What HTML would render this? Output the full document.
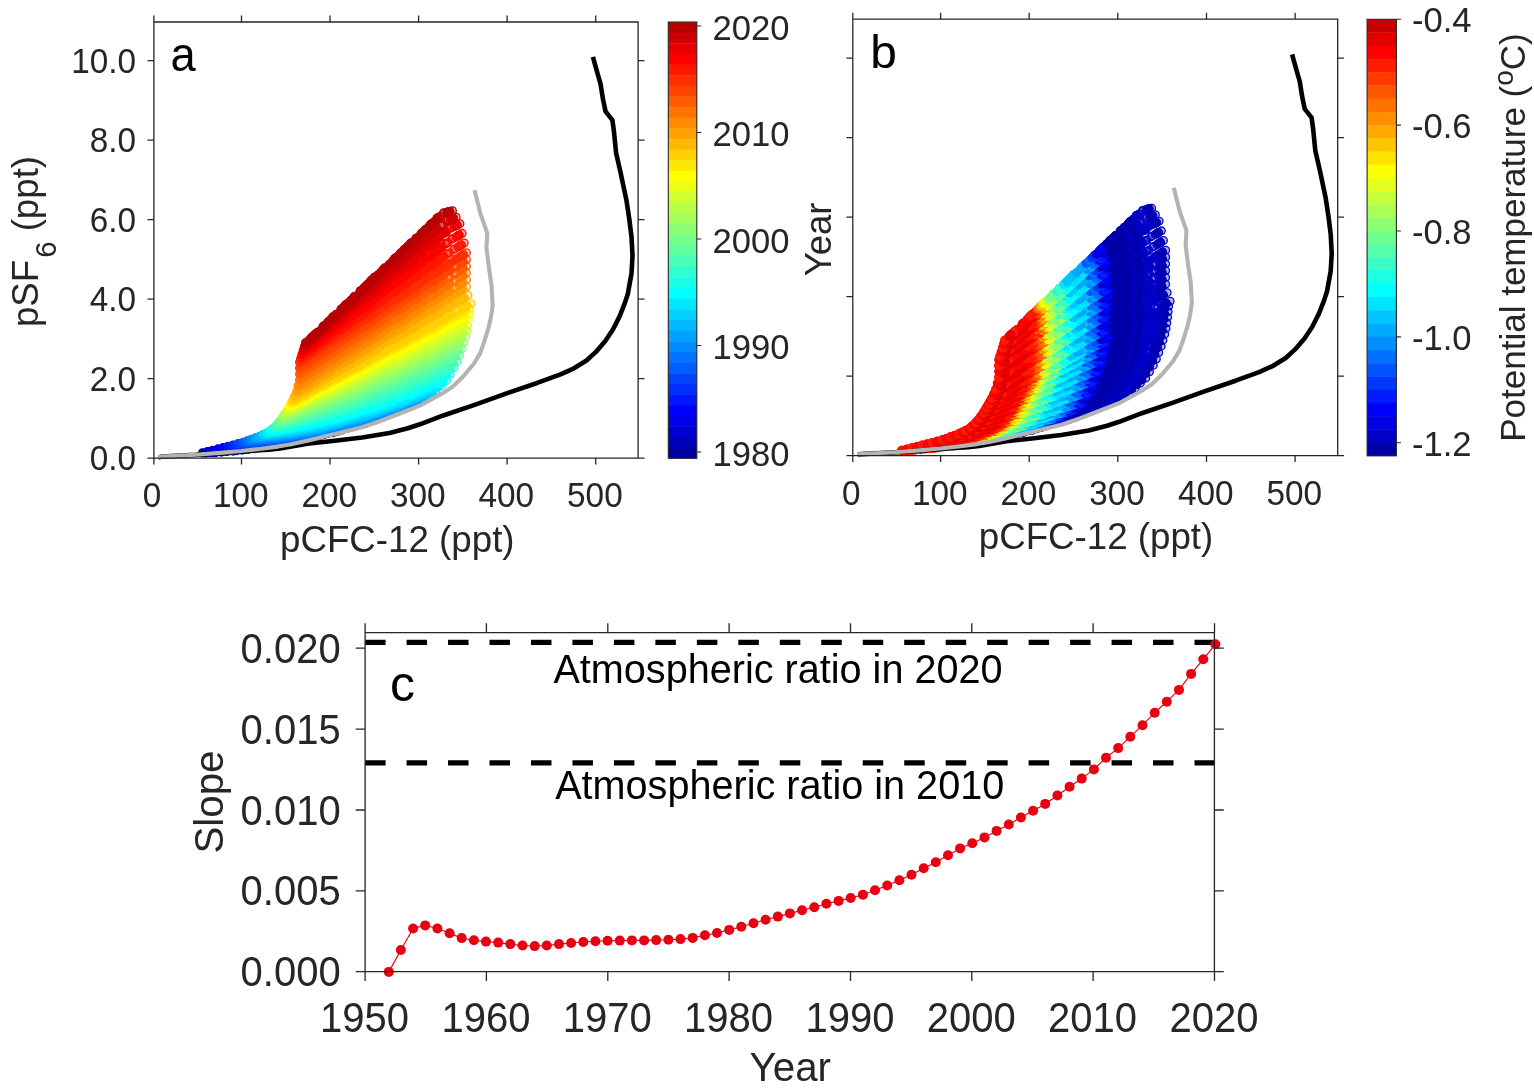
<!DOCTYPE html>
<html lang="en">
<head>
<meta charset="utf-8">
<title>pSF6 vs pCFC-12</title>
<style>
html,body{margin:0;padding:0;background:#fff}
body{width:1534px;height:1089px;overflow:hidden}
svg{display:block;font-family:"Liberation Sans",Arial,Helvetica,sans-serif}
</style>
</head>
<body>
<svg width="1534" height="1089" viewBox="0 0 1534 1089">
<rect width="1534" height="1089" fill="#fff"/>
<defs><marker id="a0" markerUnits="userSpaceOnUse" markerWidth="10" markerHeight="10" refX="5" refY="5"><circle cx="5" cy="5" r="3.8" fill="#0000a2" fill-opacity=".3" stroke="#0000a2" stroke-width="1.3"/></marker><marker id="a1" markerUnits="userSpaceOnUse" markerWidth="10" markerHeight="10" refX="5" refY="5"><circle cx="5" cy="5" r="3.8" fill="#0000b9" fill-opacity=".3" stroke="#0000b9" stroke-width="1.3"/></marker><marker id="a2" markerUnits="userSpaceOnUse" markerWidth="10" markerHeight="10" refX="5" refY="5"><circle cx="5" cy="5" r="3.8" fill="#0000d1" fill-opacity=".3" stroke="#0000d1" stroke-width="1.3"/></marker><marker id="a3" markerUnits="userSpaceOnUse" markerWidth="10" markerHeight="10" refX="5" refY="5"><circle cx="5" cy="5" r="3.8" fill="#0000e8" fill-opacity=".3" stroke="#0000e8" stroke-width="1.3"/></marker><marker id="a4" markerUnits="userSpaceOnUse" markerWidth="10" markerHeight="10" refX="5" refY="5"><circle cx="5" cy="5" r="3.8" fill="#0000ff" fill-opacity=".3" stroke="#0000ff" stroke-width="1.3"/></marker><marker id="a5" markerUnits="userSpaceOnUse" markerWidth="10" markerHeight="10" refX="5" refY="5"><circle cx="5" cy="5" r="3.8" fill="#0017ff" fill-opacity=".3" stroke="#0017ff" stroke-width="1.3"/></marker><marker id="a6" markerUnits="userSpaceOnUse" markerWidth="10" markerHeight="10" refX="5" refY="5"><circle cx="5" cy="5" r="3.8" fill="#002eff" fill-opacity=".3" stroke="#002eff" stroke-width="1.3"/></marker><marker id="a7" markerUnits="userSpaceOnUse" markerWidth="10" markerHeight="10" refX="5" refY="5"><circle cx="5" cy="5" r="3.8" fill="#0046ff" fill-opacity=".3" stroke="#0046ff" stroke-width="1.3"/></marker><marker id="a8" markerUnits="userSpaceOnUse" markerWidth="10" markerHeight="10" refX="5" refY="5"><circle cx="5" cy="5" r="3.8" fill="#005dff" fill-opacity=".3" stroke="#005dff" stroke-width="1.3"/></marker><marker id="a9" markerUnits="userSpaceOnUse" markerWidth="10" markerHeight="10" refX="5" refY="5"><circle cx="5" cy="5" r="3.8" fill="#0074ff" fill-opacity=".3" stroke="#0074ff" stroke-width="1.3"/></marker><marker id="a10" markerUnits="userSpaceOnUse" markerWidth="10" markerHeight="10" refX="5" refY="5"><circle cx="5" cy="5" r="3.8" fill="#008bff" fill-opacity=".3" stroke="#008bff" stroke-width="1.3"/></marker><marker id="a11" markerUnits="userSpaceOnUse" markerWidth="10" markerHeight="10" refX="5" refY="5"><circle cx="5" cy="5" r="3.8" fill="#00a2ff" fill-opacity=".3" stroke="#00a2ff" stroke-width="1.3"/></marker><marker id="a12" markerUnits="userSpaceOnUse" markerWidth="10" markerHeight="10" refX="5" refY="5"><circle cx="5" cy="5" r="3.8" fill="#00b9ff" fill-opacity=".3" stroke="#00b9ff" stroke-width="1.3"/></marker><marker id="a13" markerUnits="userSpaceOnUse" markerWidth="10" markerHeight="10" refX="5" refY="5"><circle cx="5" cy="5" r="3.8" fill="#00d1ff" fill-opacity=".3" stroke="#00d1ff" stroke-width="1.3"/></marker><marker id="a14" markerUnits="userSpaceOnUse" markerWidth="10" markerHeight="10" refX="5" refY="5"><circle cx="5" cy="5" r="3.8" fill="#00e8ff" fill-opacity=".3" stroke="#00e8ff" stroke-width="1.3"/></marker><marker id="a15" markerUnits="userSpaceOnUse" markerWidth="10" markerHeight="10" refX="5" refY="5"><circle cx="5" cy="5" r="3.8" fill="#00ffff" fill-opacity=".3" stroke="#00ffff" stroke-width="1.3"/></marker><marker id="a16" markerUnits="userSpaceOnUse" markerWidth="10" markerHeight="10" refX="5" refY="5"><circle cx="5" cy="5" r="3.8" fill="#17ffe8" fill-opacity=".3" stroke="#17ffe8" stroke-width="1.3"/></marker><marker id="a17" markerUnits="userSpaceOnUse" markerWidth="10" markerHeight="10" refX="5" refY="5"><circle cx="5" cy="5" r="3.8" fill="#2effd1" fill-opacity=".3" stroke="#2effd1" stroke-width="1.3"/></marker><marker id="a18" markerUnits="userSpaceOnUse" markerWidth="10" markerHeight="10" refX="5" refY="5"><circle cx="5" cy="5" r="3.8" fill="#46ffb9" fill-opacity=".3" stroke="#46ffb9" stroke-width="1.3"/></marker><marker id="a19" markerUnits="userSpaceOnUse" markerWidth="10" markerHeight="10" refX="5" refY="5"><circle cx="5" cy="5" r="3.8" fill="#5dffa2" fill-opacity=".3" stroke="#5dffa2" stroke-width="1.3"/></marker><marker id="a20" markerUnits="userSpaceOnUse" markerWidth="10" markerHeight="10" refX="5" refY="5"><circle cx="5" cy="5" r="3.8" fill="#74ff8b" fill-opacity=".3" stroke="#74ff8b" stroke-width="1.3"/></marker><marker id="a21" markerUnits="userSpaceOnUse" markerWidth="10" markerHeight="10" refX="5" refY="5"><circle cx="5" cy="5" r="3.8" fill="#8bff74" fill-opacity=".3" stroke="#8bff74" stroke-width="1.3"/></marker><marker id="a22" markerUnits="userSpaceOnUse" markerWidth="10" markerHeight="10" refX="5" refY="5"><circle cx="5" cy="5" r="3.8" fill="#a2ff5d" fill-opacity=".3" stroke="#a2ff5d" stroke-width="1.3"/></marker><marker id="a23" markerUnits="userSpaceOnUse" markerWidth="10" markerHeight="10" refX="5" refY="5"><circle cx="5" cy="5" r="3.8" fill="#b9ff46" fill-opacity=".3" stroke="#b9ff46" stroke-width="1.3"/></marker><marker id="a24" markerUnits="userSpaceOnUse" markerWidth="10" markerHeight="10" refX="5" refY="5"><circle cx="5" cy="5" r="3.8" fill="#d1ff2e" fill-opacity=".3" stroke="#d1ff2e" stroke-width="1.3"/></marker><marker id="a25" markerUnits="userSpaceOnUse" markerWidth="10" markerHeight="10" refX="5" refY="5"><circle cx="5" cy="5" r="3.8" fill="#e8ff17" fill-opacity=".3" stroke="#e8ff17" stroke-width="1.3"/></marker><marker id="a26" markerUnits="userSpaceOnUse" markerWidth="10" markerHeight="10" refX="5" refY="5"><circle cx="5" cy="5" r="3.8" fill="#ffff00" fill-opacity=".3" stroke="#ffff00" stroke-width="1.3"/></marker><marker id="a27" markerUnits="userSpaceOnUse" markerWidth="10" markerHeight="10" refX="5" refY="5"><circle cx="5" cy="5" r="3.8" fill="#ffe800" fill-opacity=".3" stroke="#ffe800" stroke-width="1.3"/></marker><marker id="a28" markerUnits="userSpaceOnUse" markerWidth="10" markerHeight="10" refX="5" refY="5"><circle cx="5" cy="5" r="3.8" fill="#ffd100" fill-opacity=".3" stroke="#ffd100" stroke-width="1.3"/></marker><marker id="a29" markerUnits="userSpaceOnUse" markerWidth="10" markerHeight="10" refX="5" refY="5"><circle cx="5" cy="5" r="3.8" fill="#ffb900" fill-opacity=".3" stroke="#ffb900" stroke-width="1.3"/></marker><marker id="a30" markerUnits="userSpaceOnUse" markerWidth="10" markerHeight="10" refX="5" refY="5"><circle cx="5" cy="5" r="3.8" fill="#ffa200" fill-opacity=".3" stroke="#ffa200" stroke-width="1.3"/></marker><marker id="a31" markerUnits="userSpaceOnUse" markerWidth="10" markerHeight="10" refX="5" refY="5"><circle cx="5" cy="5" r="3.8" fill="#ff8b00" fill-opacity=".3" stroke="#ff8b00" stroke-width="1.3"/></marker><marker id="a32" markerUnits="userSpaceOnUse" markerWidth="10" markerHeight="10" refX="5" refY="5"><circle cx="5" cy="5" r="3.8" fill="#ff7400" fill-opacity=".3" stroke="#ff7400" stroke-width="1.3"/></marker><marker id="a33" markerUnits="userSpaceOnUse" markerWidth="10" markerHeight="10" refX="5" refY="5"><circle cx="5" cy="5" r="3.8" fill="#ff5d00" fill-opacity=".3" stroke="#ff5d00" stroke-width="1.3"/></marker><marker id="a34" markerUnits="userSpaceOnUse" markerWidth="10" markerHeight="10" refX="5" refY="5"><circle cx="5" cy="5" r="3.8" fill="#ff4600" fill-opacity=".3" stroke="#ff4600" stroke-width="1.3"/></marker><marker id="a35" markerUnits="userSpaceOnUse" markerWidth="10" markerHeight="10" refX="5" refY="5"><circle cx="5" cy="5" r="3.8" fill="#ff2e00" fill-opacity=".3" stroke="#ff2e00" stroke-width="1.3"/></marker><marker id="a36" markerUnits="userSpaceOnUse" markerWidth="10" markerHeight="10" refX="5" refY="5"><circle cx="5" cy="5" r="3.8" fill="#ff1700" fill-opacity=".3" stroke="#ff1700" stroke-width="1.3"/></marker><marker id="a37" markerUnits="userSpaceOnUse" markerWidth="10" markerHeight="10" refX="5" refY="5"><circle cx="5" cy="5" r="3.8" fill="#ff0000" fill-opacity=".3" stroke="#ff0000" stroke-width="1.3"/></marker><marker id="a38" markerUnits="userSpaceOnUse" markerWidth="10" markerHeight="10" refX="5" refY="5"><circle cx="5" cy="5" r="3.8" fill="#e80000" fill-opacity=".3" stroke="#e80000" stroke-width="1.3"/></marker><marker id="a39" markerUnits="userSpaceOnUse" markerWidth="10" markerHeight="10" refX="5" refY="5"><circle cx="5" cy="5" r="3.8" fill="#d10000" fill-opacity=".3" stroke="#d10000" stroke-width="1.3"/></marker><marker id="a40" markerUnits="userSpaceOnUse" markerWidth="10" markerHeight="10" refX="5" refY="5"><circle cx="5" cy="5" r="3.8" fill="#b90000" fill-opacity=".3" stroke="#b90000" stroke-width="1.3"/></marker><style>.a0{stroke:#0000a2;marker:url(#a0)}.a1{stroke:#0000b9;marker:url(#a1)}.a2{stroke:#0000d1;marker:url(#a2)}.a3{stroke:#0000e8;marker:url(#a3)}.a4{stroke:#0000ff;marker:url(#a4)}.a5{stroke:#0017ff;marker:url(#a5)}.a6{stroke:#002eff;marker:url(#a6)}.a7{stroke:#0046ff;marker:url(#a7)}.a8{stroke:#005dff;marker:url(#a8)}.a9{stroke:#0074ff;marker:url(#a9)}.a10{stroke:#008bff;marker:url(#a10)}.a11{stroke:#00a2ff;marker:url(#a11)}.a12{stroke:#00b9ff;marker:url(#a12)}.a13{stroke:#00d1ff;marker:url(#a13)}.a14{stroke:#00e8ff;marker:url(#a14)}.a15{stroke:#00ffff;marker:url(#a15)}.a16{stroke:#17ffe8;marker:url(#a16)}.a17{stroke:#2effd1;marker:url(#a17)}.a18{stroke:#46ffb9;marker:url(#a18)}.a19{stroke:#5dffa2;marker:url(#a19)}.a20{stroke:#74ff8b;marker:url(#a20)}.a21{stroke:#8bff74;marker:url(#a21)}.a22{stroke:#a2ff5d;marker:url(#a22)}.a23{stroke:#b9ff46;marker:url(#a23)}.a24{stroke:#d1ff2e;marker:url(#a24)}.a25{stroke:#e8ff17;marker:url(#a25)}.a26{stroke:#ffff00;marker:url(#a26)}.a27{stroke:#ffe800;marker:url(#a27)}.a28{stroke:#ffd100;marker:url(#a28)}.a29{stroke:#ffb900;marker:url(#a29)}.a30{stroke:#ffa200;marker:url(#a30)}.a31{stroke:#ff8b00;marker:url(#a31)}.a32{stroke:#ff7400;marker:url(#a32)}.a33{stroke:#ff5d00;marker:url(#a33)}.a34{stroke:#ff4600;marker:url(#a34)}.a35{stroke:#ff2e00;marker:url(#a35)}.a36{stroke:#ff1700;marker:url(#a36)}.a37{stroke:#ff0000;marker:url(#a37)}.a38{stroke:#e80000;marker:url(#a38)}.a39{stroke:#d10000;marker:url(#a39)}.a40{stroke:#b90000;marker:url(#a40)}</style></defs>
<g fill="none" stroke-width="6.6" stroke-linecap="round" stroke-linejoin="round">
<polyline class="a0" points="202.5,452.7 202.7,453.0 206.1,453.1 208.3,452.6 210.1,452.4 212.0,452.9 212.9,452.5 213.5,452.5 215.8,452.7 221.4,452.2 221.7,451.6 222.2,451.5 226.3,451.5 228.5,451.1 232.0,450.1 233.2,451.2 235.6,450.5 236.3,450.7 241.1,449.4 242.2,450.2 242.3,449.5 244.0,449.5 245.7,448.7 246.9,449.1 246.9,449.1 247.7,449.0 249.2,449.0 251.9,448.5 253.3,448.7 255.1,447.9 255.8,447.6 256.1,447.9 257.3,448.0 261.9,447.6 262.2,447.3 262.2,446.3 263.3,447.0 263.9,447.3 265.6,446.5 267.0,446.1 267.6,446.3 267.7,446.0 268.6,446.3 268.8,446.0 269.1,446.5 269.8,446.0 270.5,445.4 271.0,445.9 271.2,445.9 272.4,445.1 273.1,445.1 274.4,444.1 274.6,445.3 277.7,444.2 277.7,443.6 277.8,443.7 277.9,444.3 280.0,444.3 281.4,443.7 284.9,443.3 287.8,442.1 288.9,441.8 293.8,441.7 297.1,440.8 298.8,440.2 299.6,440.6 300.2,439.5 300.8,439.6 302.7,439.8 304.6,439.7 305.7,438.7 306.0,439.3 306.6,438.2 309.1,438.0 309.2,437.8 310.5,436.9 313.1,437.0 314.0,437.1 314.5,436.5 314.7,436.5 317.1,436.5 317.1,435.4 317.7,435.2 318.1,435.4 323.1,434.0 323.6,434.8 324.6,434.2 328.5,432.6 330.2,432.3 332.9,432.9 333.3,431.4 333.4,431.3 336.5,430.9 337.6,430.7 338.5,430.3 339.2,429.6 340.0,429.3 341.3,429.6 343.2,428.8 346.5,427.2 347.7,427.9 349.3,427.3"/>
<polyline class="a0" stroke-width="0" points="349.3,427.3 353.4,425.7 354.8,425.5 358.1,425.0 359.3,424.5 360.7,424.1 361.3,424.4 362.3,423.8 362.5,424.2 366.0,423.2"/>
<polyline class="a1" points="207.6,451.4 207.8,451.7 211.2,451.8 213.4,451.4 215.2,451.1 217.0,451.6 217.9,451.2 218.5,451.3 220.8,451.4 226.4,451.0 226.7,450.4 227.2,450.2 231.3,450.2 233.5,449.9 236.9,448.8 238.2,450.0 240.6,449.2 241.3,449.4 246.1,448.1 247.1,449.0 247.2,448.2 248.9,448.2 250.6,447.5 251.8,447.8 251.8,447.8 252.6,447.7 254.1,447.8 256.8,447.3 258.2,447.4 260.0,446.6 260.7,446.3 260.9,446.7 262.2,446.7 266.8,446.3 267.0,446.1 267.0,445.0 268.1,445.7 268.7,446.1 270.4,445.2 271.8,444.8 272.4,445.0 272.5,444.7 273.4,445.0 273.6,444.7 273.9,445.2 274.6,444.7 275.3,444.1 275.8,444.6 276.0,444.7 277.2,443.9 277.9,443.8 279.2,442.8 279.4,444.1 282.4,442.9 282.5,442.3 282.6,442.4 282.7,443.0 284.7,443.0 286.2,442.4 289.6,442.0 292.5,440.8 293.6,440.5 298.5,440.3 301.8,439.5 303.4,438.9 304.3,439.2 304.9,438.2 305.4,438.3 307.3,438.4 309.2,438.3 310.4,437.3 310.7,437.9 311.2,436.9 313.8,436.6 313.9,436.4 315.1,435.6 317.7,435.7 318.6,435.7 319.1,435.2 319.3,435.1 321.7,435.1 321.7,434.0 322.3,433.8 322.7,434.0 327.6,432.5 328.2,433.4 329.1,432.7 333.1,431.2 334.7,430.8 337.5,431.4 337.8,430.0 337.9,429.9 341.0,429.4 342.1,429.2 343.0,428.8 343.7,428.1 344.5,427.8 345.8,428.1 347.7,427.3 351.0,425.6 352.2,426.4 353.7,425.7"/>
<polyline class="a1" stroke-width="0" points="353.7,425.7 357.8,424.1 359.2,423.9 362.6,423.4 363.7,423.0 365.1,422.5 365.7,422.8 366.7,422.2 366.9,422.6 370.4,421.6"/>
<polyline class="a2" points="212.7,450.1 212.9,450.4 216.3,450.5 218.5,450.1 220.3,449.8 222.1,450.3 223.0,449.9 223.6,450.0 225.9,450.1 231.4,449.7 231.7,449.1 232.2,449.0 236.3,449.0 238.4,448.6 241.9,447.6 243.1,448.7 245.6,447.9 246.2,448.2 251.0,446.9 252.1,447.7 252.2,447.0 253.8,447.0 255.6,446.2 256.7,446.6 256.8,446.5 257.5,446.5 259.0,446.5 261.7,446.0 263.1,446.2 264.9,445.3 265.5,445.0 265.8,445.4 267.0,445.5 271.6,445.0 271.9,444.8 271.9,443.8 273.0,444.5 273.5,444.8 275.2,444.0 276.6,443.5 277.2,443.8 277.3,443.4 278.2,443.7 278.4,443.4 278.7,443.9 279.4,443.5 280.1,442.9 280.6,443.3 280.8,443.4 282.0,442.6 282.7,442.5 284.0,441.5 284.2,442.8 287.2,441.6 287.3,441.0 287.4,441.1 287.5,441.7 289.5,441.7 290.9,441.1 294.4,440.7 297.2,439.5 298.4,439.1 303.2,439.0 306.5,438.1 308.1,437.6 309.0,437.9 309.6,436.9 310.1,436.9 312.0,437.1 313.9,437.0 315.0,436.0 315.3,436.6 315.9,435.5 318.4,435.3 318.5,435.0 319.7,434.2 322.3,434.3 323.2,434.3 323.7,433.8 324.0,433.7 326.3,433.7 326.4,432.6 326.9,432.4 327.4,432.6 332.2,431.1 332.7,432.0 333.7,431.3 337.6,429.7 339.3,429.4 342.0,430.0 342.4,428.5 342.5,428.4 345.5,427.9 346.7,427.7 347.5,427.3 348.2,426.6 349.0,426.3 350.4,426.6 352.2,425.8"/>
<polyline class="a2" stroke-width="0" points="352.2,425.8 355.5,424.1 356.7,424.8 358.2,424.2 362.3,422.6 363.7,422.3 367.0,421.8 368.2,421.4 369.5,421.0 370.1,421.2 371.2,420.6 371.3,421.0 374.8,420.0"/>
<polyline class="a3" points="217.8,448.8 218.0,449.1 221.3,449.2 223.6,448.8 225.3,448.5 227.2,449.0 228.0,448.6 228.6,448.7 230.9,448.9 236.4,448.4 236.7,447.8 237.2,447.7 241.3,447.7 243.4,447.3 246.9,446.3 248.1,447.4 250.5,446.7 251.2,446.9 255.9,445.6 257.0,446.5 257.1,445.7 258.7,445.7 260.5,445.0 261.7,445.3 261.7,445.3 262.4,445.2 263.9,445.3 266.6,444.7 267.9,444.9 269.8,444.1 270.4,443.8 270.7,444.1 271.9,444.2 276.5,443.8 276.7,443.5 276.7,442.5 277.8,443.2 278.4,443.5 280.1,442.7 281.4,442.2 282.0,442.5 282.1,442.1 283.0,442.4 283.2,442.1 283.6,442.6 284.2,442.2 284.9,441.6 285.4,442.0 285.6,442.1 286.8,441.3 287.5,441.2 288.8,440.2 289.0,441.5 292.0,440.3 292.1,439.7 292.1,439.8 292.3,440.4 294.3,440.4 295.7,439.8 299.1,439.4 302.0,438.2 303.1,437.8 307.9,437.7 311.2,436.8 312.8,436.2 313.7,436.5 314.3,435.5 314.8,435.6 316.7,435.7 318.6,435.6 319.7,434.6 320.0,435.2 320.6,434.2 323.1,433.9 323.2,433.7 324.4,432.8 327.0,432.9 327.9,432.9 328.3,432.4 328.6,432.3 330.9,432.3 331.0,431.2 331.5,431.0 332.0,431.2 336.8,429.7 337.3,430.6 338.3,429.9 342.2,428.3 343.8,427.9 346.5,428.5 346.9,427.0 347.0,426.9 350.1,426.4 351.2,426.2 352.0,425.8 352.7,425.1 353.5,424.8 354.9,425.1 356.7,424.2 360.0,422.6 361.2,423.3 362.7,422.6"/>
<polyline class="a3" stroke-width="0" points="362.7,422.6 366.7,421.0 368.1,420.7 371.4,420.2 372.6,419.8 373.9,419.4 374.6,419.7 375.6,419.0 375.7,419.4 379.2,418.4"/>
<polyline class="a4" points="222.9,447.5 223.1,447.8 226.4,447.9 228.6,447.5 230.4,447.2 232.2,447.7 233.1,447.3 233.7,447.4 235.9,447.6 241.4,447.2 241.7,446.6 242.3,446.4 246.3,446.4 248.4,446.1 251.9,445.0 253.1,446.2 255.5,445.4 256.1,445.6 260.9,444.4 261.9,445.2 262.0,444.5 263.6,444.4 265.4,443.7 266.6,444.1 266.6,444.0 267.3,444.0 268.8,444.0 271.5,443.5 272.8,443.7 274.6,442.8 275.3,442.5 275.6,442.9 276.8,442.9 281.3,442.5 281.6,442.3 281.6,441.2 282.6,441.9 283.2,442.3 284.9,441.4 286.3,441.0 286.8,441.2 286.9,440.9 287.8,441.2 288.0,440.9 288.4,441.4 289.0,440.9 289.7,440.3 290.2,440.7 290.4,440.8 291.6,440.0 292.3,440.0 293.6,439.0 293.8,440.2 296.8,439.1 296.8,438.4 296.9,438.6 297.1,439.1 299.1,439.2 300.5,438.5 303.9,438.1 306.7,436.8 307.8,436.5 312.6,436.4 315.9,435.5 317.5,434.9 318.3,435.2 319.0,434.2 319.5,434.3 321.3,434.4 323.2,434.3 324.3,433.3 324.6,433.8 325.2,432.8 327.7,432.5 327.8,432.3 329.0,431.4 331.6,431.5 332.5,431.5 333.0,431.0 333.2,430.9 335.5,430.9 335.6,429.8 336.1,429.6 336.6,429.8 341.4,428.2 341.9,429.1 342.9,428.4 346.7,426.8 348.4,426.5 351.1,427.0 351.5,425.5 351.5,425.5 354.6,424.9 355.7,424.7 356.5,424.3 357.3,423.6 358.0,423.3 359.4,423.6 361.2,422.7 364.5,421.0 365.7,421.7 367.2,421.1"/>
<polyline class="a4" stroke-width="0" points="367.2,421.1 371.2,419.4 372.6,419.1 375.9,418.6 377.0,418.2 378.4,417.8 379.0,418.1 380.0,417.4 380.2,417.9 383.6,416.8"/>
<polyline class="a5" points="228.0,446.2 228.2,446.5 231.5,446.6 233.7,446.2 235.5,446.0 237.3,446.4 238.1,446.0 238.7,446.1 241.0,446.3 246.5,445.9 246.8,445.3 247.3,445.2 251.3,445.2 253.4,444.8 256.8,443.8 258.0,444.9 260.4,444.2 261.1,444.4 265.8,443.1 266.9,444.0 266.9,443.2 268.6,443.2 270.3,442.5 271.5,442.8 271.5,442.8 272.2,442.7 273.7,442.7 276.4,442.2 277.7,442.4 279.5,441.6 280.1,441.3 280.4,441.6 281.6,441.7 286.1,441.2 286.4,441.0 286.4,440.0 287.5,440.7 288.0,441.0 289.7,440.2 291.1,439.7 291.7,439.9 291.8,439.6 292.6,439.9 292.9,439.6 293.2,440.1 293.9,439.6 294.5,439.0 295.0,439.5 295.2,439.6 296.4,438.7 297.1,438.7 298.4,437.7 298.6,438.9 301.6,437.8 301.6,437.1 301.7,437.3 301.8,437.9 303.8,437.9 305.2,437.2 308.6,436.8 311.4,435.5 312.6,435.2 317.3,435.0 320.6,434.1 322.2,433.5 323.0,433.9 323.6,432.8 324.2,432.9 326.0,433.0 327.9,432.9 329.0,431.9 329.3,432.5 329.9,431.4 332.3,431.2 332.5,430.9 333.7,430.1 336.2,430.1 337.1,430.1 337.6,429.6 337.8,429.6 340.1,429.5 340.2,428.4 340.7,428.2 341.2,428.4 346.0,426.8 346.5,427.7 347.5,427.0 351.3,425.4 352.9,425.0 355.6,425.6 356.0,424.1 356.1,424.0 359.1,423.5 360.2,423.2 361.1,422.8 361.8,422.1 362.5,421.8 363.9,422.0 365.7,421.2 368.9,419.5 370.1,420.2 371.6,419.5 375.7,417.8 377.0,417.6"/>
<polyline class="a5" stroke-width="0" points="377.0,417.6 380.3,417.0 381.4,416.6 382.8,416.2 383.4,416.5 384.4,415.9 384.6,416.3 388.0,415.2"/>
<polyline class="a6" points="233.0,444.9 233.2,445.1 236.5,445.3 238.7,444.9 240.5,444.6 242.3,445.1 243.2,444.7 243.8,444.8 246.0,444.9 251.5,444.5 251.8,443.9 252.3,443.8 256.4,443.8 258.5,443.4 262.0,442.3 263.2,443.5 265.5,442.7 266.2,442.9 270.9,441.6 272.0,442.5 272.1,441.7 273.7,441.7 275.5,441.0 276.6,441.3 276.6,441.3 277.4,441.2 278.9,441.2 281.6,440.7 282.9,440.9 284.7,440.0 285.3,439.7 285.6,440.1 286.8,440.1 291.4,439.7 291.6,439.4 291.6,438.4 292.7,439.1 293.3,439.4 295.0,438.6 296.3,438.1 296.9,438.3 297.0,438.0 297.9,438.3 298.1,438.0 298.4,438.5 299.1,438.0 299.8,437.4 300.2,437.8 300.5,437.9 301.7,437.1 302.4,437.0 303.6,436.0 303.8,437.3 306.8,436.1 306.9,435.5 307.0,435.6 307.1,436.2 309.1,436.2 310.5,435.5 313.9,435.0 316.8,433.8 317.9,433.5 322.7,433.3 325.9,432.3 327.6,431.7 328.4,432.0 329.0,431.0 329.5,431.1 331.4,431.2 333.3,431.0 334.4,430.0 334.7,430.6 335.2,429.5 337.7,429.3 337.8,429.0 339.1,428.1 341.6,428.2 342.5,428.2 343.0,427.6 343.2,427.6 345.6,427.5 345.6,426.5 346.1,426.2 346.6,426.4 351.4,424.8 351.9,425.7 352.9,425.0 356.8,423.3 358.4,422.9 361.1,423.5 361.5,421.9 361.6,421.9 364.6,421.3 365.7,421.1 366.6,420.6 367.3,419.9 368.0,419.6 369.4,419.9 371.2,419.0 374.5,417.2 375.7,417.9 377.2,417.3 381.2,415.5 382.6,415.2"/>
<polyline class="a6" stroke-width="0" points="382.6,415.2 385.9,414.7 387.0,414.2 388.4,413.8 389.0,414.1 390.0,413.5 390.2,413.9 393.6,412.8"/>
<polyline class="a7" points="238.0,443.5 238.2,443.8 241.5,444.0 243.8,443.5 245.5,443.2 247.4,443.7 248.2,443.3 248.8,443.4 251.1,443.6 256.6,443.1 256.9,442.5 257.4,442.4 261.5,442.3 263.6,442.0 267.1,440.9 268.3,442.1 270.7,441.3 271.4,441.5 276.1,440.2 277.2,441.0 277.2,440.2 278.9,440.2 280.6,439.5 281.8,439.8 281.8,439.8 282.5,439.7 284.0,439.7 286.7,439.2 288.1,439.3 289.9,438.5 290.5,438.2 290.8,438.5 292.0,438.6 296.6,438.1 296.9,437.9 296.9,436.8 297.9,437.5 298.5,437.8 300.2,437.0 301.6,436.5 302.1,436.7 302.2,436.4 303.1,436.7 303.3,436.4 303.7,436.9 304.4,436.4 305.0,435.8 305.5,436.2 305.7,436.3 306.9,435.5 307.6,435.4 308.9,434.4 309.1,435.6 312.1,434.4 312.2,433.8 312.2,433.9 312.4,434.5 314.4,434.5 315.8,433.8 319.2,433.3 322.1,432.1 323.2,431.7 328.0,431.5 331.3,430.5 332.9,429.9 333.7,430.2 334.4,429.2 334.9,429.2 336.8,429.3 338.6,429.2 339.7,428.1 340.0,428.7 340.6,427.7 343.1,427.4 343.2,427.1 344.5,426.2 347.0,426.2 347.9,426.3 348.4,425.7 348.6,425.7 351.0,425.6 351.0,424.5 351.6,424.2 352.0,424.4 356.9,422.8 357.4,423.6 358.4,422.9 362.2,421.2 363.9,420.8 366.6,421.3 367.0,419.8 367.0,419.7 370.1,419.2 371.2,418.9 372.1,418.5 372.8,417.8 373.5,417.4 374.9,417.7 376.7,416.8"/>
<polyline class="a7" stroke-width="0" points="376.7,416.8 380.0,415.0 381.2,415.7 382.7,415.0 386.8,413.2 388.1,412.9 391.5,412.3 392.6,411.9 393.9,411.5 394.6,411.7 395.6,411.1 395.7,411.5 399.2,410.4"/>
<polyline class="a8" points="243.0,442.2 243.2,442.5 246.5,442.6 248.8,442.2 250.6,441.9 252.4,442.4 253.3,442.0 253.9,442.0 256.1,442.2 261.7,441.7 262.0,441.1 262.5,441.0 266.6,440.9 268.7,440.6 272.2,439.5 273.4,440.6 275.8,439.8 276.5,440.0 281.2,438.7 282.3,439.5 282.4,438.8 284.0,438.7 285.8,438.0 287.0,438.3 287.0,438.3 287.7,438.2 289.2,438.2 291.9,437.7 293.3,437.8 295.1,436.9 295.7,436.6 296.0,437.0 297.2,437.0 301.8,436.5 302.1,436.3 302.1,435.2 303.1,435.9 303.7,436.2 305.4,435.4 306.8,434.9 307.4,435.1 307.5,434.8 308.4,435.0 308.6,434.7 308.9,435.2 309.6,434.8 310.3,434.1 310.7,434.6 311.0,434.7 312.2,433.8 312.9,433.7 314.2,432.7 314.4,434.0 317.4,432.7 317.5,432.1 317.5,432.2 317.7,432.8 319.7,432.8 321.1,432.1 324.5,431.6 327.4,430.3 328.5,430.0 333.3,429.7 336.6,428.7 338.3,428.1 339.1,428.4 339.7,427.3 340.2,427.4 342.1,427.5 344.0,427.3 345.1,426.3 345.4,426.8 346.0,425.8 348.5,425.4 348.6,425.2 349.8,424.3 352.4,424.3 353.3,424.3 353.8,423.7 354.0,423.7 356.4,423.6 356.4,422.5 357.0,422.3 357.4,422.5 362.3,420.7 362.8,421.6 363.8,420.9 367.7,419.2 369.3,418.7 372.1,419.2 372.4,417.7 372.5,417.6 375.6,417.0 376.7,416.8 377.6,416.3 378.3,415.6 379.0,415.2 380.4,415.5 382.3,414.5 385.5,412.7 386.7,413.4"/>
<polyline class="a8" stroke-width="0" points="386.7,413.4 388.2,412.7 392.3,410.9 393.7,410.6 397.0,410.0 398.2,409.5 399.5,409.1 400.2,409.4 401.2,408.7 401.3,409.1 404.8,408.0"/>
<polyline class="a9" points="247.1,440.7 247.3,441.0 250.7,441.1 253.0,440.6 254.8,440.4 256.6,440.9 257.5,440.4 258.1,440.5 260.4,440.7 266.0,440.2 266.3,439.6 266.8,439.5 270.9,439.4 273.1,439.0 276.6,437.9 277.8,439.0 280.2,438.3 280.9,438.5 285.7,437.1 286.8,437.9 286.9,437.2 288.5,437.1 290.3,436.4 291.5,436.7 291.5,436.7 292.2,436.6 293.7,436.6 296.5,436.0 297.8,436.2 299.7,435.3 300.3,435.0 300.6,435.3 301.9,435.4 306.5,434.8 306.7,434.6 306.7,433.6 307.8,434.2 308.4,434.5 310.1,433.7 311.5,433.2 312.1,433.4 312.2,433.0 313.1,433.3 313.3,433.0 313.6,433.5 314.3,433.0 315.0,432.4 315.5,432.8 315.7,432.9 316.9,432.1 317.6,432.0 318.9,431.0 319.1,432.2 322.2,431.0 322.3,430.3 322.3,430.5 322.5,431.1 324.5,431.0 325.9,430.4 329.4,429.8 332.3,428.5 333.4,428.1 338.3,427.8 341.6,426.8 343.3,426.2 344.1,426.5 344.7,425.4 345.2,425.5 347.2,425.6 349.1,425.4 350.2,424.3 350.5,424.9 351.1,423.8 353.6,423.5 353.7,423.3 354.9,422.3 357.6,422.3 358.5,422.3 358.9,421.7 359.2,421.7 361.6,421.6 361.6,420.5 362.1,420.2 362.6,420.4 367.5,418.7 368.0,419.5 369.0,418.8 372.9,417.1 374.6,416.6 377.4,417.1 377.8,415.6 377.8,415.5 380.9,414.8 382.1,414.6 382.9,414.1 383.6,413.4 384.4,413.0 385.8,413.2 387.6,412.3 390.9,410.5 392.2,411.1 393.7,410.4"/>
<polyline class="a9" stroke-width="0" points="393.7,410.4 397.8,408.6 399.2,408.2 402.6,407.6 403.7,407.2 405.1,406.7 405.7,407.0 406.7,406.3 406.9,406.7 410.4,405.6"/>
<polyline class="a10" points="251.2,439.2 251.5,439.5 254.9,439.6 257.1,439.1 259.0,438.9 260.8,439.3 261.7,438.9 262.3,439.0 264.6,439.1 270.3,438.7 270.6,438.0 271.1,437.9 275.2,437.8 277.4,437.4 280.9,436.3 282.2,437.5 284.6,436.7 285.3,436.9 290.2,435.5 291.3,436.3 291.3,435.6 293.0,435.5 294.8,434.7 296.0,435.1 296.0,435.0 296.8,434.9 298.3,435.0 301.1,434.4 302.4,434.5 304.3,433.6 304.9,433.3 305.2,433.7 306.5,433.7 311.1,433.1 311.4,432.9 311.4,431.9 312.5,432.5 313.1,432.9 314.8,432.0 316.2,431.5 316.8,431.7 316.9,431.3 317.8,431.6 318.0,431.3 318.4,431.8 319.1,431.3 319.7,430.7 320.2,431.1 320.5,431.2 321.7,430.3 322.4,430.3 323.7,429.2 323.9,430.5 327.0,429.2 327.1,428.6 327.1,428.7 327.3,429.3 329.3,429.2 330.8,428.6 334.3,428.0 337.2,426.7 338.3,426.3 343.2,426.0 346.6,424.9 348.2,424.3 349.1,424.6 349.7,423.5 350.3,423.6 352.2,423.6 354.1,423.4 355.2,422.4 355.5,423.0 356.1,421.9 358.7,421.5 358.8,421.3 360.0,420.4 362.7,420.3 363.6,420.3 364.1,419.7 364.3,419.7 366.7,419.5 366.8,418.5 367.3,418.2 367.8,418.4 372.7,416.6 373.2,417.5 374.3,416.7 378.2,414.9 379.9,414.5 382.7,414.9 383.1,413.4 383.1,413.3 386.3,412.7 387.4,412.4 388.3,411.9 389.0,411.2 389.8,410.8 391.2,411.0 393.0,410.1"/>
<polyline class="a10" stroke-width="0" points="393.0,410.1 396.4,408.2 397.6,408.9 399.1,408.1 403.3,406.2 404.7,405.9 408.1,405.3 409.3,404.8 410.6,404.4 411.3,404.6 412.3,404.0 412.5,404.4 416.0,403.2"/>
<polyline class="a11" points="255.4,437.7 255.6,438.0 259.0,438.0 261.4,437.5 263.2,437.2 265.1,437.7 266.0,437.2 266.6,437.3 269.0,437.4 274.7,436.8 275.0,436.2 275.5,436.0 279.7,435.9 281.9,435.5 285.5,434.3 286.8,435.4 289.3,434.6 290.0,434.8 294.9,433.3 296.0,434.1 296.1,433.3 297.8,433.3 299.6,432.5 300.8,432.8 300.8,432.7 301.6,432.6 303.1,432.6 305.9,432.0 307.3,432.1 309.2,431.2 309.9,430.9 310.2,431.2 311.5,431.2 316.2,430.6 316.5,430.3 316.5,429.3 317.6,429.9 318.2,430.3 319.9,429.3 321.3,428.8 321.9,429.0 322.0,428.7 323.0,428.9 323.2,428.6 323.5,429.1 324.2,428.6 324.9,428.0 325.4,428.4 325.7,428.5 326.9,427.6 327.6,427.5 329.0,426.5 329.1,427.7 332.3,426.4 332.4,425.8 332.4,425.9 332.6,426.5 334.7,426.4 336.1,425.7 339.7,425.0 342.6,423.7 343.8,423.3 348.8,422.9 352.2,421.8 353.9,421.1 354.7,421.4 355.4,420.3 355.9,420.4 357.9,420.4 359.8,420.2 361.0,419.1 361.3,419.7 361.9,418.6 364.5,418.2 364.6,418.0 365.8,417.0 368.5,416.9 369.5,416.9 369.9,416.3 370.2,416.3 372.6,416.1 372.7,415.0 373.2,414.8 373.7,414.9 378.7,413.1 379.3,413.9 380.3,413.2 384.3,411.3 386.0,410.8 388.8,411.3 389.2,409.7 389.3,409.6 392.5,408.9 393.6,408.6 394.5,408.2 395.2,407.4 396.0,407.0 397.4,407.2 399.4,406.2 402.7,404.3"/>
<polyline class="a11" stroke-width="0" points="402.7,404.3 404.0,405.0 405.5,404.2 409.8,402.3 411.2,401.9 414.6,401.2 415.8,400.8 417.2,400.3 417.9,400.5 418.9,399.9 419.1,400.3 422.7,399.0"/>
<polyline class="a12" points="259.5,436.2 259.7,436.5 263.2,436.5 265.6,435.9 267.4,435.6 269.4,436.0 270.3,435.5 270.9,435.6 273.3,435.6 279.1,435.0 279.4,434.3 280.0,434.2 284.2,434.0 286.5,433.5 290.1,432.3 291.4,433.3 293.9,432.5 294.6,432.6 299.6,431.1 300.8,431.9 300.8,431.1 302.6,431.0 304.4,430.2 305.6,430.4 305.7,430.4 306.4,430.3 308.0,430.3 310.8,429.6 312.3,429.7 314.2,428.7 314.9,428.4 315.2,428.7 316.4,428.7 321.2,428.0 321.5,427.8 321.5,426.7 322.6,427.4 323.2,427.7 325.0,426.7 326.5,426.2 327.1,426.4 327.2,426.0 328.1,426.3 328.3,426.0 328.7,426.4 329.4,425.9 330.1,425.3 330.6,425.7 330.8,425.8 332.1,424.9 332.8,424.8 334.2,423.7 334.4,424.9 337.6,423.6 337.7,422.9 337.7,423.1 337.9,423.6 340.0,423.5 341.5,422.8 345.1,422.1 348.1,420.7 349.3,420.3 354.3,419.8 357.8,418.7 359.5,418.0 360.4,418.2 361.0,417.1 361.6,417.2 363.5,417.2 365.5,416.9 366.7,415.8 367.0,416.4 367.6,415.3 370.3,414.9 370.4,414.6 371.7,413.7 374.4,413.6 375.3,413.5 375.8,412.9 376.1,412.9 378.5,412.7 378.6,411.6 379.1,411.3 379.6,411.5 384.7,409.6 385.3,410.4 386.3,409.6 390.4,407.7 392.1,407.2 395.0,407.6 395.4,406.0 395.4,406.0 398.7,405.2 399.9,404.9 400.7,404.4 401.5,403.7 402.3,403.3 403.7,403.4 405.7,402.4 409.1,400.5 410.4,401.1 412.0,400.3"/>
<polyline class="a12" stroke-width="0" points="412.0,400.3 416.2,398.3 417.7,397.9 421.2,397.2 422.4,396.7 423.8,396.2 424.5,396.4 425.5,395.7 425.7,396.1 429.3,394.8"/>
<polyline class="a13" points="262.8,434.5 263.1,434.8 266.6,434.7 269.0,434.1 270.9,433.8 272.9,434.1 273.8,433.7 274.5,433.7 276.9,433.7 282.8,433.0 283.1,432.3 283.7,432.2 288.1,431.9 290.3,431.4 294.0,430.1 295.4,431.1 297.9,430.2 298.7,430.4 303.7,428.7 304.9,429.5 305.0,428.8 306.7,428.6 308.6,427.8 309.9,428.0 309.9,428.0 310.7,427.9 312.3,427.8 315.2,427.1 316.6,427.2 318.6,426.2 319.3,425.8 319.6,426.1 320.9,426.1 325.8,425.3 326.1,425.1 326.1,424.1 327.2,424.7 327.8,425.0 329.6,424.0 331.1,423.4 331.7,423.6 331.8,423.3 332.8,423.5 333.0,423.2 333.4,423.7 334.1,423.1 334.8,422.5 335.3,422.9 335.6,422.9 336.9,422.0 337.6,421.9 339.0,420.8 339.2,422.1 342.4,420.6 342.5,420.0 342.6,420.1 342.7,420.7 344.9,420.6 346.4,419.8 350.1,419.1 353.1,417.6 354.3,417.2 359.5,416.6 363.0,415.5 364.8,414.7 365.7,415.0 366.3,413.9 366.9,413.9 368.9,413.9 370.9,413.6 372.1,412.5 372.4,413.1 373.1,412.0 375.8,411.5 375.9,411.3 377.2,410.3 380.0,410.1 380.9,410.1 381.4,409.5 381.7,409.4 384.2,409.2 384.2,408.1 384.8,407.8 385.3,408.0 390.5,406.0 391.1,406.8 392.1,406.0 396.3,404.1 398.0,403.5 401.0,403.9 401.4,402.3 401.4,402.2 404.7,401.4 405.9,401.1 406.8,400.6 407.6,399.9 408.4,399.5 409.9,399.6 411.9,398.6 415.4,396.6"/>
<polyline class="a13" stroke-width="0" points="415.4,396.6 416.7,397.2 418.3,396.4 422.6,394.3 424.1,393.9 427.7,393.2 428.9,392.6 430.4,392.1 431.0,392.3 432.1,391.6 432.3,392.0 436.0,390.7"/>
<polyline class="a14" points="266.2,432.9 266.4,433.1 270.0,433.0 272.4,432.3 274.4,431.9 276.3,432.3 277.3,431.8 277.9,431.8 280.4,431.8 286.4,430.9 286.7,430.2 287.3,430.1 291.7,429.7 294.0,429.1 297.7,427.7 299.0,428.8 301.7,427.8 302.4,428.0 307.5,426.2 308.7,427.0 308.8,426.2 310.6,426.0 312.5,425.1 313.7,425.4 313.8,425.3 314.5,425.2 316.2,425.1 319.1,424.3 320.6,424.4 322.5,423.3 323.2,423.0 323.5,423.3 324.9,423.3 329.8,422.4 330.1,422.1 330.1,421.1 331.2,421.7 331.9,421.9 333.7,420.9 335.2,420.3 335.8,420.5 335.9,420.2 336.9,420.4 337.1,420.1 337.5,420.5 338.2,420.0 338.9,419.3 339.5,419.7 339.7,419.8 341.0,418.8 341.8,418.7 343.2,417.6 343.4,418.8 346.7,417.3 346.7,416.7 346.8,416.8 347.0,417.4 349.1,417.2 350.7,416.5 354.4,415.6 357.5,414.1 358.7,413.7 363.9,413.0 367.5,411.8 369.2,411.0 370.2,411.2 370.8,410.1 371.4,410.2 373.4,410.1 375.5,409.8 376.7,408.7 377.0,409.2 377.6,408.1 380.4,407.6 380.5,407.3 381.8,406.3 384.6,406.1 385.6,406.1 386.1,405.4 386.3,405.4 388.9,405.1 388.9,404.0 389.5,403.7 390.0,403.9 395.3,401.8 395.8,402.6 396.9,401.8 401.1,399.8 402.9,399.2 405.8,399.5 406.2,398.0 406.3,397.9 409.6,397.0 410.9,396.7 411.8,396.1 412.6,395.4 413.4,395.0 414.8,395.1 416.8,394.0 420.4,392.0 421.7,392.5 423.3,391.7 427.7,389.6 429.2,389.2"/>
<polyline class="a14" stroke-width="0" points="429.2,389.2 432.8,388.3 434.1,387.8 435.5,387.2 436.2,387.4 437.3,386.7 437.5,387.1 441.2,385.7"/>
<polyline class="a15" points="269.5,431.2 269.7,431.4 273.4,431.2 275.8,430.5 277.8,430.1 279.8,430.4 280.7,429.9 281.4,429.9 283.9,429.8 289.9,428.8 290.2,428.1 290.8,427.9 295.3,427.5 297.6,426.9 301.4,425.4 302.7,426.4 305.4,425.4 306.1,425.5 311.3,423.7 312.5,424.4 312.6,423.6 314.4,423.4 316.3,422.5 317.6,422.7 317.6,422.7 318.4,422.5 320.0,422.4 323.0,421.6 324.5,421.6 326.5,420.5 327.2,420.1 327.5,420.4 328.8,420.4 333.8,419.4 334.1,419.1 334.1,418.1 335.3,418.7 335.9,418.9 337.8,417.9 339.3,417.3 339.9,417.4 340.0,417.1 341.0,417.3 341.2,416.9 341.6,417.4 342.4,416.8 343.1,416.2 343.6,416.6 343.9,416.6 345.2,415.7 345.9,415.5 347.4,414.4 347.6,415.6 350.9,414.0 350.9,413.4 351.0,413.5 351.2,414.1 353.4,413.9 354.9,413.1 358.7,412.2 361.8,410.6 363.0,410.1 368.3,409.4 371.9,408.1 373.7,407.3 374.6,407.5 375.3,406.4 375.9,406.4 377.9,406.3 380.0,405.9 381.2,404.8 381.5,405.4 382.2,404.2 384.9,403.6 385.1,403.4 386.4,402.4 389.2,402.1 390.2,402.0 390.7,401.4 391.0,401.4 393.5,401.0 393.6,399.9 394.2,399.6 394.7,399.8 400.0,397.6 400.6,398.4 401.6,397.6 405.9,395.5 407.7,394.9 410.7,395.1 411.1,393.6 411.2,393.5 414.5,392.6 415.8,392.2 416.7,391.7 417.5,390.9 418.3,390.5 419.8,390.6 421.8,389.5 425.4,387.3 426.7,387.9 428.4,387.0 432.8,384.8 434.3,384.4"/>
<polyline class="a15" stroke-width="0" points="434.3,384.4 438.0,383.5 439.3,382.9 440.7,382.3 441.4,382.5 442.5,381.8 442.7,382.2 446.5,380.7"/>
<polyline class="a16" points="271.9,429.2 272.1,429.4 275.8,429.1 278.3,428.3 280.2,427.8 282.3,428.0 283.2,427.4 283.9,427.4 286.4,427.2 292.5,426.0 292.8,425.3 293.4,425.1 297.9,424.5 300.2,423.8 304.1,422.2 305.4,423.2 308.1,422.1 308.8,422.2 314.0,420.2 315.2,420.9 315.3,420.1 317.1,419.8 319.1,418.8 320.4,419.0 320.4,419.0 321.2,418.8 322.8,418.6 325.8,417.7 327.3,417.7 329.3,416.5 330.0,416.2 330.4,416.5 331.7,416.4 336.7,415.2 337.0,415.0 337.0,413.9 338.2,414.4 338.8,414.7 340.7,413.6 342.3,412.9 342.9,413.1 343.0,412.7 344.0,412.9 344.2,412.6 344.6,413.0 345.3,412.4 346.1,411.7 346.6,412.1 346.8,412.2 348.2,411.2 348.9,411.0 350.4,409.8 350.6,411.0 353.9,409.4 354.0,408.8 354.1,408.9 354.2,409.5 356.4,409.2 358.0,408.4 361.8,407.4 364.9,405.7 366.2,405.2 371.5,404.4 375.1,403.0 376.9,402.1 377.9,402.3 378.5,401.2 379.1,401.2 381.2,401.1 383.3,400.7 384.5,399.5 384.8,400.1 385.5,398.9 388.2,398.3 388.4,398.0 389.7,397.0 392.6,396.7 393.6,396.6 394.1,396.0 394.3,395.9 396.9,395.5 397.0,394.4 397.6,394.1 398.1,394.2 403.4,392.0 404.0,392.8 405.1,391.9 409.4,389.8 411.2,389.2 414.2,389.3 414.6,387.8 414.7,387.7 418.1,386.7 419.3,386.4 420.3,385.8 421.1,385.0 421.9,384.6 423.4,384.7 425.4,383.5"/>
<polyline class="a16" stroke-width="0" points="425.4,383.5 429.0,381.4 430.4,381.9 432.0,381.0 436.5,378.8 438.0,378.3 441.7,377.3 443.0,376.7 444.5,376.1 445.2,376.3 446.3,375.5 446.5,375.9 450.3,374.3"/>
<polyline class="a17" points="274.3,427.2 274.5,427.4 278.2,426.9 280.7,426.0 282.7,425.4 284.7,425.6 285.7,425.0 286.4,425.0 288.9,424.7 295.0,423.2 295.4,422.5 296.0,422.3 300.5,421.5 302.9,420.8 306.7,419.1 308.1,420.0 310.7,418.8 311.5,418.9 316.8,416.7 318.0,417.3 318.1,416.6 319.9,416.3 321.8,415.2 323.1,415.3 323.2,415.3 324.0,415.1 325.6,414.9 328.7,413.8 330.1,413.8 332.2,412.6 332.9,412.2 333.2,412.5 334.6,412.3 339.6,411.0 339.9,410.8 339.9,409.7 341.1,410.2 341.8,410.5 343.7,409.3 345.2,408.6 345.8,408.7 346.0,408.4 346.9,408.5 347.2,408.2 347.6,408.6 348.3,408.0 349.0,407.3 349.6,407.7 349.8,407.7 351.2,406.7 352.0,406.5 353.4,405.3 353.6,406.5 357.0,404.8 357.0,404.2 357.1,404.3 357.3,404.8 359.5,404.5 361.1,403.6 364.9,402.6 368.1,400.8 369.3,400.3 374.7,399.3 378.3,397.9 380.2,397.0 381.1,397.2 381.8,396.0 382.4,396.0 384.4,395.9 386.5,395.4 387.8,394.2 388.1,394.8 388.8,393.6 391.6,392.9 391.7,392.7 393.0,391.6 395.9,391.2 396.9,391.1 397.4,390.5 397.7,390.4 400.3,390.0 400.4,388.9 401.0,388.6 401.5,388.7 406.9,386.4 407.4,387.1 408.5,386.3 412.9,384.1 414.7,383.4 417.7,383.6 418.1,382.0 418.2,381.9 421.6,380.9 422.9,380.5 423.8,379.9 424.6,379.1 425.5,378.7 427.0,378.7 429.0,377.6 432.7,375.4 434.0,375.9 435.7,375.0"/>
<polyline class="a17" stroke-width="0" points="435.7,375.0 440.2,372.7 441.8,372.2 445.5,371.1 446.7,370.5 448.2,369.8 448.9,370.0 450.1,369.2 450.2,369.6 454.1,367.9"/>
<polyline class="a18" points="276.5,425.0 276.7,425.2 280.5,424.6 283.0,423.6 284.9,422.9 287.0,423.0 288.0,422.4 288.6,422.3 291.2,422.0 297.3,420.3 297.7,419.6 298.3,419.4 302.8,418.4 305.2,417.6 309.1,415.7 310.4,416.6 313.1,415.3 313.9,415.4 319.2,413.0 320.4,413.7 320.5,412.9 322.3,412.5 324.3,411.4 325.6,411.5 325.6,411.4 326.4,411.2 328.1,410.9 331.1,409.8 332.6,409.7 334.7,408.5 335.4,408.0 335.7,408.3 337.1,408.2 342.2,406.7 342.5,406.5 342.5,405.4 343.7,405.9 344.3,406.1 346.2,404.9 347.8,404.2 348.4,404.3 348.5,403.9 349.5,404.0 349.7,403.7 350.1,404.1 350.9,403.5 351.6,402.8 352.2,403.1 352.4,403.2 353.8,402.1 354.5,401.9 356.0,400.6 356.2,401.9 359.6,400.1 359.7,399.4 359.7,399.5 359.9,400.1 362.1,399.7 363.7,398.8 367.6,397.7 370.7,395.9 372.0,395.3 377.4,394.2 381.0,392.7 382.9,391.8 383.8,391.9 384.5,390.8 385.1,390.8 387.2,390.5 389.3,390.1 390.6,388.8 390.9,389.4 391.5,388.2 394.3,387.5 394.5,387.2 395.8,386.1 398.7,385.7 399.7,385.6 400.2,385.0 400.5,384.9 403.1,384.4 403.2,383.3 403.8,383.0 404.3,383.1 409.7,380.7 410.3,381.5 411.4,380.6 415.7,378.3 417.6,377.6 420.6,377.7 421.1,376.2 421.1,376.1 424.6,375.0 425.8,374.6 426.8,374.0 427.6,373.2 428.4,372.8 429.9,372.8 432.0,371.6 435.7,369.4 437.0,369.9 438.7,369.0 443.3,366.6 444.8,366.1"/>
<polyline class="a18" stroke-width="0" points="444.8,366.1 448.5,364.9 449.8,364.2 451.3,363.5 452.0,363.7 453.1,362.9 453.3,363.3 457.2,361.5"/>
<polyline class="a19" points="278.5,422.6 278.7,422.8 282.5,422.0 285.0,421.0 287.0,420.2 289.0,420.2 290.0,419.6 290.7,419.5 293.2,419.0 299.4,417.1 299.7,416.5 300.3,416.2 304.9,415.1 307.3,414.2 311.1,412.2 312.5,413.1 315.2,411.7 316.0,411.7 321.3,409.2 322.5,409.8 322.6,409.0 324.4,408.6 326.4,407.4 327.7,407.5 327.7,407.5 328.5,407.2 330.2,406.9 333.2,405.7 334.8,405.5 336.8,404.3 337.5,403.8 337.8,404.1 339.2,403.9 344.3,402.3 344.6,402.0 344.6,401.0 345.8,401.4 346.5,401.6 348.4,400.4 349.9,399.6 350.6,399.7 350.7,399.3 351.7,399.4 351.9,399.1 352.3,399.5 353.0,398.9 353.8,398.1 354.3,398.5 354.6,398.5 355.9,397.4 356.7,397.2 358.2,395.9 358.4,397.1 361.8,395.2 361.8,394.6 361.9,394.7 362.1,395.3 364.3,394.8 365.9,393.9 369.8,392.6 372.9,390.8 374.2,390.2 379.6,389.0 383.3,387.4 385.1,386.5 386.1,386.6 386.7,385.5 387.3,385.4 389.4,385.2 391.6,384.6 392.8,383.4 393.1,383.9 393.8,382.8 396.6,382.0 396.7,381.7 398.1,380.6 401.0,380.1 402.0,380.0 402.5,379.4 402.8,379.3 405.4,378.8 405.5,377.7 406.1,377.3 406.6,377.5 412.0,374.9 412.6,375.7 413.7,374.8 418.1,372.5 419.9,371.8 423.0,371.9 423.4,370.3 423.5,370.2 426.9,369.1 428.2,368.7 429.1,368.1 429.9,367.3 430.8,366.8 432.3,366.8 434.4,365.7 438.0,363.4 439.4,363.9 441.1,363.0 445.6,360.5 447.2,360.0"/>
<polyline class="a19" stroke-width="0" points="447.2,360.0 450.9,358.7 452.2,358.0 453.7,357.3 454.4,357.4 455.5,356.6 455.7,356.9 459.6,355.1"/>
<polyline class="a20" points="280.5,420.2 280.7,420.4 284.5,419.5 287.0,418.3 289.0,417.5 291.0,417.4 292.0,416.8 292.7,416.7 295.2,416.1 301.4,414.0 301.8,413.3 302.4,413.0 306.9,411.8 309.3,410.8 313.2,408.7 314.6,409.5 317.3,408.1 318.1,408.1 323.4,405.4 324.6,406.0 324.7,405.2 326.5,404.7 328.5,403.5 329.8,403.5 329.8,403.5 330.7,403.2 332.3,402.8 335.4,401.6 336.9,401.4 338.9,400.0 339.7,399.5 340.0,399.8 341.3,399.6 346.5,397.9 346.8,397.6 346.8,396.6 348.0,397.0 348.6,397.1 350.5,395.9 352.1,395.0 352.7,395.1 352.8,394.8 353.8,394.8 354.1,394.5 354.4,394.9 355.2,394.2 355.9,393.5 356.5,393.8 356.8,393.8 358.1,392.7 358.9,392.4 360.3,391.1 360.5,392.3 363.9,390.4 364.0,389.7 364.1,389.9 364.2,390.4 366.5,389.9 368.1,388.9 372.0,387.6 375.1,385.7 376.4,385.1 381.8,383.8 385.5,382.1 387.4,381.2 388.3,381.3 389.0,380.1 389.6,380.1 391.7,379.8 393.8,379.2 395.1,378.0 395.4,378.5 396.1,377.3 398.9,376.5 399.0,376.2 400.4,375.1 403.3,374.6 404.3,374.4 404.8,373.8 405.1,373.7 407.7,373.1 407.8,372.0 408.4,371.7 408.9,371.8 414.3,369.2 414.9,370.0 416.0,369.1 420.4,366.7 422.2,366.0 425.3,366.0 425.7,364.4 425.8,364.3 429.2,363.2 430.5,362.8 431.4,362.2 432.3,361.3 433.1,360.9 434.6,360.9 436.7,359.7 440.4,357.4 441.7,357.9"/>
<polyline class="a20" stroke-width="0" points="441.7,357.9 443.4,356.9 448.0,354.5 449.5,353.8 453.3,352.5 454.6,351.8 456.1,351.0 456.8,351.1 457.9,350.3 458.1,350.6 462.0,348.7"/>
<polyline class="a21" points="282.3,417.6 282.5,417.8 286.3,416.8 288.8,415.5 290.8,414.7 292.8,414.5 293.8,413.8 294.5,413.7 297.0,413.1 303.2,410.8 303.6,410.1 304.2,409.8 308.7,408.4 311.1,407.4 315.0,405.2 316.4,406.0 319.1,404.4 319.9,404.4 325.2,401.6 326.4,402.2 326.5,401.4 328.3,400.9 330.3,399.6 331.6,399.6 331.6,399.5 332.5,399.2 334.1,398.8 337.2,397.5 338.7,397.3 340.7,395.9 341.5,395.4 341.8,395.6 343.1,395.4 348.3,393.6 348.6,393.3 348.6,392.2 349.8,392.6 350.4,392.8 352.3,391.5 353.9,390.6 354.5,390.7 354.6,390.3 355.6,390.4 355.9,390.0 356.2,390.4 357.0,389.7 357.7,389.0 358.3,389.3 358.6,389.3 359.9,388.1 360.7,387.9 362.1,386.5 362.3,387.7 365.7,385.7 365.8,385.1 365.9,385.2 366.0,385.8 368.3,385.2 369.9,384.2 373.8,382.8 376.9,380.9 378.2,380.2 383.6,378.8 387.3,377.1 389.2,376.1 390.1,376.2 390.8,375.0 391.4,375.0 393.5,374.7 395.6,374.1 396.9,372.8 397.2,373.3 397.9,372.1 400.7,371.2 400.8,371.0 402.2,369.8 405.1,369.3 406.1,369.1 406.6,368.4 406.9,368.4 409.5,367.8 409.6,366.7 410.2,366.3 410.7,366.4 416.1,363.8 416.7,364.5 417.8,363.6 422.2,361.2 424.0,360.5 427.1,360.5 427.5,358.9 427.6,358.8 431.0,357.6 432.3,357.2 433.2,356.6 434.1,355.7 434.9,355.2 436.4,355.2 438.5,354.0 442.2,351.7"/>
<polyline class="a21" stroke-width="0" points="442.2,351.7 443.5,352.2 445.2,351.2 449.8,348.7 451.3,348.1 455.1,346.7 456.4,345.9 457.9,345.1 458.6,345.2 459.7,344.3 459.9,344.7 463.8,342.7"/>
<polyline class="a22" points="284.1,415.0 284.3,415.2 288.1,414.1 290.6,412.7 292.6,411.8 294.6,411.6 295.6,410.9 296.3,410.7 298.8,410.1 305.0,407.6 305.4,406.9 306.0,406.6 310.5,405.1 312.9,404.0 316.8,401.7 318.2,402.4 320.9,400.8 321.7,400.8 327.0,397.9 328.2,398.3 328.3,397.6 330.1,397.0 332.1,395.7 333.4,395.6 333.4,395.6 334.3,395.3 335.9,394.8 339.0,393.4 340.5,393.2 342.5,391.7 343.3,391.2 343.6,391.5 344.9,391.2 350.1,389.3 350.4,389.0 350.4,387.9 351.6,388.3 352.2,388.4 354.1,387.1 355.7,386.2 356.3,386.2 356.4,385.9 357.4,385.9 357.7,385.5 358.0,385.9 358.8,385.2 359.5,384.4 360.1,384.7 360.4,384.8 361.7,383.6 362.5,383.3 363.9,381.9 364.1,383.1 367.5,381.1 367.6,380.4 367.7,380.5 367.8,381.1 370.1,380.5 371.7,379.5 375.6,378.0 378.7,376.0 380.0,375.3 385.4,373.9 389.1,372.1 391.0,371.0 391.9,371.1 392.6,369.9 393.2,369.9 395.3,369.5 397.4,368.9 398.7,367.6 399.0,368.1 399.7,366.9 402.5,366.0 402.6,365.8 404.0,364.6 406.9,364.0 407.9,363.8 408.4,363.1 408.7,363.0 411.3,362.4 411.4,361.4 412.0,361.0 412.5,361.1 417.9,358.4 418.5,359.1 419.6,358.2 424.0,355.7 425.8,354.9 428.9,354.9 429.3,353.3 429.4,353.2 432.8,352.0 434.1,351.6 435.0,351.0 435.9,350.1 436.7,349.6 438.2,349.6 440.3,348.4 444.0,346.0 445.3,346.5 447.0,345.5 451.6,343.0 453.1,342.3"/>
<polyline class="a22" stroke-width="0" points="453.1,342.3 456.9,340.8 458.2,340.0 459.7,339.2 460.4,339.3 461.5,338.4 461.7,338.8 465.6,336.7"/>
<polyline class="a23" points="285.7,412.5 285.9,412.7 289.7,411.4 292.2,410.1 294.2,409.1 296.2,408.8 297.2,408.0 297.9,407.9 300.4,407.1 306.6,404.5 306.9,403.8 307.5,403.4 312.1,401.8 314.5,400.6 318.4,398.3 319.7,399.0 322.4,397.3 323.2,397.3 328.5,394.2 329.7,394.7 329.8,393.9 331.6,393.3 333.6,391.9 334.9,391.8 334.9,391.8 335.8,391.4 337.4,391.0 340.5,389.5 342.0,389.2 344.0,387.7 344.8,387.2 345.1,387.4 346.4,387.1 351.6,385.1 351.9,384.8 351.9,383.7 353.1,384.1 353.7,384.2 355.6,382.8 357.2,381.9 357.8,381.9 357.9,381.6 358.9,381.6 359.2,381.2 359.5,381.6 360.3,380.9 361.0,380.1 361.6,380.4 361.8,380.4 363.2,379.2 364.0,378.9 365.4,377.5 365.6,378.7 369.0,376.6 369.1,375.9 369.2,376.0 369.3,376.6 371.6,375.9 373.2,374.9 377.0,373.4 380.2,371.3 381.5,370.6 386.9,369.0 390.5,367.2 392.4,366.1 393.3,366.2 394.0,365.0 394.6,365.0 396.7,364.6 398.8,363.9 400.1,362.6 400.4,363.1 401.1,361.9 403.9,361.0 404.0,360.7 405.4,359.5 408.3,358.9 409.3,358.7 409.8,358.0 410.1,357.9 412.7,357.3 412.7,356.2 413.3,355.8 413.9,355.9 419.3,353.1 419.9,353.9 421.0,352.9 425.3,350.4 427.2,349.6 430.2,349.5 430.7,348.0 430.7,347.9 434.2,346.6 435.4,346.2 436.4,345.5 437.2,344.7 438.1,344.2 439.6,344.2 441.6,342.9 445.3,340.5 446.7,341.0 448.4,340.0 452.9,337.4 454.5,336.7"/>
<polyline class="a23" stroke-width="0" points="454.5,336.7 458.2,335.2 459.5,334.4 461.0,333.5 461.7,333.6 462.8,332.7 463.0,333.0 466.9,330.9"/>
<polyline class="a24" points="287.1,410.1 287.3,410.3 291.1,408.9 293.6,407.5 295.5,406.4 297.6,406.1 298.6,405.3 299.2,405.1 301.8,404.3 307.9,401.5 308.3,400.8 308.9,400.4 313.4,398.7 315.8,397.5 319.7,395.0 321.0,395.6 323.7,393.9 324.5,393.8 329.8,390.7 331.0,391.1 331.1,390.3 332.9,389.7 334.8,388.2 336.2,388.1 336.2,388.1 337.0,387.7 338.7,387.2 341.7,385.7 343.2,385.3 345.3,383.8 346.0,383.3 346.3,383.5 347.6,383.2 352.7,381.0 353.0,380.7 353.0,379.7 354.2,380.0 354.9,380.1 356.8,378.7 358.3,377.7 359.0,377.8 359.1,377.4 360.1,377.4 360.3,377.0 360.7,377.4 361.4,376.7 362.2,375.9 362.7,376.1 363.0,376.1 364.3,374.9 365.1,374.6 366.5,373.2 366.7,374.4 370.1,372.2 370.2,371.5 370.3,371.6 370.4,372.2 372.7,371.5 374.3,370.4 378.1,368.8 381.3,366.7 382.5,366.0 387.9,364.4 391.6,362.5 393.4,361.4 394.4,361.5 395.0,360.2 395.6,360.2 397.7,359.8 399.8,359.1 401.1,357.7 401.4,358.3 402.1,357.0 404.9,356.1 405.0,355.8 406.4,354.6 409.3,353.9 410.3,353.7 410.8,353.0 411.1,352.9 413.7,352.3 413.7,351.2 414.3,350.8 414.8,350.9 420.3,348.0 420.8,348.8 421.9,347.8 426.3,345.3 428.1,344.5 431.2,344.4 431.6,342.8 431.7,342.7 435.1,341.4 436.4,340.9 437.3,340.3 438.1,339.5 439.0,339.0 440.5,338.9 442.5,337.6 446.2,335.2"/>
<polyline class="a24" stroke-width="0" points="446.2,335.2 447.5,335.7 449.2,334.7 453.8,332.1 455.3,331.4 459.0,329.7 460.3,328.9 461.8,328.0 462.5,328.1 463.6,327.2 463.8,327.5 467.7,325.3"/>
<polyline class="a25" points="288.5,407.7 288.7,407.9 292.4,406.4 294.9,404.9 296.9,403.8 298.9,403.4 299.9,402.6 300.6,402.4 303.1,401.5 309.3,398.5 309.6,397.8 310.2,397.4 314.7,395.6 317.1,394.3 320.9,391.7 322.3,392.3 325.0,390.5 325.7,390.4 331.0,387.1 332.2,387.5 332.3,386.7 334.1,386.0 336.1,384.6 337.4,384.4 337.4,384.4 338.2,384.0 339.9,383.5 342.9,381.9 344.4,381.5 346.5,379.9 347.2,379.4 347.5,379.6 348.8,379.2 353.9,377.0 354.2,376.7 354.2,375.6 355.4,375.9 356.1,376.0 357.9,374.6 359.5,373.6 360.1,373.6 360.2,373.2 361.2,373.2 361.5,372.8 361.8,373.2 362.6,372.5 363.3,371.6 363.9,371.9 364.1,371.9 365.5,370.6 366.2,370.3 367.7,368.9 367.9,370.1 371.2,367.8 371.3,367.2 371.4,367.3 371.6,367.8 373.8,367.1 375.4,366.0 379.2,364.3 382.4,362.2 383.6,361.4 389.0,359.7 392.6,357.8 394.5,356.6 395.4,356.7 396.1,355.5 396.7,355.4 398.8,354.9 400.9,354.2 402.1,352.9 402.4,353.4 403.1,352.2 405.9,351.2 406.0,350.9 407.4,349.7 410.3,349.0 411.2,348.7 411.8,348.1 412.0,348.0 414.6,347.2 414.7,346.2 415.3,345.8 415.8,345.9 421.2,343.0 421.8,343.7 422.9,342.7 427.2,340.1 429.0,339.3 432.1,339.2 432.5,337.6 432.6,337.5 436.0,336.2 437.3,335.7 438.2,335.1 439.0,334.2 439.8,333.7 441.4,333.7 443.4,332.4 447.1,329.9 448.4,330.4 450.1,329.4"/>
<polyline class="a25" stroke-width="0" points="450.1,329.4 454.6,326.7 456.1,326.0 459.9,324.3 461.1,323.4 462.6,322.5 463.3,322.6 464.5,321.6 464.6,322.0 468.5,319.7"/>
<polyline class="a26" points="289.8,405.4 290.1,405.5 293.8,404.0 296.2,402.4 298.2,401.3 300.2,400.9 301.2,400.0 301.9,399.8 304.4,398.9 310.5,395.8 310.8,395.0 311.4,394.7 315.9,392.7 318.3,391.4 322.1,388.7 323.5,389.3 326.1,387.5 326.9,387.4 332.2,384.0 333.4,384.3 333.4,383.6 335.3,382.8 337.2,381.3 338.5,381.2 338.5,381.1 339.3,380.7 341.0,380.2 344.0,378.5 345.5,378.1 347.5,376.5 348.2,375.9 348.5,376.2 349.9,375.7 354.9,373.4 355.2,373.1 355.2,372.1 356.4,372.3 357.1,372.4 359.0,370.9 360.5,369.9 361.1,369.9 361.2,369.5 362.2,369.5 362.5,369.1 362.8,369.5 363.6,368.7 364.3,367.9 364.8,368.1 365.1,368.1 366.4,366.9 367.2,366.5 368.6,365.0 368.8,366.2 372.2,363.9 372.3,363.3 372.4,363.4 372.5,363.9 374.7,363.2 376.3,362.0 380.1,360.3 383.3,358.1 384.5,357.3 389.9,355.5 393.5,353.5 395.3,352.4 396.2,352.4 396.9,351.2 397.5,351.1 399.6,350.6 401.7,349.8 402.9,348.5 403.2,349.0 403.9,347.7 406.7,346.7 406.8,346.4 408.1,345.2 411.0,344.4 412.0,344.2 412.5,343.5 412.8,343.4 415.4,342.6 415.5,341.5 416.0,341.1 416.6,341.2 421.9,338.2 422.5,338.9 423.6,338.0 427.9,335.3 429.7,334.4 432.7,334.3 433.2,332.7 433.2,332.6 436.7,331.2 437.9,330.7 438.8,330.1 439.6,329.2 440.5,328.7 442.0,328.6 444.0,327.3 447.7,324.8 449.0,325.2 450.7,324.2 455.2,321.5"/>
<polyline class="a26" stroke-width="0" points="455.2,321.5 456.7,320.7 460.4,318.9 461.7,318.1 463.2,317.2 463.9,317.2 465.0,316.2 465.2,316.5 469.0,314.2"/>
<polyline class="a27" points="291.2,403.0 291.4,403.2 295.1,401.6 297.5,400.0 299.5,398.8 301.5,398.3 302.5,397.5 303.1,397.2 305.6,396.2 311.7,393.0 312.1,392.3 312.6,391.9 317.1,389.9 319.5,388.5 323.3,385.8 324.7,386.3 327.3,384.4 328.1,384.3 333.3,380.8 334.5,381.2 334.6,380.4 336.4,379.6 338.3,378.1 339.6,377.9 339.6,377.9 340.4,377.4 342.1,376.8 345.1,375.1 346.6,374.7 348.6,373.0 349.3,372.5 349.6,372.7 350.9,372.2 356.0,369.8 356.3,369.5 356.3,368.5 357.5,368.7 358.1,368.8 360.0,367.3 361.5,366.2 362.1,366.2 362.2,365.8 363.2,365.8 363.5,365.4 363.8,365.8 364.6,365.0 365.3,364.1 365.8,364.4 366.1,364.4 367.4,363.1 368.2,362.7 369.6,361.2 369.8,362.4 373.1,360.0 373.2,359.4 373.3,359.5 373.5,360.0 375.7,359.2 377.2,358.1 381.0,356.3 384.2,354.0 385.4,353.2 390.7,351.3 394.3,349.2 396.2,348.1 397.1,348.1 397.8,346.8 398.3,346.7 400.4,346.2 402.5,345.4 403.7,344.1 404.1,344.5 404.7,343.3 407.5,342.2 407.6,341.9 408.9,340.6 411.8,339.9 412.8,339.6 413.3,338.9 413.6,338.8 416.1,338.0 416.2,336.9 416.8,336.5 417.3,336.6 422.7,333.5 423.2,334.2 424.3,333.2 428.6,330.5 430.4,329.6 433.4,329.4 433.8,327.8 433.9,327.7 437.3,326.3 438.5,325.7 439.5,325.1 440.3,324.2 441.1,323.6 442.6,323.6 444.6,322.2 448.3,319.6 449.6,320.0 451.2,319.0 455.7,316.2 457.3,315.4"/>
<polyline class="a27" stroke-width="0" points="457.3,315.4 460.9,313.6 462.2,312.7 463.7,311.8 464.4,311.8 465.5,310.8 465.7,311.1 469.5,308.7"/>
<polyline class="a28" points="292.5,400.7 292.7,400.9 296.4,399.2 298.9,397.5 300.8,396.3 302.9,395.8 303.8,394.9 304.5,394.7 307.0,393.7 313.1,390.4 313.4,389.6 314.0,389.2 318.5,387.1 320.8,385.7 324.7,382.9 326.0,383.4 328.7,381.5 329.4,381.4 334.7,377.8 335.9,378.1 335.9,377.3 337.8,376.5 339.7,375.0 341.0,374.7 341.0,374.7 341.8,374.3 343.5,373.7 346.5,371.9 347.9,371.4 350.0,369.8 350.7,369.2 351.0,369.4 352.3,368.9 357.4,366.4 357.7,366.1 357.7,365.1 358.8,365.3 359.5,365.4 361.4,363.8 362.9,362.7 363.5,362.7 363.6,362.3 364.6,362.3 364.9,361.9 365.2,362.2 366.0,361.5 366.7,360.6 367.2,360.8 367.5,360.8 368.8,359.5 369.6,359.1 371.0,357.6 371.2,358.8 374.6,356.4 374.6,355.7 374.7,355.8 374.9,356.4 377.1,355.5 378.7,354.3 382.4,352.5 385.6,350.2 386.8,349.4 392.1,347.4 395.8,345.3 397.6,344.1 398.5,344.1 399.2,342.8 399.8,342.7 401.9,342.2 403.9,341.4 405.2,340.0 405.5,340.4 406.1,339.2 408.9,338.0 409.0,337.8 410.4,336.5 413.2,335.6 414.2,335.4 414.7,334.7 415.0,334.5 417.6,333.7 417.7,332.6 418.2,332.2 418.8,332.3 424.1,329.1 424.7,329.8 425.8,328.8 430.1,326.0 431.9,325.1 434.9,324.9 435.3,323.2 435.4,323.1 438.8,321.7 440.0,321.2 440.9,320.5 441.7,319.6 442.6,319.0 444.1,318.9 446.1,317.5 449.7,314.9"/>
<polyline class="a28" stroke-width="0" points="449.7,314.9 451.1,315.3 452.7,314.3 457.2,311.4 458.7,310.6 462.4,308.7 463.7,307.8 465.2,306.8 465.9,306.9 467.0,305.8 467.2,306.2 471.0,303.7"/>
<polyline class="a29" points="294.5,396.2 294.7,396.4 298.3,394.6 300.7,392.9 302.6,391.6 304.6,391.1 305.5,390.2 306.2,389.9 308.6,388.8 314.5,385.3 314.8,384.6 315.4,384.2 319.8,382.0 322.1,380.5 325.8,377.6 327.1,378.1 329.7,376.1 330.4,376.0 335.5,372.2 336.6,372.6 336.7,371.8 338.5,370.9 340.4,369.3 341.6,369.1 341.7,369.0 342.4,368.6 344.0,367.9 347.0,366.1 348.4,365.6 350.4,363.9 351.0,363.3 351.4,363.5 352.7,363.0 357.6,360.4 357.8,360.0 357.8,359.0 359.0,359.2 359.6,359.3 361.4,357.7 362.9,356.6 363.5,356.5 363.6,356.1 364.6,356.0 364.8,355.7 365.2,356.0 365.9,355.2 366.6,354.3 367.1,354.6 367.4,354.5 368.7,353.2 369.4,352.8 370.8,351.2 371.0,352.4 374.3,349.9 374.3,349.3 374.4,349.4 374.6,349.9 376.7,349.0 378.2,347.8 381.9,345.9 385.0,343.5 386.2,342.7 391.4,340.6 394.9,338.4 396.6,337.1 397.5,337.1 398.2,335.8 398.8,335.7 400.8,335.1 402.8,334.3 404.0,332.8 404.3,333.3 405.0,332.0 407.7,330.8 407.8,330.6 409.1,329.2 411.9,328.4 412.8,328.1 413.3,327.3 413.6,327.2 416.1,326.3 416.1,325.3 416.7,324.8 417.2,324.9 422.4,321.6 423.0,322.3 424.0,321.3 428.2,318.4 430.0,317.4 432.9,317.1 433.3,315.5 433.4,315.4 436.7,313.9 437.9,313.3 438.8,312.6 439.6,311.7 440.4,311.1 441.8,311.0 443.8,309.6 447.3,306.9 448.6,307.3 450.2,306.2 454.6,303.2"/>
<polyline class="a29" stroke-width="0" points="454.6,303.2 456.1,302.4 459.7,300.4 460.9,299.5 462.3,298.5 463.0,298.5 464.1,297.4 464.3,297.8 468.0,295.2"/>
<polyline class="a30" points="296.5,391.7 296.7,391.8 300.2,390.0 302.6,388.2 304.4,386.9 306.4,386.3 307.3,385.4 307.9,385.1 310.3,383.9 316.1,380.3 316.4,379.6 317.0,379.1 321.3,376.8 323.5,375.3 327.1,372.3 328.4,372.8 331.0,370.7 331.7,370.6 336.7,366.7 337.8,367.0 337.9,366.2 339.6,365.3 341.4,363.7 342.7,363.4 342.7,363.4 343.5,362.9 345.0,362.2 347.9,360.3 349.3,359.8 351.2,358.0 351.9,357.4 352.2,357.6 353.5,357.1 358.3,354.3 358.6,354.0 358.6,353.0 359.7,353.1 360.3,353.2 362.1,351.5 363.5,350.4 364.1,350.3 364.2,350.0 365.2,349.8 365.4,349.4 365.8,349.8 366.5,349.0 367.2,348.1 367.7,348.3 367.9,348.3 369.2,346.9 369.9,346.5 371.3,344.9 371.5,346.1 374.6,343.5 374.7,342.8 374.8,342.9 374.9,343.5 377.1,342.5 378.6,341.3 382.2,339.3 385.2,336.8 386.3,336.0 391.4,333.7 394.8,331.5 396.6,330.2 397.5,330.2 398.1,328.9 398.7,328.7 400.6,328.1 402.6,327.2 403.8,325.7 404.1,326.2 404.7,324.9 407.4,323.7 407.5,323.4 408.8,322.0 411.5,321.1 412.4,320.8 412.9,320.0 413.2,319.9 415.6,319.0 415.7,317.9 416.3,317.4 416.7,317.5 421.9,314.1 422.4,314.8 423.4,313.7 427.5,310.7 429.2,309.8 432.1,309.4 432.5,307.8 432.6,307.6 435.8,306.1 437.0,305.5 437.9,304.8 438.6,303.8 439.4,303.3 440.9,303.1 442.8,301.6 446.2,298.9 447.5,299.2 449.1,298.1 453.4,295.0 454.8,294.1"/>
<polyline class="a30" stroke-width="0" points="454.8,294.1 458.3,292.1 459.5,291.1 461.0,290.1 461.6,290.1 462.7,289.0 462.9,289.3 466.5,286.7"/>
<polyline class="a31" points="298.0,385.7 298.2,385.8 301.7,384.0 304.0,382.1 305.9,380.8 307.8,380.2 308.7,379.3 309.3,379.0 311.7,377.8 317.5,374.2 317.8,373.4 318.3,373.0 322.6,370.6 324.8,369.1 328.4,366.1 329.7,366.6 332.2,364.5 332.9,364.3 337.9,360.4 339.0,360.7 339.1,359.9 340.8,359.0 342.7,357.4 343.9,357.1 343.9,357.0 344.7,356.6 346.2,355.9 349.1,353.9 350.5,353.4 352.4,351.6 353.0,351.0 353.4,351.2 354.6,350.6 359.4,347.9 359.7,347.5 359.7,346.5 360.8,346.7 361.4,346.7 363.2,345.0 364.6,343.9 365.2,343.9 365.3,343.5 366.2,343.3 366.5,342.9 366.8,343.3 367.5,342.5 368.2,341.6 368.7,341.8 369.0,341.8 370.2,340.4 370.9,340.0 372.3,338.4 372.5,339.5 375.6,336.9 375.7,336.3 375.8,336.4 375.9,336.9 378.0,336.0 379.5,334.7 383.1,332.7 386.1,330.2 387.3,329.3 392.3,327.1 395.7,324.8 397.4,323.5 398.3,323.4 399.0,322.1 399.5,322.0 401.5,321.3 403.4,320.4 404.6,319.0 404.9,319.4 405.5,318.1 408.2,316.9 408.3,316.6 409.5,315.2 412.2,314.3 413.2,313.9 413.7,313.2 413.9,313.1 416.4,312.1 416.4,311.0 417.0,310.6 417.5,310.6 422.5,307.2 423.1,307.9 424.1,306.8 428.2,303.8 429.9,302.8 432.7,302.4 433.1,300.8 433.2,300.7 436.4,299.1 437.6,298.5 438.5,297.8 439.2,296.8 440.0,296.2 441.4,296.0 443.4,294.6 446.8,291.8 448.0,292.1 449.6,291.0"/>
<polyline class="a31" stroke-width="0" points="449.6,291.0 453.9,287.9 455.2,287.1 458.6,285.1 459.8,284.2 461.2,283.2 461.8,283.2 462.8,282.1 463.0,282.5 466.5,279.9"/>
<polyline class="a32" points="299.5,379.7 299.7,379.8 303.2,377.9 305.5,376.1 307.3,374.8 309.2,374.2 310.1,373.2 310.8,372.9 313.1,371.7 318.9,368.1 319.2,367.3 319.7,366.8 323.9,364.5 326.1,362.9 329.7,359.9 331.0,360.3 333.5,358.2 334.2,358.1 339.1,354.1 340.3,354.4 340.3,353.6 342.0,352.7 343.9,351.0 345.1,350.7 345.1,350.7 345.9,350.2 347.4,349.5 350.2,347.5 351.6,347.0 353.5,345.2 354.2,344.6 354.5,344.8 355.7,344.2 360.5,341.4 360.8,341.1 360.8,340.1 361.9,340.2 362.5,340.3 364.2,338.6 365.7,337.4 366.3,337.4 366.4,337.0 367.3,336.8 367.5,336.4 367.9,336.8 368.6,336.0 369.2,335.0 369.7,335.3 370.0,335.2 371.2,333.8 372.0,333.4 373.3,331.8 373.5,333.0 376.6,330.4 376.7,329.7 376.8,329.8 376.9,330.3 379.0,329.4 380.5,328.1 384.1,326.0 387.0,323.5 388.2,322.7 393.2,320.4 396.6,318.0 398.3,316.7 399.2,316.7 399.8,315.4 400.3,315.3 402.3,314.6 404.2,313.7 405.4,312.2 405.7,312.7 406.3,311.4 408.9,310.1 409.0,309.8 410.3,308.4 413.0,307.4 413.9,307.1 414.4,306.4 414.7,306.2 417.1,305.3 417.1,304.2 417.7,303.7 418.2,303.7 423.2,300.3 423.7,301.0 424.8,299.9 428.8,296.9 430.5,295.9 433.3,295.4 433.7,293.8 433.8,293.7 437.0,292.1 438.2,291.5 439.0,290.7 439.8,289.8 440.6,289.2 442.0,289.0 443.9,287.5 447.3,284.7"/>
<polyline class="a32" stroke-width="0" points="447.3,284.7 448.5,285.0 450.1,283.9 454.3,280.8 455.7,280.0 458.9,278.1 460.0,277.2 461.3,276.2 462.0,276.3 463.0,275.2 463.1,275.6 466.5,273.1"/>
<polyline class="a33" points="299.5,373.9 299.7,374.0 303.2,372.1 305.5,370.2 307.4,368.9 309.3,368.2 310.2,367.3 310.8,367.0 313.2,365.8 318.9,362.1 319.2,361.3 319.8,360.8 324.0,358.4 326.2,356.8 329.8,353.8 331.1,354.2 333.6,352.1 334.3,351.9 339.2,348.0 340.4,348.2 340.4,347.4 342.1,346.5 344.0,344.8 345.2,344.5 345.2,344.5 346.0,344.0 347.5,343.3 350.3,341.3 351.7,340.7 353.7,338.9 354.3,338.3 354.6,338.5 355.9,337.9 360.6,335.1 360.9,334.7 360.9,333.7 362.0,333.8 362.6,333.9 364.4,332.2 365.8,331.0 366.4,331.0 366.5,330.6 367.4,330.4 367.7,330.0 368.0,330.4 368.7,329.5 369.4,328.6 369.9,328.8 370.2,328.8 371.4,327.4 372.1,327.0 373.5,325.3 373.7,326.5 376.8,323.9 376.9,323.2 377.0,323.3 377.1,323.8 379.2,322.9 380.7,321.6 384.3,319.5 387.2,316.9 388.4,316.1 393.4,313.7 396.8,311.4 398.5,310.0 399.4,310.0 400.0,308.7 400.6,308.6 402.5,307.9 404.5,306.9 405.7,305.4 406.0,305.9 406.6,304.6 409.2,303.3 409.3,303.0 410.6,301.6 413.3,300.6 414.2,300.3 414.7,299.5 414.9,299.4 417.4,298.4 417.4,297.3 418.0,296.9 418.5,296.9 423.5,293.4 424.0,294.1 425.1,293.0 429.1,289.9 430.8,288.9 433.7,288.5 434.1,286.8 434.1,286.7 437.3,285.1 438.5,284.4 439.4,283.7 440.1,282.8 440.9,282.2 442.3,281.9 444.2,280.4"/>
<polyline class="a33" stroke-width="0" points="444.2,280.4 447.6,277.6 448.9,277.9 450.5,276.7 454.7,273.7 456.0,272.9 459.1,271.1 460.2,270.2 461.5,269.3 462.1,269.3 463.1,268.3 463.2,268.7 466.5,266.3"/>
<polyline class="a34" points="299.5,368.0 299.7,368.2 303.2,366.2 305.5,364.3 307.4,363.0 309.3,362.3 310.2,361.4 310.8,361.1 313.2,359.8 319.0,356.1 319.3,355.3 319.8,354.8 324.1,352.4 326.3,350.8 329.9,347.7 331.2,348.1 333.7,346.0 334.4,345.8 339.3,341.8 340.5,342.0 340.5,341.2 342.2,340.3 344.1,338.6 345.3,338.3 345.3,338.2 346.1,337.8 347.6,337.0 350.5,335.0 351.9,334.4 353.8,332.6 354.4,332.0 354.7,332.2 356.0,331.6 360.8,328.7 361.0,328.4 361.1,327.3 362.2,327.5 362.8,327.5 364.5,325.8 366.0,324.6 366.6,324.6 366.7,324.2 367.6,324.0 367.8,323.6 368.2,323.9 368.9,323.1 369.6,322.2 370.1,322.4 370.3,322.3 371.6,320.9 372.3,320.5 373.7,318.9 373.8,320.0 377.0,317.4 377.1,316.7 377.1,316.8 377.3,317.3 379.4,316.3 380.9,315.0 384.4,312.9 387.4,310.3 388.6,309.5 393.6,307.1 397.0,304.7 398.7,303.4 399.6,303.3 400.3,302.0 400.8,301.8 402.8,301.1 404.7,300.2 405.9,298.7 406.2,299.2 406.8,297.8 409.4,296.5 409.6,296.2 410.8,294.8 413.5,293.8 414.5,293.5 414.9,292.7 415.2,292.6 417.6,291.6 417.7,290.5 418.3,290.0 418.7,290.0 423.8,286.5 424.3,287.2 425.4,286.1 429.4,283.0 431.1,281.9 434.0,281.5 434.4,279.8 434.4,279.7 437.6,278.0 438.8,277.4 439.7,276.6 440.5,275.7 441.2,275.1 442.7,274.9 444.6,273.3 448.0,270.5 449.3,270.8"/>
<polyline class="a34" stroke-width="0" points="449.3,270.8 450.8,269.6 455.0,266.5 456.3,265.8 459.4,264.1 460.4,263.2 461.6,262.3 462.2,262.4 463.2,261.4 463.3,261.8 466.5,259.5"/>
<polyline class="a35" points="299.5,362.2 299.7,362.3 303.2,360.3 305.5,358.4 307.4,357.1 309.3,356.4 310.2,355.4 310.8,355.1 313.2,353.9 319.0,350.1 319.3,349.3 319.9,348.8 324.1,346.3 326.3,344.7 330.0,341.6 331.2,342.0 333.7,339.8 334.5,339.7 339.4,335.6 340.5,335.8 340.6,335.0 342.3,334.1 344.2,332.4 345.4,332.0 345.4,332.0 346.2,331.5 347.7,330.7 350.6,328.7 352.0,328.1 353.9,326.3 354.6,325.7 354.9,325.8 356.1,325.3 360.9,322.3 361.2,322.0 361.2,321.0 362.3,321.1 362.9,321.1 364.7,319.4 366.1,318.2 366.7,318.1 366.8,317.7 367.8,317.6 368.0,317.2 368.3,317.5 369.1,316.7 369.7,315.7 370.2,315.9 370.5,315.9 371.7,314.5 372.5,314.0 373.8,312.4 374.0,313.5 377.2,310.8 377.3,310.2 377.3,310.3 377.5,310.8 379.6,309.8 381.1,308.5 384.6,306.3 387.6,303.7 388.8,302.9 393.8,300.4 397.3,298.0 399.0,296.6 399.9,296.6 400.5,295.3 401.0,295.1 403.0,294.4 405.0,293.4 406.2,291.9 406.5,292.4 407.1,291.1 409.7,289.7 409.8,289.4 411.1,288.0 413.8,287.0 414.7,286.6 415.2,285.8 415.5,285.7 417.9,284.7 418.0,283.6 418.5,283.1 419.0,283.1 424.1,279.6 424.6,280.2 425.7,279.1 429.7,276.0 431.4,274.9 434.3,274.4 434.7,272.8 434.8,272.7 438.0,271.0 439.1,270.3 440.0,269.6 440.8,268.6 441.6,268.0 443.0,267.8 444.9,266.2 448.3,263.3 449.6,263.6 451.2,262.4 455.4,259.3 456.6,258.6"/>
<polyline class="a35" stroke-width="0" points="456.6,258.6 459.6,257.0 460.6,256.2 461.8,255.4 462.4,255.4 463.3,254.5 463.4,254.9 466.5,252.7"/>
<polyline class="a36" points="300.7,358.3 300.9,358.4 304.3,356.3 306.6,354.3 308.5,352.9 310.3,352.1 311.2,351.1 311.8,350.8 314.2,349.5 319.8,345.4 320.1,344.6 320.7,344.1 324.9,341.5 327.0,339.7 330.6,336.5 331.8,336.9 334.3,334.6 335.0,334.4 339.9,330.2 341.0,330.4 341.1,329.6 342.8,328.5 344.5,326.7 345.8,326.4 345.8,326.3 346.5,325.8 348.1,325.0 350.8,322.8 352.2,322.2 354.1,320.3 354.8,319.6 355.1,319.8 356.3,319.2 361.0,316.1 361.3,315.7 361.3,314.7 362.3,314.8 362.9,314.8 364.7,313.0 366.1,311.7 366.7,311.6 366.8,311.2 367.7,311.0 367.9,310.6 368.3,310.9 369.0,310.1 369.6,309.1 370.1,309.3 370.4,309.2 371.6,307.8 372.3,307.3 373.7,305.6 373.8,306.8 376.9,303.9 377.0,303.3 377.1,303.4 377.2,303.9 379.3,302.8 380.8,301.4 384.3,299.1 387.2,296.4 388.4,295.5 393.3,292.9 396.6,290.3 398.3,288.9 399.2,288.8 399.8,287.5 400.4,287.3 402.3,286.5 404.2,285.4 405.4,283.9 405.7,284.3 406.3,283.0 408.9,281.5 409.0,281.3 410.2,279.8 412.9,278.6 413.8,278.3 414.3,277.5 414.5,277.3 416.9,276.2 417.0,275.1 417.5,274.6 418.0,274.6 423.0,270.8 423.5,271.5 424.5,270.3 428.5,267.0 430.2,265.9 433.0,265.3 433.4,263.7 433.5,263.5 436.6,261.7 437.8,261.0 438.6,260.2 439.4,259.3 440.2,258.6 441.5,258.3 443.4,256.7"/>
<polyline class="a36" stroke-width="0" points="443.4,256.7 446.8,253.7 448.0,253.9 449.6,252.6 453.7,249.4 454.9,248.7 457.7,247.2 458.7,246.4 459.8,245.6 460.4,245.7 461.2,244.8 461.4,245.1 464.3,243.0"/>
<polyline class="a37" points="301.9,354.4 302.1,354.5 305.5,352.2 307.7,350.2 309.5,348.6 311.3,347.8 312.2,346.8 312.8,346.4 315.1,345.0 320.7,340.7 321.0,339.9 321.5,339.4 325.6,336.5 327.7,334.7 331.2,331.3 332.5,331.6 334.9,329.3 335.6,329.0 340.4,324.6 341.4,324.7 341.5,323.9 343.2,322.8 344.9,321.0 346.1,320.5 346.1,320.5 346.9,320.0 348.4,319.0 351.1,316.8 352.5,316.1 354.3,314.1 355.0,313.4 355.2,313.6 356.5,312.9 361.1,309.6 361.3,309.2 361.3,308.2 362.4,308.2 363.0,308.2 364.7,306.3 366.1,305.0 366.7,304.9 366.8,304.5 367.7,304.3 367.9,303.8 368.2,304.1 368.9,303.2 369.6,302.3 370.1,302.4 370.3,302.4 371.5,300.8 372.2,300.3 373.5,298.6 373.7,299.7 376.7,296.8 376.8,296.1 376.9,296.2 377.0,296.7 379.0,295.5 380.5,294.1 383.9,291.7 386.8,288.8 387.9,287.8 392.8,285.0 396.1,282.3 397.7,280.8 398.6,280.7 399.2,279.3 399.7,279.1 401.6,278.2 403.5,277.1 404.6,275.5 404.9,275.9 405.5,274.6 408.1,273.0 408.2,272.7 409.4,271.2 412.0,269.9 412.9,269.5 413.4,268.7 413.6,268.5 416.0,267.3 416.0,266.2 416.6,265.7 417.0,265.7 421.9,261.7 422.4,262.3 423.4,261.1 427.3,257.7 429.0,256.5 431.7,255.7 432.1,254.1 432.2,253.9 435.3,252.0 436.4,251.2 437.3,250.4 438.0,249.4 438.8,248.7 440.1,248.4 442.0,246.7"/>
<polyline class="a37" stroke-width="0" points="442.0,246.7 445.3,243.5 446.5,243.7 448.0,242.4 452.0,239.0 453.1,238.4 455.9,237.1 456.8,236.4 457.9,235.6 458.4,235.8 459.2,234.9 459.3,235.3 462.2,233.3"/>
<polyline class="a38" points="303.1,350.5 303.3,350.6 306.6,348.2 308.8,346.0 310.6,344.4 312.4,343.5 313.2,342.4 313.8,342.0 316.1,340.5 321.5,335.9 321.8,335.1 322.3,334.6 326.3,331.6 328.4,329.7 331.9,326.1 333.1,326.4 335.4,323.9 336.1,323.6 340.8,319.0 341.9,319.0 341.9,318.2 343.6,317.1 345.3,315.1 346.5,314.6 346.5,314.6 347.2,314.0 348.7,313.1 351.3,310.7 352.7,309.9 354.5,307.8 355.1,307.1 355.4,307.3 356.6,306.5 361.1,303.0 361.4,302.6 361.4,301.6 362.4,301.6 363.0,301.5 364.7,299.6 366.0,298.2 366.6,298.1 366.7,297.7 367.6,297.4 367.8,297.0 368.1,297.2 368.8,296.3 369.4,295.3 369.9,295.4 370.1,295.4 371.3,293.8 372.0,293.3 373.3,291.4 373.5,292.6 376.5,289.5 376.5,288.8 376.6,288.9 376.7,289.4 378.7,288.2 380.1,286.7 383.5,284.1 386.3,281.1 387.4,280.1 392.2,277.0 395.4,274.2 397.1,272.6 397.9,272.4 398.5,271.0 399.0,270.8 400.9,269.8 402.7,268.6 403.8,267.0 404.1,267.4 404.7,266.0 407.2,264.3 407.3,264.0 408.5,262.5 411.0,261.1 411.9,260.6 412.4,259.8 412.6,259.6 414.9,258.3 415.0,257.2 415.5,256.6 416.0,256.6 420.8,252.4 421.3,253.0 422.3,251.8 426.1,248.1 427.7,246.8 430.4,246.0 430.8,244.3 430.8,244.2 433.9,242.1 435.0,241.3 435.8,240.4 436.5,239.4 437.3,238.7 438.6,238.2 440.4,236.5 443.7,233.1 444.9,233.3 446.4,231.9"/>
<polyline class="a38" stroke-width="0" points="446.4,231.9 450.3,228.4 451.4,227.9 454.0,226.8 454.8,226.2 455.9,225.6 456.4,225.7 457.2,224.9 457.3,225.3 460.0,223.7"/>
<polyline class="a39" points="304.3,346.6 304.5,346.7 307.7,344.2 309.8,341.9 311.5,340.3 313.3,339.3 314.1,338.3 314.7,337.9 316.9,336.2 322.1,331.6 322.4,330.7 322.9,330.2 326.8,327.1 328.8,325.1 332.2,321.4 333.3,321.7 335.6,319.1 336.3,318.9 340.8,314.1 341.9,314.1 341.9,313.3 343.5,312.1 345.2,310.1 346.3,309.6 346.3,309.6 347.0,309.0 348.4,308.0 351.0,305.5 352.3,304.7 354.1,302.6 354.7,301.9 355.0,302.0 356.1,301.2 360.5,297.6 360.7,297.2 360.7,296.2 361.8,296.1 362.3,296.1 363.9,294.1 365.3,292.7 365.8,292.5 365.9,292.1 366.8,291.8 367.0,291.4 367.3,291.6 367.9,290.7 368.6,289.7 369.0,289.8 369.2,289.7 370.4,288.1 371.1,287.6 372.3,285.7 372.5,286.9 375.4,283.7 375.4,283.0 375.5,283.1 375.6,283.6 377.6,282.3 378.9,280.7 382.2,278.1 384.9,275.0 386.0,274.0 390.6,270.8 393.7,267.8 395.3,266.2 396.1,266.1 396.7,264.6 397.2,264.4 399.0,263.4 400.8,262.1 401.9,260.4 402.2,260.9 402.7,259.4 405.1,257.7 405.2,257.4 406.4,255.8 408.9,254.3 409.7,253.9 410.2,253.0 410.4,252.9 412.6,251.5 412.7,250.4 413.2,249.8 413.6,249.7 418.3,245.4 418.8,246.0 419.7,244.8 423.4,241.0 425.0,239.7 427.6,238.8 428.0,237.1 428.0,236.9 431.0,234.8 432.1,233.9 432.9,233.1 433.6,232.0 434.3,231.3 435.6,230.8 437.3,229.0"/>
<polyline class="a39" stroke-width="0" points="437.3,229.0 440.5,225.6 441.6,225.7 443.1,224.2 446.9,220.7 447.9,220.3 450.4,219.6 451.3,219.1 452.3,218.6 452.8,218.8 453.5,218.1 453.6,218.5 456.2,217.2"/>
<polyline class="a40" points="305.5,342.7 305.7,342.8 308.8,340.2 310.8,337.9 312.5,336.2 314.2,335.2 315.0,334.1 315.5,333.7 317.6,332.0 322.7,327.2 323.0,326.3 323.5,325.8 327.3,322.5 329.2,320.5 332.4,316.8 333.6,317.0 335.8,314.4 336.4,314.1 340.8,309.2 341.8,309.2 341.9,308.4 343.4,307.1 345.0,305.1 346.1,304.5 346.1,304.5 346.8,303.9 348.2,302.8 350.7,300.3 351.9,299.5 353.6,297.3 354.2,296.5 354.5,296.7 355.6,295.9 359.8,292.1 360.1,291.7 360.1,290.7 361.1,290.6 361.6,290.6 363.2,288.5 364.4,287.1 365.0,286.9 365.1,286.5 365.9,286.2 366.1,285.7 366.4,286.0 367.0,285.0 367.6,284.0 368.1,284.1 368.3,284.0 369.4,282.4 370.0,281.8 371.2,279.9 371.4,281.0 374.2,277.8 374.3,277.1 374.3,277.2 374.5,277.7 376.3,276.3 377.6,274.8 380.8,272.0 383.4,268.9 384.5,267.8 388.9,264.5 392.0,261.5 393.5,259.8 394.3,259.6 394.8,258.2 395.3,257.9 397.1,256.8 398.8,255.5 399.8,253.8 400.1,254.2 400.7,252.8 403.0,251.0 403.1,250.7 404.2,249.1 406.6,247.5 407.4,247.0 407.9,246.2 408.1,246.0 410.2,244.5 410.3,243.4 410.8,242.9 411.2,242.8 415.7,238.3 416.2,238.9 417.1,237.6 420.7,233.8 422.2,232.4 424.7,231.4 425.1,229.7 425.1,229.6 428.0,227.3 429.0,226.5 429.8,225.6 430.5,224.5 431.2,223.7 432.4,223.2 434.1,221.4 437.1,217.9"/>
<polyline class="a40" stroke-width="0" points="437.1,217.9 438.3,217.9 439.7,216.5 443.3,212.9 444.3,212.7 446.8,212.3 447.6,211.9 448.6,211.5 449.1,211.8 449.8,211.2 450.0,211.6 452.5,210.7"/>
</g>
<polyline points="158.5,457.4 161.9,456.6 195.6,454.9 223.0,452.9 241.3,451.4 259.5,450.2 268.6,449.6 280.0,448.4 307.4,443.8 334.8,440.7 362.1,437.5 389.5,432.9 407.8,428.3 420.0,424.3 442.6,415.7 473.9,405.1 505.2,393.8 536.4,383.2 559.9,374.6 574.0,368.3 586.5,360.5 595.9,351.9 605.3,341.0 613.1,329.3 619.7,316.1 624.9,302.9 627.8,294.0 631.5,273.5 632.5,255.8 631.5,236.7 629.3,219.1 626.4,200.0 620.5,172.2 616.1,153.1 613.9,131.1 612.4,120.1 605.5,111.3 602.9,98.8 600.6,84.1 597.0,71.6 592.9,56.9" fill="none" stroke="#000" stroke-width="4.6" stroke-linejoin="round"/>
<polyline points="158.0,457.3 161.9,456.5 195.6,454.7 223.0,452.6 241.3,451.0 259.5,449.0 277.8,446.6 290.0,444.6 307.4,440.7 334.8,434.0 362.1,427.2 380.0,421.2 400.0,413.5 421.7,404.8 442.6,393.2 453.0,386.5 463.4,376.3 473.8,363.8 480.1,353.4 484.3,341.5 488.4,328.3 490.8,318.0 492.7,305.4 491.5,285.1 489.0,268.1 486.4,247.8 487.3,233.4 480.5,213.9 474.6,190.2" fill="none" stroke="#b3b3b3" stroke-width="4.1" stroke-linejoin="round"/>
<defs><marker id="b0" markerUnits="userSpaceOnUse" markerWidth="10" markerHeight="10" refX="5" refY="5"><circle cx="5" cy="5" r="3.8" fill="#0000aa" fill-opacity=".3" stroke="#0000aa" stroke-width="1.3"/></marker><marker id="b1" markerUnits="userSpaceOnUse" markerWidth="10" markerHeight="10" refX="5" refY="5"><circle cx="5" cy="5" r="3.8" fill="#0000c6" fill-opacity=".3" stroke="#0000c6" stroke-width="1.3"/></marker><marker id="b2" markerUnits="userSpaceOnUse" markerWidth="10" markerHeight="10" refX="5" refY="5"><circle cx="5" cy="5" r="3.8" fill="#0000e3" fill-opacity=".3" stroke="#0000e3" stroke-width="1.3"/></marker><marker id="b3" markerUnits="userSpaceOnUse" markerWidth="10" markerHeight="10" refX="5" refY="5"><circle cx="5" cy="5" r="3.8" fill="#0000ff" fill-opacity=".3" stroke="#0000ff" stroke-width="1.3"/></marker><marker id="b4" markerUnits="userSpaceOnUse" markerWidth="10" markerHeight="10" refX="5" refY="5"><circle cx="5" cy="5" r="3.8" fill="#001cff" fill-opacity=".3" stroke="#001cff" stroke-width="1.3"/></marker><marker id="b5" markerUnits="userSpaceOnUse" markerWidth="10" markerHeight="10" refX="5" refY="5"><circle cx="5" cy="5" r="3.8" fill="#0039ff" fill-opacity=".3" stroke="#0039ff" stroke-width="1.3"/></marker><marker id="b6" markerUnits="userSpaceOnUse" markerWidth="10" markerHeight="10" refX="5" refY="5"><circle cx="5" cy="5" r="3.8" fill="#0055ff" fill-opacity=".3" stroke="#0055ff" stroke-width="1.3"/></marker><marker id="b7" markerUnits="userSpaceOnUse" markerWidth="10" markerHeight="10" refX="5" refY="5"><circle cx="5" cy="5" r="3.8" fill="#0071ff" fill-opacity=".3" stroke="#0071ff" stroke-width="1.3"/></marker><marker id="b8" markerUnits="userSpaceOnUse" markerWidth="10" markerHeight="10" refX="5" refY="5"><circle cx="5" cy="5" r="3.8" fill="#008eff" fill-opacity=".3" stroke="#008eff" stroke-width="1.3"/></marker><marker id="b9" markerUnits="userSpaceOnUse" markerWidth="10" markerHeight="10" refX="5" refY="5"><circle cx="5" cy="5" r="3.8" fill="#00aaff" fill-opacity=".3" stroke="#00aaff" stroke-width="1.3"/></marker><marker id="b10" markerUnits="userSpaceOnUse" markerWidth="10" markerHeight="10" refX="5" refY="5"><circle cx="5" cy="5" r="3.8" fill="#00c6ff" fill-opacity=".3" stroke="#00c6ff" stroke-width="1.3"/></marker><marker id="b11" markerUnits="userSpaceOnUse" markerWidth="10" markerHeight="10" refX="5" refY="5"><circle cx="5" cy="5" r="3.8" fill="#00e3ff" fill-opacity=".3" stroke="#00e3ff" stroke-width="1.3"/></marker><marker id="b12" markerUnits="userSpaceOnUse" markerWidth="10" markerHeight="10" refX="5" refY="5"><circle cx="5" cy="5" r="3.8" fill="#00ffff" fill-opacity=".3" stroke="#00ffff" stroke-width="1.3"/></marker><marker id="b13" markerUnits="userSpaceOnUse" markerWidth="10" markerHeight="10" refX="5" refY="5"><circle cx="5" cy="5" r="3.8" fill="#1cffe3" fill-opacity=".3" stroke="#1cffe3" stroke-width="1.3"/></marker><marker id="b14" markerUnits="userSpaceOnUse" markerWidth="10" markerHeight="10" refX="5" refY="5"><circle cx="5" cy="5" r="3.8" fill="#39ffc6" fill-opacity=".3" stroke="#39ffc6" stroke-width="1.3"/></marker><marker id="b15" markerUnits="userSpaceOnUse" markerWidth="10" markerHeight="10" refX="5" refY="5"><circle cx="5" cy="5" r="3.8" fill="#55ffaa" fill-opacity=".3" stroke="#55ffaa" stroke-width="1.3"/></marker><marker id="b16" markerUnits="userSpaceOnUse" markerWidth="10" markerHeight="10" refX="5" refY="5"><circle cx="5" cy="5" r="3.8" fill="#71ff8e" fill-opacity=".3" stroke="#71ff8e" stroke-width="1.3"/></marker><marker id="b17" markerUnits="userSpaceOnUse" markerWidth="10" markerHeight="10" refX="5" refY="5"><circle cx="5" cy="5" r="3.8" fill="#8eff71" fill-opacity=".3" stroke="#8eff71" stroke-width="1.3"/></marker><marker id="b18" markerUnits="userSpaceOnUse" markerWidth="10" markerHeight="10" refX="5" refY="5"><circle cx="5" cy="5" r="3.8" fill="#aaff55" fill-opacity=".3" stroke="#aaff55" stroke-width="1.3"/></marker><marker id="b19" markerUnits="userSpaceOnUse" markerWidth="10" markerHeight="10" refX="5" refY="5"><circle cx="5" cy="5" r="3.8" fill="#c6ff39" fill-opacity=".3" stroke="#c6ff39" stroke-width="1.3"/></marker><marker id="b20" markerUnits="userSpaceOnUse" markerWidth="10" markerHeight="10" refX="5" refY="5"><circle cx="5" cy="5" r="3.8" fill="#e3ff1c" fill-opacity=".3" stroke="#e3ff1c" stroke-width="1.3"/></marker><marker id="b21" markerUnits="userSpaceOnUse" markerWidth="10" markerHeight="10" refX="5" refY="5"><circle cx="5" cy="5" r="3.8" fill="#ffff00" fill-opacity=".3" stroke="#ffff00" stroke-width="1.3"/></marker><marker id="b22" markerUnits="userSpaceOnUse" markerWidth="10" markerHeight="10" refX="5" refY="5"><circle cx="5" cy="5" r="3.8" fill="#ffe300" fill-opacity=".3" stroke="#ffe300" stroke-width="1.3"/></marker><marker id="b23" markerUnits="userSpaceOnUse" markerWidth="10" markerHeight="10" refX="5" refY="5"><circle cx="5" cy="5" r="3.8" fill="#ffc600" fill-opacity=".3" stroke="#ffc600" stroke-width="1.3"/></marker><marker id="b24" markerUnits="userSpaceOnUse" markerWidth="10" markerHeight="10" refX="5" refY="5"><circle cx="5" cy="5" r="3.8" fill="#ffaa00" fill-opacity=".3" stroke="#ffaa00" stroke-width="1.3"/></marker><marker id="b25" markerUnits="userSpaceOnUse" markerWidth="10" markerHeight="10" refX="5" refY="5"><circle cx="5" cy="5" r="3.8" fill="#ff8e00" fill-opacity=".3" stroke="#ff8e00" stroke-width="1.3"/></marker><marker id="b26" markerUnits="userSpaceOnUse" markerWidth="10" markerHeight="10" refX="5" refY="5"><circle cx="5" cy="5" r="3.8" fill="#ff7100" fill-opacity=".3" stroke="#ff7100" stroke-width="1.3"/></marker><marker id="b27" markerUnits="userSpaceOnUse" markerWidth="10" markerHeight="10" refX="5" refY="5"><circle cx="5" cy="5" r="3.8" fill="#ff5500" fill-opacity=".3" stroke="#ff5500" stroke-width="1.3"/></marker><marker id="b28" markerUnits="userSpaceOnUse" markerWidth="10" markerHeight="10" refX="5" refY="5"><circle cx="5" cy="5" r="3.8" fill="#ff3900" fill-opacity=".3" stroke="#ff3900" stroke-width="1.3"/></marker><marker id="b29" markerUnits="userSpaceOnUse" markerWidth="10" markerHeight="10" refX="5" refY="5"><circle cx="5" cy="5" r="3.8" fill="#ff1c00" fill-opacity=".3" stroke="#ff1c00" stroke-width="1.3"/></marker><marker id="b30" markerUnits="userSpaceOnUse" markerWidth="10" markerHeight="10" refX="5" refY="5"><circle cx="5" cy="5" r="3.8" fill="#ff0000" fill-opacity=".3" stroke="#ff0000" stroke-width="1.3"/></marker><marker id="b31" markerUnits="userSpaceOnUse" markerWidth="10" markerHeight="10" refX="5" refY="5"><circle cx="5" cy="5" r="3.8" fill="#e30000" fill-opacity=".3" stroke="#e30000" stroke-width="1.3"/></marker><marker id="b32" markerUnits="userSpaceOnUse" markerWidth="10" markerHeight="10" refX="5" refY="5"><circle cx="5" cy="5" r="3.8" fill="#c60000" fill-opacity=".3" stroke="#c60000" stroke-width="1.3"/></marker><style>.b0{stroke:#0000aa;marker:url(#b0)}.b1{stroke:#0000c6;marker:url(#b1)}.b2{stroke:#0000e3;marker:url(#b2)}.b3{stroke:#0000ff;marker:url(#b3)}.b4{stroke:#001cff;marker:url(#b4)}.b5{stroke:#0039ff;marker:url(#b5)}.b6{stroke:#0055ff;marker:url(#b6)}.b7{stroke:#0071ff;marker:url(#b7)}.b8{stroke:#008eff;marker:url(#b8)}.b9{stroke:#00aaff;marker:url(#b9)}.b10{stroke:#00c6ff;marker:url(#b10)}.b11{stroke:#00e3ff;marker:url(#b11)}.b12{stroke:#00ffff;marker:url(#b12)}.b13{stroke:#1cffe3;marker:url(#b13)}.b14{stroke:#39ffc6;marker:url(#b14)}.b15{stroke:#55ffaa;marker:url(#b15)}.b16{stroke:#71ff8e;marker:url(#b16)}.b17{stroke:#8eff71;marker:url(#b17)}.b18{stroke:#aaff55;marker:url(#b18)}.b19{stroke:#c6ff39;marker:url(#b19)}.b20{stroke:#e3ff1c;marker:url(#b20)}.b21{stroke:#ffff00;marker:url(#b21)}.b22{stroke:#ffe300;marker:url(#b22)}.b23{stroke:#ffc600;marker:url(#b23)}.b24{stroke:#ffaa00;marker:url(#b24)}.b25{stroke:#ff8e00;marker:url(#b25)}.b26{stroke:#ff7100;marker:url(#b26)}.b27{stroke:#ff5500;marker:url(#b27)}.b28{stroke:#ff3900;marker:url(#b28)}.b29{stroke:#ff1c00;marker:url(#b29)}.b30{stroke:#ff0000;marker:url(#b30)}.b31{stroke:#e30000;marker:url(#b31)}.b32{stroke:#c60000;marker:url(#b32)}</style></defs>
<g fill="none" stroke-width="6.6" stroke-linecap="round" stroke-linejoin="round">
<path class="b30" d="M901.7 450.2l.1 .1M911.6 450.2l.5-.2 .6 0 2.3 .2 5.6-.5 .3-.6 .5-.1 4.1 0 2.2-.4 1.7-.5"/>
<path class="b29" d="M901.8 450.3l.1 .2 3.4 .1 1.1-.2M908.4 450l.9-.1 1.9 .5 .4-.2M929.4 448.1l1.8-.5 1.2 1.1 2.4-.7 .7 .2 2.4-.7"/>
<path class="b31" d="M906.4 450.4l1.1-.3 .9-.1"/>
<path class="b25" d="M937.9 447.5l2.4-.6 .6 .4M941.5 447.4l0-.4 .8 0"/>
<path class="b23" d="M940.9 447.3l.5 .4 .1-.3"/>
<path class="b22" d="M942.3 447l.9 0 .8-.4"/>
<path class="b19" d="M944 446.6l.9-.4 .6 .2M947.6 446.5l.8 0 1.4-.2"/>
<path class="b21" d="M945.5 446.4l.6 .2 0 0M946.5 446.5l.4 0 .7 0"/>
<path class="b20" d="M946.1 446.6l0 0 .4-.1"/>
<path class="b17" d="M949.8 446.3l1.3-.3 .7 .1"/>
<path class="b16" d="M951.8 446.1l.7 .1 1.8-.8 .7-.3 .1 .1M955.9 445.5l.6 0 2.3-.2"/>
<path class="b15" d="M955.1 445.2l.2 .2 .6 .1M962.8 444.7l.3 .1 1.7-.8 1.4-.4 .3 .1"/>
<path class="b12" d="M958.8 445.3l2.3-.2 .2-.2M961.4 444.3l0-.5 .5 .4M970.3 443.4l.1 0 .6-.4M973 442.1l.6-.5 .1 .6"/>
<path class="b14" d="M961.3 444.9l.1-.1 0-.5M961.9 444.2l.6 .3 .3 .2M966.8 443.6l.1-.1 .9 .3 .2-.3 .1 .2M969.3 443.2l.4-.3 .2 .2"/>
<path class="b11" d="M966.5 443.7l.3 .1 0-.2M968.1 443.7l.2 .3 .4-.3M977 441.1l0 .1 .1 .3M978.2 441.8l1 0 .7-.3"/>
<path class="b13" d="M968.7 443.7l.3-.2 .3-.3M971 443l.6-.4 .4 0"/>
<path class="b10" d="M969.9 443.1l.3 .3 .1 0M972 442.6l.3 0 .7-.5M973.7 442.2l.1 .6 3.1-1.1 0-.3M977.1 441.5l0 .3 1.1 0M985.5 440.2l1.5-.6 1.1-.3 2.4-.1"/>
<path class="b9" d="M976.9 441.4l0-.3 .1 0M979.9 441.5l.7-.3 3.5-.4 1.4-.6"/>
<path class="b6" d="M990.5 439.2l2.5 0 1.6-.5M998.4 437.9l.4 .2 .3-.5M999.7 437.1l.3 0 .9 .1"/>
<path class="b7" d="M994.6 438.7l1.7-.4 .8-.3"/>
<path class="b5" d="M997.1 438l.9-.3 .4 .2M999.1 437.6l.3-.6 .3 .1"/>
<path class="b4" d="M1000.9 437.2l1 .1 .9-.1M1005 436.5l.2 .3 .3-.5"/>
<path class="b1" d="M1002.8 437.2l1 0 1.1-1 .1 .3M1012.7 434.6l.5 0 .2-.3M1016.3 433.5l0-.6 .6-.2 .4 .2 2.5-.7M1022.5 431.9l.3 .4 .5-.3M1028.5 430l.9-.2 2.7 .6 .4-1.5 .1-.1 3.1-.4 1.1-.2 .4-.2M1038 427.5l.4-.4 .8-.3 1.3 .3 1.9-.8 3.3-1.6 1.2 .7 1.6-.6 2-.8"/>
<path class="b2" d="M1005.5 436.3l.3-.6 1.3-.1M1008.4 435.4l0-.1 1.3-.9 2.6 .1 .4 .1M1013.8 434l.1 0 1.2 0"/>
<path class="b3" d="M1007.1 435.6l1.2-.1 .1-.1"/>
<path class="b0" d="M1013.4 434.3l.3-.3 .1 0M1015.1 434l1.2 0 0-.5M1019.8 432.2l2.5-.7 .2 .4M1023.3 432l.5-.3 3.9-1.6 .8-.1M1037.2 428l.5-.2 .3-.3"/>
<path class="b1" stroke-width="0" d="M1048.5 424.8l4.1-1.6 1.4-.2 3.3-.5 1.2-.5 1.4-.4 .6 .3M1061.5 421.3l.2 .4 3.5-1"/>
<path class="b0" stroke-width="0" d="M1060.5 421.9l1-.6"/>
<path class="b30" d="M906.8 448.9l.2 .3 3.4 .1 1.1-.2M913.5 448.7l.9-.1 1.8 .5 .5-.2M917.4 448.7l.3 .1 2.3 .1 2.8-.2M925.7 448.2l.2-.3 .5-.2 2.1 0M931.6 447.5l1.1-.1 3.4-1.1 1.3 1.2 1.2-.4M940.1 446.8l.4 .1 2.4-.6"/>
<path class="b31" d="M911.5 449.1l1.1-.2 .9-.2M916.7 448.9l.4-.2 .3 0M922.8 448.7l2.8-.2 .1-.3M928.5 447.7l2 0 1.1-.2"/>
<path class="b29" d="M938.6 447.1l1.2-.4 .3 .1"/>
<path class="b26" d="M942.9 446.3l2.4-.7 .5 .5"/>
<path class="b25" d="M945.8 446.1l.5 .4 .1-.4"/>
<path class="b27" d="M946.4 446.1l0-.4 .9 0"/>
<path class="b24" d="M947.3 445.7l.8 0 .9-.4"/>
<path class="b21" d="M949 445.3l.8-.3 .6 .2"/>
<path class="b23" d="M950.4 445.2l.6 .1 0 0"/>
<path class="b22" d="M951 445.3l0 0 .8-.1 .7 0"/>
<path class="b20" d="M952.5 445.2l.8 .1 1.3-.3"/>
<path class="b18" d="M954.6 445l1.4-.2 1.4 .1 1.8-.8 .7-.3 .1 .2"/>
<path class="b17" d="M960 444l.1 .2 1.3 0 2.3-.2M970.3 442.5l.7-.2 .3 .1"/>
<path class="b14" d="M963.7 444l2.3-.2 .1-.1M966.2 443.1l0-.6 .6 .4M973.5 442.5l.3-.3 .3-.3M975.1 442.1l.1 .1 .6-.4M977.8 440.8l.6-.5 .1 .6"/>
<path class="b16" d="M966.1 443.7l.1-.1 0-.5M966.8 442.9l.5 .3 .6 .4 1.7-.9 .7-.2M972.1 442.3l.5 .2 .1-.2M974.1 441.9l.4-.3 .2 .3"/>
<path class="b13" d="M971.3 442.4l.3 .1 0-.1M973 442.4l.1 .3 .4-.2M981.7 439.9l.1 0 .1 .3M982.9 440.5l1 0 .8-.3"/>
<path class="b15" d="M971.6 442.4l.1-.2 .4 .1M972.7 442.3l.1-.1 .2 .2M975.8 441.8l.6-.4 .4-.1"/>
<path class="b12" d="M974.7 441.9l.3 .2 .1 0M976.8 441.3l.3 0 .7-.5M981.9 440.2l0 .3 1 0M990.3 438.9l1.4-.6 .6-.2"/>
<path class="b11" d="M978.5 440.9l.1 .7 3-1.2 .1-.6 0 .1M984.7 440.2l.7-.3 3.4-.4 1.5-.6M992.3 438.1l.5-.1 2.5-.1"/>
<path class="b8" d="M995.3 437.9l2.4-.1 1.6-.4M1004.4 435.7l.2 .1 1 .1"/>
<path class="b9" d="M999.3 437.4l1.7-.4 .8-.3"/>
<path class="b7" d="M1001.8 436.7l.8-.3 .9 .3 .6-1 .3 0"/>
<path class="b6" d="M1005.6 435.9l.9 0 1 0"/>
<path class="b3" d="M1007.5 435.9l.9-.1 1.2-1 .1 .3"/>
<path class="b5" d="M1009.7 435.1l.2 .3 .2-.5M1011.7 434.3l1.3-.2 0-.1"/>
<path class="b4" d="M1010.1 434.9l.3-.5 1.3-.1M1013 434l.1-.1 .6-.4"/>
<path class="b2" d="M1013.7 433.5l.6-.4 2.6 .1 .5 0M1018.4 432.6l.1 0 1.2 0"/>
<path class="b1" d="M1017.4 433.2l.4 0 .3-.3M1020.9 432.1l0-.6 .6-.2 .4 .2 2.5-.7M1027.1 430.5l.3 .4 .4-.3M1033.1 428.5l.8-.2 2.8 .6 .3-1.4 .1-.1 3.1-.5 1.1-.2 .5-.2M1042.6 426l.3-.4 .8-.3 1.3 .3 1.9-.8 3.3-1.7 1.2 .8 1.5-.7 2.1-.8"/>
<path class="b0" d="M1018.1 432.9l.2-.2 .1-.1M1019.7 432.6l1.2 0 0-.5M1024.4 430.8l2.4-.8 .3 .5M1027.8 430.6l.5-.4 4-1.5 .8-.2M1041.8 426.5l.4-.2 .4-.3"/>
<path class="b1" stroke-width="0" d="M1052.9 423.2l4.1-1.6 1.4-.2 3.4-.5 1.1-.4 1.4-.5 .6 .3M1065.9 419.7l.2 .4 3.5-1"/>
<path class="b0" stroke-width="0" d="M1064.9 420.3l1-.6"/>
<path class="b30" d="M911.9 447.6l.1 .1M921.7 447.6l.5-.2 .6 .1 2.3 .1 5.5-.4 .3-.6 .5-.1 4.1 0 2.1-.4 1.8-.5"/>
<path class="b29" d="M912 447.7l.1 .2 3.4 .1 1.1-.2M918.6 447.4l.9-.1 1.8 .5 .4-.2M939.4 445.6l1.7-.5 1.2 1.1 2.5-.8 .6 .3 2.4-.7"/>
<path class="b31" d="M916.6 447.8l1.1-.2 .9-.2"/>
<path class="b25" d="M947.8 445l2.4-.6 .5 .4M951.3 444.8l.1-.3 .8 0"/>
<path class="b23" d="M950.7 444.8l.6 .4 0-.4"/>
<path class="b22" d="M952.2 444.5l.8 0 .9-.4"/>
<path class="b19" d="M953.9 444.1l.9-.4 .5 .2M957.4 444l.8 0 1.3-.2"/>
<path class="b21" d="M955.3 443.9l.6 .2 0 0M956.3 444l.4 0 .7 0"/>
<path class="b20" d="M955.9 444.1l.1-.1 .3 0"/>
<path class="b17" d="M959.5 443.8l1.4-.3 .7 .1"/>
<path class="b16" d="M961.6 443.6l.7 .1 1.8-.9 .6-.3 .2 .2M965.6 442.9l.6 .1 2.3-.3"/>
<path class="b15" d="M964.9 442.7l.1 .2 .6 0M972.4 442.1l.3 .2 1.7-.8 1.4-.5 .3 .1"/>
<path class="b12" d="M968.5 442.7l2.3-.2 .1-.1M971.1 441.8l0-.5 .5 .3M979.9 440.8l.1 .1 .6-.4M982.6 439.5l.6-.5 .1 .7"/>
<path class="b14" d="M970.9 442.4l.2-.1 0-.5M971.6 441.6l.6 .4 .2 .1M976.4 441.1l.1-.2 .9 .3 .2-.3 .2 .3M979 440.7l.3-.3 .2 .2"/>
<path class="b11" d="M976.1 441.1l.3 .2 0-.2M977.8 441.2l.1 .2 .4-.2M986.5 438.6l.1 0 0 .3M987.7 439.2l1 0 .7-.3"/>
<path class="b13" d="M978.3 441.2l.3-.2 .4-.3M980.6 440.5l.6-.4 .4-.1"/>
<path class="b10" d="M979.5 440.6l.3 .2 .1 0M981.6 440l.3 0 .7-.5M983.3 439.7l.1 .6 3-1.2 .1-.3M986.6 438.9l.1 .3 1 0M995 437.6l1.4-.6 1.2-.4 2.4 0"/>
<path class="b9" d="M986.5 438.8l0-.3 0 .1M989.4 438.9l.7-.3 3.5-.4 1.4-.6"/>
<path class="b6" d="M1000 436.6l2.4-.1 1.6-.4M1007.8 435.2l.4 .2 .3-.5M1009.1 434.4l.2 0 1 .1"/>
<path class="b7" d="M1004 436.1l1.7-.5 .8-.3"/>
<path class="b5" d="M1006.5 435.3l.8-.2 .5 .1M1008.5 434.9l.3-.5 .3 0"/>
<path class="b4" d="M1010.3 434.5l.9 .1 .9-.1M1014.4 433.8l.1 .3 .3-.6"/>
<path class="b1" d="M1012.1 434.5l1 0 1.1-1 .2 .3M1022 431.8l.4 0 .3-.3M1025.5 430.7l.1-.6 .5-.2 .5 .2 2.4-.7M1031.7 429l.2 .5 .5-.4M1037.6 427.1l.9-.2 2.7 .6 .4-1.5 .1-.1 3-.5 1.2-.2 .4-.2M1047.1 424.5l.3-.4 .8-.3 1.4 .3 1.8-.8 1.6-.9"/>
<path class="b2" d="M1014.8 433.5l.3-.5 1.3-.1M1017.7 432.7l0-.2 1.2-.8 2.6 .1 .5 0M1023 431.2l.2 0 1.1 0"/>
<path class="b3" d="M1016.4 432.9l1.2-.1 .1-.1"/>
<path class="b0" d="M1022.7 431.5l.2-.2 .1-.1M1024.3 431.2l1.2 0 0-.5M1029 429.4l2.4-.8 .3 .4M1032.4 429.1l.5-.3 3.9-1.6 .8-.1M1046.3 425l.4-.2 .4-.3"/>
<path class="b1" stroke-width="0" d="M1051.4 423.3l3.3-1.7 1.2 .7 1.5-.6 4.1-1.6 1.4-.3 3.3-.5 1.2-.4 1.3-.4 .6 .2M1070.4 418.1l.1 .4 3.5-1"/>
<path class="b0" stroke-width="0" d="M1069.3 418.7l1.1-.6"/>
<path class="b30" d="M917 446.3l.2 .3 3.3 .1 1.2-.2M923.7 446.1l.8-.1 1.9 .5 .4-.2M927.5 446.2l.3 0 2.3 .2 2.8-.3M935.8 445.6l.1-.3 .5-.1 2.1 0M941.6 445l1-.2 3.5-1 1.2 1.1 1.2-.3M950.1 444.3l.3 .1 2.4-.6"/>
<path class="b31" d="M921.7 446.5l1.1-.2 .9-.2M926.8 446.3l.4-.2 .3 .1M932.9 446.1l2.7-.2 .2-.3M938.5 445.2l2 0 1.1-.2"/>
<path class="b29" d="M948.5 444.6l1.2-.4 .4 .1"/>
<path class="b26" d="M952.8 443.8l2.3-.7 .6 .4"/>
<path class="b25" d="M955.7 443.5l.5 .5 0-.4"/>
<path class="b27" d="M956.2 443.6l.1-.4 .8 0"/>
<path class="b24" d="M957.1 443.2l.8 0 .9-.4"/>
<path class="b21" d="M958.8 442.8l.9-.3 .6 .1"/>
<path class="b23" d="M960.3 442.6l.6 .2 0 0"/>
<path class="b22" d="M960.9 442.8l0 0 .7-.1 .7 0"/>
<path class="b20" d="M962.3 442.7l.8 .1 1.3-.3"/>
<path class="b18" d="M964.4 442.5l1.4-.3 1.3 .2 1.9-.8 .6-.3 .1 .2"/>
<path class="b17" d="M969.7 441.5l.2 .1 1.2 .1 2.3-.2M980 440l.6-.3 .3 .2"/>
<path class="b14" d="M973.4 441.5l2.3-.2 .1-.1M975.9 440.5l0-.5 .6 .4M983.1 439.9l.3-.2 .4-.3M984.7 439.6l.1 0 .6-.4M987.4 438.2l.6-.5 .1 .7"/>
<path class="b16" d="M975.8 441.2l.1-.2 0-.5M976.5 440.4l.5 .3 .6 .3 1.7-.8 .7-.2M981.8 439.8l.4 .1 .1-.1M983.8 439.4l.3-.3 .2 .2"/>
<path class="b13" d="M980.9 439.9l.3 .1 .1-.2M982.6 439.9l.2 .2 .3-.2M991.3 437.3l0 0 .1 .3M992.5 437.9l1 0 .7-.3"/>
<path class="b15" d="M981.3 439.8l0-.2 .5 .2M982.3 439.8l.1-.2 .2 .3M985.4 439.2l.6-.4 .4 0"/>
<path class="b12" d="M984.3 439.3l.3 .2 .1 .1M986.4 438.8l.3-.1 .7-.5M991.4 437.6l.1 .3 1 0M999.7 436.3l1.5-.6 .5-.2"/>
<path class="b11" d="M988.1 438.4l.1 .6 3-1.2 .1-.6 0 .1M994.2 437.6l.7-.3 3.4-.4 1.4-.6M1001.7 435.5l.6-.2 2.4 0"/>
<path class="b8" d="M1004.7 435.3l2.4-.1 1.6-.5M1013.7 433.1l.3 0 .9 .1"/>
<path class="b9" d="M1008.7 434.7l1.7-.4 .8-.3"/>
<path class="b7" d="M1011.2 434l.8-.3 .9 .3 .6-1 .2 .1"/>
<path class="b6" d="M1014.9 433.2l1 0 .9 0"/>
<path class="b3" d="M1016.8 433.2l1-.1 1.1-1 .1 .3"/>
<path class="b5" d="M1019 432.4l.2 .3 .3-.5M1021 431.5l1.3-.1 0-.1"/>
<path class="b4" d="M1019.5 432.2l.3-.5 1.2-.2M1022.3 431.3l.1-.1 .6-.5"/>
<path class="b2" d="M1023 430.7l.6-.4 2.6 .1 .4 0M1027.7 429.9l.1-.1 1.1 0"/>
<path class="b1" d="M1026.6 430.4l.5 0 .2-.3M1030.1 429.3l.1-.6 .5-.2 .5 .2 2.4-.8M1036.3 427.6l.2 .5 .5-.4M1042.2 425.6l.8-.2 2.7 .6 .4-1.5 .1-.1 3.1-.5 1.1-.2 .4-.2M1051.6 423l.3-.4 .8-.3 1.4 .3 1.8-.9 3.3-1.6 1.2 .7 1.5-.7 2-.8"/>
<path class="b0" d="M1027.3 430.1l.2-.2 .2 0M1028.9 429.8l1.2 0 0-.5M1033.6 427.9l2.4-.7 .3 .4M1037 427.7l.5-.3 3.9-1.6 .8-.2M1050.8 423.5l.4-.2 .4-.3"/>
<path class="b1" stroke-width="0" d="M1061.9 420.1l4-1.6 1.4-.3 3.3-.5 1.2-.4 1.3-.4 .7 .3M1074.8 416.5l.1 .4 3.5-1"/>
<path class="b0" stroke-width="0" d="M1073.8 417.2l1-.7"/>
<path class="b30" d="M922.1 445l.1 .1M931.9 445l.4-.2 .6 .1 2.2 .2 5.5-.4 .3-.6 .6-.2 4 0 2.1-.3 1.7-.5"/>
<path class="b29" d="M922.2 445.1l.1 .2 3.3 .1 1.1-.2M928.7 444.9l.9-.2 1.8 .5 .5-.2M949.3 443.1l1.8-.6 1.2 1.2 2.4-.8 .6 .2 2.4-.6"/>
<path class="b31" d="M926.7 445.2l1.1-.2 .9-.1"/>
<path class="b25" d="M957.7 442.5l2.4-.6 .5 .4M961.2 442.3l0-.3 .8-.1"/>
<path class="b23" d="M960.6 442.3l.5 .4 .1-.4"/>
<path class="b22" d="M962 441.9l.8 0 .9-.3"/>
<path class="b19" d="M963.7 441.6l.9-.4 .6 .2M967.2 441.5l.8 0 1.3-.3"/>
<path class="b21" d="M965.2 441.4l.6 .2 0-.1M966.1 441.5l.4 0 .7 0"/>
<path class="b20" d="M965.8 441.5l0 0 .3 0"/>
<path class="b17" d="M969.3 441.2l1.4-.2 .6 .1"/>
<path class="b16" d="M971.3 441.1l.7 .1 1.8-.9 .7-.3 .1 .2M975.4 440.4l.6 0 2.2-.2"/>
<path class="b15" d="M974.6 440.2l.2 .2 .6 0M982.1 439.6l.3 .2 1.7-.9 1.4-.4 .3 .1"/>
<path class="b12" d="M978.2 440.2l2.3-.2 .1-.1M980.8 439.3l0-.6 .5 .4M989.5 438.3l.1 0 .6-.4M992.1 437l.7-.5 .1 .6"/>
<path class="b14" d="M980.6 439.9l.2-.1 0-.5M981.3 439.1l.5 .3 .3 .2M986.1 438.5l0-.1 .9 .3 .2-.3 .2 .2M988.6 438.1l.3-.3 .2 .2"/>
<path class="b11" d="M985.8 438.6l.2 .1 .1-.2M987.4 438.6l.2 .3 .3-.3M996.1 436l0 .1 .1 .2M997.3 436.6l1 .1 .7-.4"/>
<path class="b13" d="M987.9 438.6l.3-.2 .4-.3M990.2 437.9l.6-.4 .4 0"/>
<path class="b10" d="M989.1 438l.3 .2 .1 .1M991.2 437.5l.3 0 .6-.5M992.9 437.1l.1 .6 3-1.1 0-.4M996.2 436.3l.1 .3 1 0M1004.5 435l1.4-.7 1.1-.3 2.4-.1"/>
<path class="b9" d="M996 436.2l0-.3 .1 .1M999 436.3l.7-.3 3.4-.4 1.4-.6"/>
<path class="b6" d="M1009.4 433.9l2.4 0 1.6-.5M1017.1 432.5l.4 .2 .3-.5M1018.4 431.7l.3 .1 .9 0"/>
<path class="b7" d="M1013.4 433.4l1.7-.4 .8-.3"/>
<path class="b5" d="M1015.9 432.7l.8-.3 .4 .1M1017.8 432.2l.4-.5 .2 0"/>
<path class="b4" d="M1019.6 431.8l.9 .1 1-.1M1023.7 431l.1 .3 .3-.5"/>
<path class="b1" d="M1021.5 431.8l.9 0 1.1-1 .2 .2M1031.2 429l.5 0 .2-.2M1034.7 427.9l.1-.6 .5-.2 .5 .2 2.4-.8M1040.8 426.2l.3 .4 .5-.3M1046.8 424.2l.8-.2 2.7 .5 .4-1.5 0 0 3.1-.6 1.1-.2 .4-.2M1056.1 421.5l.4-.4 .7-.3 1.4 .3 1.8-.9 3.3-1.7 1.2 .7 1.5-.6 2-.9"/>
<path class="b2" d="M1024.1 430.8l.3-.5 1.3-.1M1027 429.9l0-.1 1.2-.9 2.6 .1 .4 0M1032.3 428.5l.1-.1 1.2 0"/>
<path class="b3" d="M1025.7 430.2l1.2-.2 .1-.1"/>
<path class="b0" d="M1031.9 428.8l.3-.3 .1 0M1033.6 428.4l1.1 0 0-.5M1038.2 426.5l2.4-.8 .2 .5M1041.6 426.3l.5-.4 3.8-1.6 .9-.1M1055.3 422l.4-.2 .4-.3"/>
<path class="b1" stroke-width="0" d="M1066.4 418.6l4-1.7 1.4-.3 3.3-.5 1.1-.4 1.4-.4 .6 .3M1079.2 414.9l.2 .5 3.4-1.1"/>
<path class="b0" stroke-width="0" d="M1078.2 415.6l1-.7"/>
<path class="b30" d="M927.2 443.7l.2 .3 3.3 .1 1.1-.2M933.8 443.6l.9-.1 1.8 .4 .4-.2M937.6 443.6l.3 0 2.3 .2 2.7-.2M945.8 443.1l.2-.3 .5-.1 2 0M951.6 442.5l1-.2 3.4-1 1.2 1.1 1.2-.3M960 441.8l.3 .1 2.4-.7"/>
<path class="b31" d="M931.8 443.9l1.1-.2 .9-.1M936.9 443.7l.4-.2 .3 .1M942.9 443.6l2.8-.2 .1-.3M948.5 442.7l2 0 1.1-.2"/>
<path class="b29" d="M958.4 442.1l1.2-.4 .4 .1"/>
<path class="b26" d="M962.7 441.2l2.3-.6 .5 .4"/>
<path class="b25" d="M965.5 441l.6 .5 0-.4"/>
<path class="b27" d="M966.1 441.1l0-.4 .9 0"/>
<path class="b24" d="M967 440.7l.8 0 .8-.4"/>
<path class="b21" d="M968.6 440.3l.9-.3 .6 .1"/>
<path class="b23" d="M970.1 440.1l.6 .2 0 0"/>
<path class="b22" d="M970.7 440.3l0 0 .7-.1 .7 0"/>
<path class="b20" d="M972.1 440.2l.8 0 1.3-.2"/>
<path class="b18" d="M974.2 440l1.4-.3 1.3 .2 1.8-.8 .6-.3 .2 .1"/>
<path class="b17" d="M979.5 438.9l.1 .2 1.2 .1 2.3-.2M989.6 437.4l.7-.2 .3 .1"/>
<path class="b14" d="M983.1 439l2.2-.3 .2-.1M985.6 438l0-.5 .5 .3M992.7 437.4l.4-.3 .3-.3M994.3 437l.1 .1 .6-.5M996.9 435.7l.7-.5 .1 .6"/>
<path class="b16" d="M985.5 438.6l.1-.1 0-.5M986.1 437.8l.6 .4 .5 .3 1.7-.8 .7-.3M991.4 437.2l.4 .2 .1-.2M993.4 436.8l.3-.3 .2 .2"/>
<path class="b13" d="M990.6 437.3l.3 .1 0-.1M992.2 437.3l.2 .3 .3-.2M1000.9 434.7l0 .1 .1 .3M1002 435.4l1 0 .7-.4"/>
<path class="b15" d="M990.9 437.3l.1-.2 .4 .1M991.9 437.2l.2-.1 .1 .2M995 436.6l.6-.4 .4 0"/>
<path class="b12" d="M993.9 436.7l.3 .3 .1 0M996 436.2l.3 0 .6-.5M1001 435.1l0 .3 1 0M1009.2 433.7l1.4-.7 .6-.1"/>
<path class="b11" d="M997.7 435.8l.1 .6 3-1.1 0-.7 .1 .1M1003.7 435l.7-.3 3.4-.4 1.4-.6M1011.2 432.9l.6-.2 2.3-.1"/>
<path class="b8" d="M1014.1 432.6l2.4-.1 1.6-.4M1023.1 430.4l.3 0 .9 .1"/>
<path class="b9" d="M1018.1 432.1l1.7-.5 .8-.3"/>
<path class="b7" d="M1020.6 431.3l.8-.3 .8 .4 .6-1.1 .3 .1"/>
<path class="b6" d="M1024.3 430.5l.9 0 1 0"/>
<path class="b3" d="M1026.2 430.5l.9-.1 1.1-1 .1 .3"/>
<path class="b5" d="M1028.3 429.7l.2 .3 .3-.5M1030.3 428.8l1.2-.1 .1-.2"/>
<path class="b4" d="M1028.8 429.5l.3-.6 1.2-.1M1031.6 428.5l.1-.1 .6-.4"/>
<path class="b2" d="M1032.3 428l.6-.4 2.5 0 .5 0M1036.9 427.1l.1 0 1.2-.1"/>
<path class="b1" d="M1035.9 427.6l.4 0 .2-.2M1039.4 426.5l0-.6 .5-.2 .5 .2 2.4-.8M1045.4 424.8l.3 .4 .5-.4M1051.3 422.7l.8-.2 2.7 .6 .4-1.5 .1-.1 3-.5 1.1-.3 .4-.2M1060.6 420l.4-.4 .7-.3 1.4 .2 1.8-.8 3.2-1.7 1.2 .7 1.5-.7 4.1-1.7 1.3-.2 1.7-.3"/>
<path class="b0" d="M1036.5 427.4l.3-.3 .1 0M1038.2 427l1.1 0 .1-.5M1042.8 425.1l2.4-.8 .2 .5M1046.2 424.8l.5-.3 3.8-1.6 .8-.2M1059.8 420.5l.5-.2 .3-.3"/>
<path class="b1" stroke-width="0" d="M1076.2 415.1l3.3-.6 1.1-.4 1.4-.4 .6 .3M1083.6 413.4l.2 .4 3.4-1.1"/>
<path class="b0" stroke-width="0" d="M1082.6 414l1-.6"/>
<path class="b30" d="M932.2 442.4l.1 .1M942 442.4l.4-.2 .6 .1 2.2 .1 5.5-.4 .3-.6 .5-.1 4.1 0 2.1-.4 1.7-.5"/>
<path class="b29" d="M932.3 442.5l.1 .1 3.3 .2 1.1-.2M938.8 442.2l.9-.1 1.8 .5 .5-.2M959.4 440.4l1.8-.6 1.2 1.2 2.3-.8 .7 .2 2.4-.6"/>
<path class="b31" d="M936.8 442.6l1.1-.2 .9-.2"/>
<path class="b25" d="M967.8 439.8l2.3-.7 .6 .5M971.2 439.6l.1-.4 .8 0"/>
<path class="b23" d="M970.7 439.6l.5 .4 0-.4"/>
<path class="b22" d="M972.1 439.2l.8 0 .9-.4"/>
<path class="b19" d="M973.8 438.8l.9-.3 .5 .1M977.3 438.7l.8 0 1.3-.2"/>
<path class="b21" d="M975.2 438.6l.6 .2 0 0M976.2 438.7l.4 0 .7 0"/>
<path class="b20" d="M975.8 438.8l0 0 .4-.1"/>
<path class="b17" d="M979.4 438.5l1.4-.3 .6 .1"/>
<path class="b16" d="M981.4 438.3l.7 .1 1.8-.9 .6-.3 .2 .2M985.4 437.6l.6 0 2.3-.2"/>
<path class="b15" d="M984.7 437.4l.1 .2 .6 0M992.2 436.7l.3 .2 1.7-.8 1.3-.5 .3 .1"/>
<path class="b12" d="M988.3 437.4l2.3-.2 .1-.2M990.8 436.4l0-.5 .6 .3M999.6 435.4l.1 0 .6-.4M1002.2 434l.6-.5 .1 .7"/>
<path class="b14" d="M990.7 437l.1-.1 0-.5M991.4 436.2l.5 .4 .3 .1M996.1 435.7l.1-.2 .9 .3 .2-.3 .2 .2M998.6 435.2l.4-.3 .2 .2"/>
<path class="b11" d="M995.8 435.7l.3 .1 0-.1M997.5 435.7l.1 .3 .4-.3M1006.1 433l.1 .1 0 .3M1007.3 433.7l1 0 .7-.3"/>
<path class="b13" d="M998 435.7l.3-.2 .3-.3M1000.3 435l.6-.4 .3 0"/>
<path class="b10" d="M999.2 435.1l.2 .2 .2 .1M1001.2 434.6l.4-.1 .6-.5M1002.9 434.2l.1 .6 3-1.2 .1-.3M1006.2 433.4l.1 .3 1 0M1014.5 431.9l1.5-.6 1.1-.3 2.4-.1"/>
<path class="b9" d="M1006.1 433.3l0-.3 0 0M1009 433.4l.7-.4 3.4-.5 1.4-.6"/>
<path class="b6" d="M1019.5 430.9l2.4-.1 1.6-.5M1027.2 429.4l.4 .1 .3-.5M1028.5 428.5l.2 .1 1 0"/>
<path class="b7" d="M1023.5 430.3l1.6-.5 .8-.3"/>
<path class="b5" d="M1025.9 429.5l.9-.3 .4 .2M1027.9 429l.3-.5 .3 0"/>
<path class="b4" d="M1029.7 428.6l.9 .1 .9-.1M1033.7 427.8l.2 .3 .3-.5"/>
<path class="b1" d="M1031.5 428.6l1-.1 1.1-1 .1 .3M1041.3 425.7l.4 0 .2-.3M1044.8 424.5l0-.5 .5-.3 .5 .2 2.4-.8M1050.9 422.7l.2 .5 .5-.4M1056.8 420.6l.8-.2 2.7 .6 .4-1.6 .1 0 3-.6 1.1-.2 .4-.2M1066.1 417.8l.4-.4 .7-.3 1.4 .3 1.8-.9 3.3-1.8 1.2 .7 1.5-.6 4-1.8 1.4-.3 1.6-.2"/>
<path class="b2" d="M1034.2 427.6l.2-.6 1.3-.1M1037 426.6l0-.1 1.3-.9 2.5 .1 .5 0M1042.3 425.1l.1 0 1.2 0"/>
<path class="b3" d="M1035.7 426.9l1.2-.1 .1-.2"/>
<path class="b0" d="M1041.9 425.4l.3-.3 .1 0M1043.6 425.1l1.2-.1 0-.5M1048.2 423.1l2.4-.8 .3 .4M1051.6 422.8l.5-.3 3.9-1.7 .8-.2M1065.3 418.4l.5-.3 .3-.3"/>
<path class="b1" stroke-width="0" d="M1081.8 412.7l3.3-.5 1.1-.5 1.4-.4 .6 .3M1089.2 411l.2 .4 3.4-1.1"/>
<path class="b0" stroke-width="0" d="M1088.2 411.6l1-.6"/>
<path class="b30" d="M937.2 441l.2 .3 3.3 .2 1.1-.3M943.9 440.9l.8-.2 1.9 .5 .4-.2M947.7 440.9l.3 0 2.3 .2 2.7-.3M955.9 440.3l.2-.3 .5-.1 2 0M961.7 439.7l1.1-.2 3.5-1.1 1.2 1.2 1.2-.4M970.2 438.9l.4 .1 2.3-.7"/>
<path class="b31" d="M941.8 441.2l1.2-.2 .9-.1M947 441l.4-.2 .3 .1M953 440.8l2.8-.2 .1-.3M958.6 439.9l2.1-.1 1-.1"/>
<path class="b29" d="M968.7 439.2l1.2-.4 .3 .1"/>
<path class="b26" d="M972.9 438.3l2.4-.6 .5 .4"/>
<path class="b25" d="M975.8 438.1l.6 .4 0-.4"/>
<path class="b27" d="M976.4 438.1l0-.4 .9 0"/>
<path class="b24" d="M977.3 437.7l.8 0 .8-.4"/>
<path class="b21" d="M978.9 437.3l.9-.3 .6 .1"/>
<path class="b23" d="M980.4 437.1l.6 .2 0 0"/>
<path class="b22" d="M981 437.3l0 0 .7-.1 .8 0"/>
<path class="b20" d="M982.5 437.2l.7 0 1.4-.2"/>
<path class="b18" d="M984.6 437l1.3-.3 1.4 .1 1.8-.8 .6-.3 .2 .1"/>
<path class="b17" d="M989.9 435.8l.1 .2 1.2 .1 2.3-.3M1000.1 434.2l.7-.2 .3 .1"/>
<path class="b14" d="M993.5 435.8l2.3-.2 .1-.1M996.1 434.8l0-.5 .5 .4M1003.2 434.1l.4-.2 .3-.3M1004.8 433.7l.1 .1 .6-.4M1007.5 432.4l.6-.5 .1 .6"/>
<path class="b16" d="M995.9 435.5l.2-.1 0-.6M996.6 434.7l.5 .3 .6 .3 1.7-.8 .7-.3M1001.9 434l.4 .2 .1-.2M1003.9 433.6l.3-.3 .2 .2"/>
<path class="b13" d="M1001.1 434.1l.2 .1 .1-.2M1002.7 434.1l.2 .3 .3-.3M1011.4 431.4l0 0 .1 .3M1012.6 432l1 0 .7-.3"/>
<path class="b15" d="M1001.4 434l0-.1 .5 .1M1002.4 434l.1-.1 .2 .2M1005.5 433.4l.6-.4 .4-.1"/>
<path class="b12" d="M1004.4 433.5l.3 .2 .1 0M1006.5 432.9l.3 0 .7-.5M1011.5 431.7l.1 .3 1 0M1019.8 430.2l1.5-.6 .5-.2"/>
<path class="b11" d="M1008.2 432.5l.1 .6 3-1.2 .1-.6 0 .1M1014.3 431.7l.7-.4 3.4-.5 1.4-.6M1021.8 429.4l.6-.2 2.4-.1"/>
<path class="b8" d="M1024.8 429.1l2.4-.1 1.6-.5M1033.8 426.7l.3 0 .9 .1"/>
<path class="b9" d="M1028.8 428.5l1.7-.5 .8-.3"/>
<path class="b7" d="M1031.3 427.7l.8-.3 .8 .3 .7-1 .2 0"/>
<path class="b6" d="M1035 426.8l1 0 .9-.1"/>
<path class="b3" d="M1036.9 426.7l.9 0 1.1-1.1 .2 .3"/>
<path class="b5" d="M1039.1 425.9l.1 .3 .3-.5M1041.1 425l1.2-.1 .1-.2"/>
<path class="b4" d="M1039.5 425.7l.3-.5 1.3-.2M1042.4 424.7l0-.1 .6-.4"/>
<path class="b2" d="M1043 424.2l.7-.5 2.5 0 .5 0M1047.7 423.2l.1 0 1.2-.1"/>
<path class="b1" d="M1046.7 423.7l.4 .1 .3-.3M1050.2 422.5l0-.5 .6-.3 .4 .2 2.4-.8M1056.3 420.7l.3 .4 .5-.3M1062.2 418.5l.9-.2 2.7 .5 .4-1.5 0-.1 3.1-.5 1.1-.3 .4-.2M1071.6 415.6l.4-.3 .7-.4 1.4 .3 1.8-.9 1.7-.9"/>
<path class="b0" d="M1047.4 423.5l.2-.3 .1 0M1049 423.1l1.2 0 0-.6M1053.6 421.1l2.5-.8 .2 .4M1057.1 420.8l.5-.4 3.8-1.7 .8-.2M1070.8 416.2l.5-.2 .3-.4"/>
<path class="b1" stroke-width="0" d="M1075.9 414.3l3.3-1.8 1.2 .7 1.5-.7 4.1-1.8 1.3-.3 3.4-.6 1.1-.4 1.3-.4 .7 .2M1094.8 408.6l.1 .4 3.5-1.1"/>
<path class="b0" stroke-width="0" d="M1093.8 409.2l1-.6"/>
<path class="b30" d="M942.2 439.7l.1 .1M952 439.7l.5-.2 .6 0 2.2 .2 5.6-.5 .3-.6 .5-.1 4.1-.1 2.1-.3 1.7-.6"/>
<path class="b29" d="M942.3 439.8l.1 .2 3.3 .1 1.2-.2M948.9 439.5l.9-.1 1.8 .5 .4-.2M969.6 437.5l1.8-.5 1.2 1.1 2.4-.8 .7 .2 2.3-.6"/>
<path class="b31" d="M946.9 439.9l1.1-.2 .9-.2"/>
<path class="b25" d="M978 436.9l2.4-.7 .6 .4M981.5 436.6l.1-.3 .8 0"/>
<path class="b23" d="M981 436.6l.5 .4 0-.4"/>
<path class="b22" d="M982.4 436.3l.8-.1 .9-.3"/>
<path class="b19" d="M984.1 435.9l.9-.4 .6 .1M987.7 435.7l.7 0 1.4-.3"/>
<path class="b21" d="M985.6 435.6l.6 .2 0 0M986.5 435.7l.4 0 .8 0"/>
<path class="b20" d="M986.2 435.8l0 0 .3-.1"/>
<path class="b17" d="M989.8 435.4l1.3-.2 .7 0"/>
<path class="b16" d="M991.8 435.2l.7 .1 1.8-.9 .6-.3 .2 .2M995.8 434.5l.6 0 2.3-.2"/>
<path class="b15" d="M995.1 434.3l.1 .2 .6 0M1002.6 433.6l.3 .1 1.7-.8 1.4-.5 .3 .1"/>
<path class="b12" d="M998.7 434.3l2.3-.3 .1-.1M1001.3 433.3l0-.6 .5 .4M1010.1 432.1l.1 .1 .6-.5M1012.7 430.7l.7-.5 .1 .6"/>
<path class="b14" d="M1001.1 433.9l.2-.1 0-.5M1001.8 433.1l.5 .3 .3 .2M1006.6 432.4l.1-.1 .9 .2 .2-.3 .2 .3M1009.1 431.9l.4-.3 .2 .3"/>
<path class="b11" d="M1006.3 432.5l.3 .1 0-.2M1008 432.5l.1 .2 .4-.2M1016.7 429.7l0 0 .1 .3M1017.9 430.3l1 0 .7-.3"/>
<path class="b13" d="M1008.5 432.5l.3-.2 .3-.4M1010.8 431.7l.6-.4 .3 0"/>
<path class="b10" d="M1009.7 431.9l.2 .2 .2 0M1011.7 431.3l.4-.1 .6-.5M1013.5 430.8l.1 .7 3-1.3 0-.3M1016.8 430l.1 .3 1 0M1025.2 428.5l1.4-.7 1.1-.3 2.4-.2"/>
<path class="b9" d="M1016.6 429.9l.1-.3 0 .1M1019.6 430l.7-.4 3.4-.5 1.5-.6"/>
<path class="b6" d="M1030.1 427.3l2.4-.1 1.7-.5M1037.9 425.7l.4 .2 .3-.6M1039.2 424.9l.2 0 1 0"/>
<path class="b7" d="M1034.2 426.7l1.6-.5 .8-.3"/>
<path class="b5" d="M1036.6 425.9l.9-.3 .4 .1M1038.6 425.3l.3-.5 .3 .1"/>
<path class="b4" d="M1040.4 424.9l.9 .1 1-.1M1044.5 424.1l.1 .2 .3-.5"/>
<path class="b1" d="M1042.3 424.9l.9-.1 1.1-1 .2 .3M1052.1 421.8l.4 0 .3-.3M1055.6 420.6l0-.6 .6-.2 .4 .2 2.5-.9M1061.8 418.7l.2 .4 .5-.4M1067.7 416.5l.8-.3 2.8 .5 .3-1.5 .1-.1 3.1-.6 1.1-.2 .4-.3M1077.1 413.4l.4-.3 .7-.4 1.4 .3 1.9-1 3.2-1.8 1.2 .7 .8-.3"/>
<path class="b2" d="M1044.9 423.8l.3-.5 1.3-.2M1047.8 422.8l0-.1 1.2-.9 2.6 0 .5 0M1053.1 421.2l.1 0 1.2-.1"/>
<path class="b3" d="M1046.5 423.1l1.2-.2 .1-.1"/>
<path class="b0" d="M1052.8 421.5l.2-.3 .1 0M1054.4 421.1l1.2 0 0-.5M1059.1 419.1l2.4-.9 .3 .5M1062.5 418.7l.5-.3 3.9-1.7 .8-.2M1076.3 414l.5-.2 .3-.4"/>
<path class="b1" stroke-width="0" d="M1085.9 410.9l1.5-.7 4.1-1.8 1.4-.3 3.3-.6 1.2-.5 1.3-.4 .7 .3M1100.4 406.2l.1 .4 3.5-1.1"/>
<path class="b0" stroke-width="0" d="M1099.4 406.9l1-.7"/>
<path class="b30" d="M946.3 438.2l.2 .3 3.4 .1 1.1-.2M953.1 438l.9-.1 1.8 .5 .4-.3M957 438l.3 0 2.3 .2 2.8-.3M965.3 437.4l.2-.3 .5-.1 2-.1M971.2 436.7l1.1-.2 3.5-1.1 1.2 1.1 1.2-.3M979.8 435.9l.3 .1 2.4-.7"/>
<path class="b31" d="M951 438.4l1.2-.3 .9-.1M956.2 438.1l.5-.2 .3 .1M962.4 437.9l2.8-.2 .1-.3M968 436.9l2.1 0 1.1-.2"/>
<path class="b29" d="M978.2 436.2l1.2-.4 .4 .1"/>
<path class="b26" d="M982.5 435.3l2.4-.7 .5 .4"/>
<path class="b25" d="M985.4 435l.6 .4 0-.4"/>
<path class="b27" d="M986 435l.1-.3 .8-.1"/>
<path class="b24" d="M986.9 434.6l.8 0 .9-.4"/>
<path class="b21" d="M988.6 434.2l.9-.3 .6 .1"/>
<path class="b23" d="M990.1 434l.6 .2 0 0"/>
<path class="b22" d="M990.7 434.2l0 0 .7-.1 .8 0"/>
<path class="b20" d="M992.2 434.1l.7 0 1.4-.3"/>
<path class="b18" d="M994.3 433.8l1.4-.3 1.3 .2 1.9-.9 .6-.3 .2 .1"/>
<path class="b17" d="M999.7 432.6l.1 .2 1.3 .1 2.3-.3M1010 430.9l.7-.2 .3 .1"/>
<path class="b14" d="M1003.4 432.6l2.3-.3 .1-.1M1005.9 431.6l0-.5 .6 .3M1013.2 430.8l.3-.3 .4-.3M1014.8 430.4l.1 0 .6-.4M1017.5 429l.6-.5 .1 .6"/>
<path class="b16" d="M1005.8 432.2l.1-.1 0-.5M1006.5 431.4l.5 .3 .6 .3 1.7-.8 .7-.3M1011.8 430.7l.5 .1 .1-.1M1013.9 430.2l.3-.3 .2 .2"/>
<path class="b13" d="M1011 430.8l.3 .1 0-.2M1012.7 430.8l.1 .2 .4-.2M1021.5 427.9l0 .1 .1 .3M1022.7 428.5l1 0 .7-.3"/>
<path class="b15" d="M1011.3 430.7l.1-.2 .4 .2M1012.4 430.7l.1-.2 .2 .3M1015.5 430l.6-.4 .4-.1"/>
<path class="b12" d="M1014.4 430.1l.3 .2 .1 .1M1016.5 429.5l.3 0 .7-.5M1021.6 428.3l.1 .3 1-.1M1030 426.6l1.5-.6 .5-.2"/>
<path class="b11" d="M1018.2 429.1l.1 .6 3.1-1.2 .1-.7 0 .1M1024.4 428.2l.7-.3 3.5-.6 1.4-.7M1032 425.8l.6-.2 2.4-.1"/>
<path class="b8" d="M1035 425.5l2.5-.2 1.6-.5M1044.2 423l.2 0 1 0"/>
<path class="b9" d="M1039.1 424.8l1.7-.5 .8-.3"/>
<path class="b7" d="M1041.6 424l.9-.3 .8 .3 .6-1.1 .3 .1"/>
<path class="b6" d="M1045.4 423l1 .1 .9-.1"/>
<path class="b3" d="M1047.3 423l1-.1 1.1-1.1 .1 .3"/>
<path class="b5" d="M1049.5 422.1l.2 .3 .3-.5M1051.5 421.2l1.3-.2 .1-.1"/>
<path class="b4" d="M1050 421.9l.3-.6 1.2-.1M1052.9 420.9l0-.1 .6-.5"/>
<path class="b2" d="M1053.5 420.3l.6-.5 2.7 0 .4 0M1058.3 419.2l.1 0 1.2-.1"/>
<path class="b1" d="M1057.2 419.8l.5 0 .2-.3M1060.8 418.5l0-.5 .5-.3 .5 .2 2.5-.8M1067 416.6l.2 .4 .5-.3M1073 414.3l.8-.2 2.8 .5 .4-1.5 0-.1 3.1-.7 1.2-.2 .4-.3M1082.5 411.2l.3-.3 .8-.4 1.4 .2 1.8-.9 3.3-1.8 1.3 .6 1.5-.7 2-.9"/>
<path class="b0" d="M1057.9 419.5l.2-.3 .2 0M1059.6 419.1l1.2 0 0-.6M1064.3 417.1l2.4-.9 .3 .4M1067.7 416.7l.5-.4 3.9-1.7 .9-.3M1081.7 411.8l.4-.2 .4-.4"/>
<path class="b1" stroke-width="0" d="M1092.9 407.9l4.1-1.8 1.4-.4 3.4-.6 1.1-.4 1.4-.5 .6 .3M1105.9 403.8l.2 .4 3.5-1.1"/>
<path class="b0" stroke-width="0" d="M1104.9 404.5l1-.7"/>
<path class="b30" d="M950.4 436.7l.2 .1M960.5 436.6l.4-.2 .6 .1 2.3 .1 5.7-.4 .3-.7 .5-.1 4.1-.1 2.2-.4 1.8-.5"/>
<path class="b29" d="M950.6 436.8l.1 .2 3.4 .1 1.1-.2M957.2 436.5l1-.1 1.8 .4 .5-.2M978.4 434.4l1.7-.6 1.3 1.2 2.4-.8 .7 .2 2.5-.7"/>
<path class="b31" d="M955.2 436.9l1.1-.3 .9-.1"/>
<path class="b25" d="M987 433.7l2.4-.7 .5 .4M990.5 433.4l0-.3 .9-.1"/>
<path class="b23" d="M989.9 433.4l.6 .4 0-.4"/>
<path class="b22" d="M991.4 433l.8 0 .9-.4"/>
<path class="b19" d="M993.1 432.6l.9-.4 .6 .2M996.7 432.5l.8 0 1.4-.3"/>
<path class="b21" d="M994.6 432.4l.6 .2 0-.1M995.6 432.5l.4-.1 .7 .1"/>
<path class="b20" d="M995.2 432.5l0 0 .4 0"/>
<path class="b17" d="M998.9 432.2l1.4-.3 .6 0"/>
<path class="b16" d="M1000.9 431.9l.7 .1 1.9-.9 .6-.3 .2 .2M1005.1 431.2l.6 0 2.3-.3"/>
<path class="b15" d="M1004.3 431l.1 .2 .7 0M1012 430.2l.3 .2 1.7-.9 1.4-.5 .3 .1"/>
<path class="b12" d="M1008 430.9l2.3-.3 .2-.1M1010.6 429.9l0-.5 .5 .3M1019.5 428.7l.2 0 .6-.4M1022.3 427.2l.6-.5 .1 .7"/>
<path class="b14" d="M1010.5 430.5l.1-.1 0-.5M1011.1 429.7l.6 .3 .3 .2M1016.1 429l0-.2 .9 .3 .2-.3 .2 .3M1018.6 428.5l.3-.3 .3 .2"/>
<path class="b11" d="M1015.7 429.1l.3 .1 .1-.2M1017.4 429.1l.2 .2 .3-.2M1026.3 426.1l0 .1 .1 .3M1027.5 426.8l1-.1 .7-.3"/>
<path class="b13" d="M1017.9 429.1l.4-.3 .3-.3M1020.3 428.3l.6-.5 .3 0"/>
<path class="b10" d="M1019.2 428.4l.2 .2 .1 .1M1021.2 427.8l.4 0 .7-.6M1023 427.4l.1 .6 3.1-1.3 0-.3M1026.4 426.5l.1 .3 1 0M1034.9 424.8l1.5-.6 1.1-.4 2.5-.2"/>
<path class="b9" d="M1026.2 426.4l.1-.3 0 0M1029.2 426.4l.8-.3 3.5-.6 1.4-.7"/>
<path class="b6" d="M1040 423.6l2.4-.1 1.7-.6M1047.9 421.9l.4 .2 .3-.6M1049.2 421.1l.3 0 .9 0"/>
<path class="b7" d="M1044.1 422.9l1.7-.5 .8-.3"/>
<path class="b5" d="M1046.6 422.1l.8-.3 .5 .1M1048.6 421.5l.3-.5 .3 .1"/>
<path class="b4" d="M1050.4 421.1l1 0 .9-.1M1054.6 420.2l.1 .3 .3-.6"/>
<path class="b1" d="M1052.3 421l1-.1 1.1-1 .2 .3M1062.3 417.8l.5 0 .2-.3M1065.9 416.5l.1-.5 .5-.3 .5 .2 2.5-.9M1072.2 414.5l.2 .5 .5-.4M1078.2 412.2l.9-.2 2.8 .4 .4-1.5 0-.1 3.2-.6 1.1-.3 .4-.3M1087.8 409l.4-.3 .8-.4 1.4 .2 1.8-.9 1.7-1"/>
<path class="b2" d="M1055 419.9l.3-.5 1.3-.2M1058 418.9l0-.1 1.2-.9 2.7-.1 .4 0M1063.4 417.2l.1 0 1.2-.1"/>
<path class="b3" d="M1056.6 419.2l1.3-.2 .1-.1"/>
<path class="b0" d="M1063 417.5l.3-.3 .1 0M1064.7 417.1l1.2-.1 0-.5M1069.5 415l2.4-.9 .3 .4M1072.9 414.6l.6-.4 3.9-1.8 .8-.2M1087 409.6l.5-.2 .3-.4"/>
<path class="b1" stroke-width="0" d="M1092.2 407.6l3.4-1.9 1.2 .7 1.5-.8 4.2-1.9 1.4-.3 3.4-.6 1.2-.5 1.3-.4 .7 .2M1111.5 401.5l.2 .4 3.5-1.2"/>
<path class="b0" stroke-width="0" d="M1110.5 402.1l1-.6"/>
<path class="b30" d="M954.6 435.2l.2 .3 3.4 0 1.2-.2M961.5 434.9l.9-.2 1.9 .5 .4-.3M965.5 434.8l.3 0 2.4 .1 2.8-.3M974 434l.2-.3 .5-.2 2.1 0M980 433.2l1.1-.2 3.6-1.2 1.3 1.1 1.2-.4M988.8 432.2l.4 .1 2.4-.8"/>
<path class="b31" d="M959.4 435.3l1.2-.3 .9-.1M964.7 434.9l.5-.2 .3 .1M971 434.6l2.9-.3 .1-.3M976.8 433.5l2.1-.1 1.1-.2"/>
<path class="b29" d="M987.2 432.5l1.3-.4 .3 .1"/>
<path class="b26" d="M991.6 431.5l2.5-.7 .6 .4"/>
<path class="b25" d="M994.7 431.2l.5 .4 .1-.4"/>
<path class="b27" d="M995.3 431.2l0-.4 .8 0"/>
<path class="b24" d="M996.1 430.8l.9 0 .9-.4"/>
<path class="b21" d="M997.9 430.4l.9-.4 .6 .1"/>
<path class="b23" d="M999.4 430.1l.6 .2 0-.1"/>
<path class="b22" d="M1000 430.2l0 0 .8-.1 .8 0"/>
<path class="b20" d="M1001.6 430.1l.7 0 1.4-.3"/>
<path class="b18" d="M1003.7 429.8l1.4-.3 1.4 .1 1.9-.9 .7-.3 .1 .1"/>
<path class="b17" d="M1009.2 428.5l.2 .2 1.3 0 2.3-.3M1019.8 426.6l.7-.3 .3 .1"/>
<path class="b14" d="M1013 428.4l2.4-.3 .1-.2M1015.7 427.3l0-.5 .5 .3M1023.1 426.4l.3-.3 .4-.3M1024.7 425.9l.2 .1 .6-.5M1027.5 424.5l.7-.5 .1 .6"/>
<path class="b16" d="M1015.5 427.9l.2-.1 0-.5M1016.2 427.1l.6 .3 .6 .4 1.7-1 .7-.2M1021.7 426.3l.5 .1 .1-.1M1023.8 425.8l.3-.3 .3 .2"/>
<path class="b13" d="M1020.8 426.4l.3 .1 .1-.2M1022.6 426.4l.1 .2 .4-.2M1031.6 423.3l0 .1 .1 .3M1032.8 423.9l1.1 0 .7-.4"/>
<path class="b15" d="M1021.2 426.3l0-.1 .5 .1M1022.3 426.3l.1-.2 .2 .3M1025.5 425.5l.6-.4 .4 0"/>
<path class="b12" d="M1024.4 425.7l.2 .2 .1 0M1026.5 425.1l.3-.1 .7-.5M1031.7 423.7l.1 .3 1-.1M1040.3 421.9l1.5-.7 .6-.2"/>
<path class="b11" d="M1028.3 424.6l0 .6 3.2-1.3 .1-.6 0 0M1034.6 423.5l.7-.3 3.6-.7 1.4-.6M1042.4 421l.6-.2 2.5-.2"/>
<path class="b8" d="M1045.5 420.6l2.5-.2 1.7-.6M1054.8 417.9l.3 0 1 0"/>
<path class="b9" d="M1049.7 419.8l1.7-.5 .8-.3"/>
<path class="b7" d="M1052.2 419l.9-.4 .8 .3 .7-1.1 .2 .1"/>
<path class="b6" d="M1056.1 417.9l1 0 .9-.1"/>
<path class="b3" d="M1058 417.8l1-.1 1.2-1.1 .1 .3"/>
<path class="b5" d="M1060.3 416.9l.2 .3 .3-.6M1062.4 415.9l1.3-.2 0-.1"/>
<path class="b4" d="M1060.8 416.6l.3-.5 1.3-.2M1063.7 415.6l.1-.1 .6-.5"/>
<path class="b2" d="M1064.4 415l.6-.5 2.7-.1 .5 0M1069.3 413.8l.1 0 1.2-.1"/>
<path class="b1" d="M1068.2 414.4l.5 0 .2-.3M1071.8 413.1l.1-.6 .5-.2 .5 .1 2.5-.9M1078.2 411l.3 .4 .5-.4M1084.3 408.6l.9-.3 2.8 .5 .4-1.6 .1-.1 3.2-.7 1.1-.3 .5-.2M1094.1 405.3l.3-.4 .8-.4 1.4 .2 2-1 3.3-1.9 .7 .3"/>
<path class="b0" d="M1068.9 414.1l.2-.3 .2 0M1070.6 413.7l1.2-.1 0-.5M1075.4 411.5l2.5-.9 .3 .4M1079 411l.5-.3 4-1.9 .8-.2M1093.3 405.9l.4-.2 .4-.4"/>
<path class="b1" stroke-width="0" d="M1101.9 401.8l1.3 .7 1.5-.8 4.3-1.9 1.4-.4 3.4-.7 1.2-.4 1.4-.5 .7 .2M1118.1 397.4l.2 .4 3.6-1.3"/>
<path class="b0" stroke-width="0" d="M1117.1 398l1-.6"/>
<path class="b30" d="M958.7 433.7l.1 .1M969 433.3l.5-.3 .6 .1 2.4 0 5.8-.6 .3-.7 .6-.1 4.2-.2 2.3-.5 1.8-.6"/>
<path class="b29" d="M958.8 433.8l.1 .2 3.5 0 1.2-.3M965.7 433.2l.9-.1 2 .4 .4-.2M987.5 430.4l1.8-.6 1.3 1 2.5-.8 .7 .1 2.5-.7"/>
<path class="b31" d="M963.6 433.7l1.2-.3 .9-.2"/>
<path class="b25" d="M996.3 429.4l2.5-.8 .6 .4M1000 429l0-.4 .9 0"/>
<path class="b23" d="M999.4 429l.6 .4 0-.4"/>
<path class="b22" d="M1000.9 428.6l.9-.1 .9-.4"/>
<path class="b19" d="M1002.7 428.1l.9-.4 .6 .1M1006.4 427.8l.8 0 1.4-.4"/>
<path class="b21" d="M1004.2 427.8l.6 .1 .1 0M1005.2 427.9l.4-.1 .8 0"/>
<path class="b20" d="M1004.9 427.9l0 0 .3 0"/>
<path class="b17" d="M1008.6 427.4l1.4-.3 .7 0"/>
<path class="b16" d="M1010.7 427.1l.8 .1 1.9-1 .7-.3 .1 .2M1015 426.2l.6 0 2.4-.3"/>
<path class="b15" d="M1014.2 426.1l.2 .1 .6 0M1022.1 425l.3 .2 1.8-1 1.5-.5 .3 .1"/>
<path class="b12" d="M1018 425.9l2.4-.4 .2-.1M1020.7 424.8l0-.6 .6 .3M1029.9 423.2l.1 .1 .7-.5M1032.7 421.7l.7-.5 .1 .6"/>
<path class="b14" d="M1020.6 425.4l.1-.1 0-.5M1021.3 424.5l.5 .4 .3 .1M1026.3 423.7l.1-.2 .9 .3 .2-.3 .2 .2M1028.9 423.1l.4-.3 .2 .2"/>
<path class="b11" d="M1026 423.8l.3 .1 0-.2M1027.7 423.7l.2 .2 .4-.2M1036.9 420.5l0 .1 .1 .2M1038.1 421.1l1.1-.1 .7-.3"/>
<path class="b13" d="M1028.3 423.7l.3-.3 .3-.3M1030.7 422.8l.6-.4 .4-.1"/>
<path class="b10" d="M1029.5 423l.3 .2 .1 0M1031.7 422.3l.3 0 .7-.6M1033.5 421.8l.1 .6 3.2-1.3 0-.4M1037 420.8l.1 .3 1 0M1045.8 418.9l1.5-.7 1.2-.4 2.5-.3"/>
<path class="b9" d="M1036.8 420.7l.1-.3 0 .1M1039.9 420.7l.8-.4 3.6-.7 1.5-.7"/>
<path class="b6" d="M1051 417.5l2.5-.2 1.7-.6M1059.1 415.6l.5 .1 .3-.5M1060.5 414.7l.3 0 1 0"/>
<path class="b7" d="M1055.2 416.7l1.8-.5 .8-.4"/>
<path class="b5" d="M1057.8 415.8l.9-.3 .4 .1M1059.9 415.2l.3-.6 .3 .1"/>
<path class="b4" d="M1061.8 414.7l.9 0 1-.1M1066 413.6l.2 .3 .3-.5"/>
<path class="b1" d="M1063.7 414.6l1-.2 1.2-1.1 .1 .3M1074 411l.5 0 .3-.3M1077.8 409.6l0-.5 .5-.3 .5 .2 2.6-1M1084.2 407.5l.3 .4 .5-.4M1090.4 405l.9-.3 2.9 .4 .4-1.6 0 0 3.3-.8 1.2-.3 .4-.2M1100.3 401.5l.4-.3 .8-.4 1.4 .1 2-1 3.4-1.9 1.3 .6 1.6-.8 2.1-1"/>
<path class="b2" d="M1066.5 413.4l.3-.6 1.3-.2M1069.5 412.3l.1-.2 1.3-.9 2.7-.1 .4-.1M1075.1 410.4l.2 0 1.2-.1"/>
<path class="b3" d="M1068.1 412.6l1.4-.2 0-.1"/>
<path class="b0" d="M1074.8 410.7l.2-.3 .1 0M1076.5 410.3l1.2-.1 .1-.6M1081.4 408l2.5-.9 .3 .4M1085 407.5l.5-.4 4.1-1.9 .8-.2M1099.5 402.2l.4-.3 .4-.4"/>
<path class="b1" stroke-width="0" d="M1111.2 397.8l4.2-2 1.5-.4 3.5-.7 1.2-.5 1.4-.5 .7 .2M1124.7 393.2l.2 .4 3.6-1.3"/>
<path class="b0" stroke-width="0" d="M1123.7 393.9l1-.7"/>
<path class="b30" d="M962 432l.3 .3 3.5-.1 1.2-.3M969.2 431.5l.9-.2 2 .3 .4-.2M973.3 431.2l.4 0 2.4 0 3-.4M982.2 430.1l.1-.3 .6-.1 2.2-.2M988.4 429.1l1.1-.2 3.7-1.3 1.4 1 1.2-.4M997.5 427.8l.4 .1 2.5-.8"/>
<path class="b31" d="M967 431.9l1.2-.3 1-.1M972.5 431.4l.5-.2 .3 0M979.1 430.8l2.9-.3 .2-.4M985.1 429.5l2.2-.1 1.1-.3"/>
<path class="b29" d="M995.8 428.2l1.3-.5 .4 .1"/>
<path class="b26" d="M1000.4 427.1l2.5-.9 .6 .4"/>
<path class="b25" d="M1003.5 426.6l.6 .4 0-.4"/>
<path class="b27" d="M1004.1 426.6l.1-.3 .9-.1"/>
<path class="b24" d="M1005.1 426.2l.8-.1 1-.4"/>
<path class="b21" d="M1006.9 425.7l.9-.4 .6 .1"/>
<path class="b23" d="M1008.4 425.4l.7 .1 0 0"/>
<path class="b22" d="M1009.1 425.5l0 0 .8-.1 .8-.1"/>
<path class="b20" d="M1010.7 425.3l.8 0 1.4-.4"/>
<path class="b18" d="M1012.9 424.9l1.5-.3 1.4 .1 2-1 .7-.4 .1 .2"/>
<path class="b17" d="M1018.6 423.5l.2 .1 1.3 0 2.4-.4M1029.6 421.2l.7-.3 .3 .1"/>
<path class="b14" d="M1022.5 423.2l2.5-.4 .1-.1M1025.3 422.1l0-.5 .5 .3M1033 420.9l.3-.3 .4-.3M1034.7 420.4l.1 0 .6-.4M1037.5 418.9l.7-.6 .1 .6"/>
<path class="b16" d="M1025.1 422.7l.2-.1 0-.5M1025.8 421.9l.6 .3 .6 .3 1.8-1 .8-.3M1031.5 420.9l.5 .1 .1-.2M1033.7 420.3l.3-.3 .3 .2"/>
<path class="b13" d="M1030.6 421l.3 .1 .1-.2M1032.4 420.9l.2 .3 .4-.3M1041.8 417.6l0 0 .1 .3M1043 418.1l1.1 0 .8-.4"/>
<path class="b15" d="M1031 420.9l0-.1 .5 .1M1032.1 420.8l.1-.1 .2 .2M1035.4 420l.7-.5 .3 0"/>
<path class="b12" d="M1034.3 420.2l.2 .2 .2 0M1036.4 419.5l.4-.1 .7-.5M1041.9 417.9l0 .3 1.1-.1M1050.8 415.9l1.5-.8 .6-.2"/>
<path class="b11" d="M1038.3 418.9l.1 .7 3.2-1.5 .1-.6 .1 .1M1044.9 417.7l.7-.4 3.7-.7 1.5-.7M1052.9 414.9l.6-.2 2.6-.3"/>
<path class="b8" d="M1056.1 414.4l2.6-.3 1.8-.6M1065.8 411.4l.3 0 1 0"/>
<path class="b9" d="M1060.5 413.5l1.7-.5 .9-.4"/>
<path class="b7" d="M1063.1 412.6l.9-.4 .9 .3 .6-1.1 .3 0"/>
<path class="b6" d="M1067.1 411.4l1 0 1-.1"/>
<path class="b3" d="M1069.1 411.3l1-.2 1.2-1.1 .2 .3"/>
<path class="b5" d="M1071.5 410.3l.1 .3 .4-.6M1073.6 409.2l1.4-.2 0-.1"/>
<path class="b4" d="M1072 410l.3-.5 1.3-.3M1075 408.9l.1-.1 .6-.5"/>
<path class="b2" d="M1075.7 408.3l.7-.5 2.8-.2 .4 0M1080.8 406.9l.1 0 1.2-.1"/>
<path class="b1" d="M1079.6 407.6l.5 0 .3-.3M1083.4 406.1l0-.5 .6-.3 .5 .2 2.6-1M1090 403.9l.3 .4 .5-.4M1096.4 401.3l.8-.3 3 .4 .4-1.6 0-.1 3.3-.8 1.2-.3 .5-.2M1106.4 397.7l.4-.3 .8-.4 1.5 .1 2-1 3.5-2 .6 .3"/>
<path class="b0" d="M1080.4 407.3l.2-.3 .2-.1M1082.1 406.8l1.3-.1 0-.6M1087.1 404.5l2.6-1 .3 .4M1090.8 403.9l.5-.4 4.2-1.9 .9-.3M1105.6 398.4l.4-.3 .4-.4"/>
<path class="b1" stroke-width="0" d="M1114.6 394.1l1.3 .6 1.6-.8 4.3-2.1 1.5-.4 3.6-.7 1.2-.6 1.5-.5 .6 .2M1131.3 389.1l.2 .4 3.7-1.3"/>
<path class="b0" stroke-width="0" d="M1130.2 389.8l1.1-.7"/>
<path class="b30" d="M965.4 430.4l.1 .1M976 429.5l.5-.2 .6 0 2.5 0 6-.9 .3-.7 .6-.1 4.4-.4 2.3-.6 1.8-.7"/>
<path class="b29" d="M965.5 430.5l.1 .1 3.6-.1 1.2-.3M972.6 429.6l1-.2 1.9 .4 .5-.3M995 425.9l1.9-.7 1.3 1.1 2.7-1 .7 .2 2.6-.9"/>
<path class="b31" d="M970.4 430.2l1.2-.4 1-.2"/>
<path class="b25" d="M1004.2 424.6l2.5-.9 .6 .4M1007.9 424.1l.1-.4 .9-.1"/>
<path class="b23" d="M1007.3 424.1l.6 .4 0-.4"/>
<path class="b22" d="M1008.9 423.6l.9-.1 .9-.4"/>
<path class="b19" d="M1010.7 423.1l1-.5 .6 .1M1014.5 422.6l.9 0 1.4-.4"/>
<path class="b21" d="M1012.3 422.7l.6 .2 0-.1M1013.3 422.8l.4-.1 .8-.1"/>
<path class="b20" d="M1012.9 422.8l.1 0 .3 0"/>
<path class="b17" d="M1016.8 422.2l1.5-.4 .7 0"/>
<path class="b16" d="M1019 421.8l.8 .1 1.9-1.1 .7-.3 .2 .1M1023.4 420.8l.7 0 2.4-.5"/>
<path class="b15" d="M1022.6 420.6l.1 .2 .7 0M1030.8 419.3l.3 .1 1.8-1 1.5-.6 .3 .1"/>
<path class="b12" d="M1026.5 420.3l2.5-.4 .1-.2M1029.3 419.1l0-.5 .6 .3M1038.8 417.2l.1 .1 .7-.5M1041.7 415.6l.7-.5 .1 .6"/>
<path class="b14" d="M1029.1 419.7l.2-.1 0-.5M1029.9 418.9l.5 .3 .4 .1M1035.1 417.8l0-.1 1 .2 .2-.3 .2 .2M1037.8 417.1l.3-.3 .3 .2"/>
<path class="b11" d="M1034.7 417.9l.3 .1 .1-.2M1036.5 417.8l.2 .2 .4-.2M1046 414.3l0 0 .1 .3M1047.2 414.8l1.1-.1 .8-.4"/>
<path class="b13" d="M1037.1 417.8l.3-.3 .4-.4M1039.6 416.8l.6-.5 .4 0"/>
<path class="b10" d="M1038.4 417l.3 .2 .1 0M1040.6 416.3l.4-.1 .7-.6M1042.5 415.7l.1 .6 3.3-1.5 0-.3M1046.1 414.6l.1 .3 1-.1M1055.1 412.4l1.6-.8 1.2-.4 2.6-.4"/>
<path class="b9" d="M1045.9 414.5l0-.3 .1 .1M1049.1 414.3l.8-.3 3.7-.9 1.5-.7"/>
<path class="b6" d="M1060.5 410.8l2.6-.3 1.8-.6M1068.9 408.6l.5 .1 .3-.5M1070.3 407.7l.3 0 1-.1"/>
<path class="b7" d="M1064.9 409.9l1.8-.6 .8-.4"/>
<path class="b5" d="M1067.5 408.9l.9-.4 .5 .1M1069.7 408.2l.3-.6 .3 .1"/>
<path class="b4" d="M1071.6 407.6l1 0 1-.2M1076 406.4l.2 .3 .3-.5"/>
<path class="b1" d="M1073.6 407.4l1.1-.1 1.2-1.1 .1 .2M1084.3 403.6l.5 0 .2-.3M1088.1 402.1l0-.6 .6-.3 .5 .2 2.6-1.1M1094.7 399.7l.3 .4 .5-.4M1101.2 397l.9-.3 2.9 .3 .4-1.5 .1-.1 3.3-.9 1.3-.3 .4-.3M1111.4 393.3l.4-.4 .8-.4 1.4 .1 2-1.1 3.6-2 1.3 .5 1.6-.8 4.4-2.1 1.5-.4 1.8-.5"/>
<path class="b2" d="M1076.5 406.2l.3-.6 1.4-.3M1079.6 405l.1-.2 1.3-1 2.8-.2 .5 0M1085.4 402.9l.1 0 1.3-.2"/>
<path class="b3" d="M1078.2 405.3l1.4-.2 0-.1"/>
<path class="b0" d="M1085 403.3l.3-.4 .1 0M1086.8 402.7l1.3-.1 0-.5M1091.8 400.3l2.7-1 .2 .4M1095.5 399.7l.6-.4 4.2-2 .9-.3M1110.5 393.9l.5-.3 .4-.3"/>
<path class="b1" stroke-width="0" d="M1128.4 386.7l3.6-.9 1.3-.5 1.4-.6 .7 .2M1136.5 384.2l.2 .4 3.7-1.4"/>
<path class="b0" stroke-width="0" d="M1135.4 384.9l1.1-.7"/>
<path class="b30" d="M968.7 428.7l.2 .2 3.7-.2 1.2-.3M976 427.8l1-.2 2 .3 .4-.3M980.3 427.4l.3 0 2.5-.1 3-.5M989.3 425.9l.1-.3 .6-.2 2.2-.2M995.6 424.7l1.2-.3 3.8-1.5 1.3 1 1.4-.5M1004.9 423l.4 0 2.6-.9"/>
<path class="b31" d="M973.8 428.4l1.2-.4 1-.2M979.4 427.6l.5-.2 .4 0M986.1 426.8l3-.5 .2-.4M992.2 425.2l2.3-.2 1.1-.3"/>
<path class="b29" d="M1003.3 423.4l1.3-.5 .3 .1"/>
<path class="b26" d="M1007.9 422.1l2.6-.9 .6 .3"/>
<path class="b25" d="M1011.1 421.5l.6 .4 0-.4"/>
<path class="b27" d="M1011.7 421.5l.1-.4 .9-.1"/>
<path class="b24" d="M1012.7 421l.9-.1 .9-.4"/>
<path class="b21" d="M1014.5 420.5l1-.5 .6 .1"/>
<path class="b23" d="M1016.1 420.1l.7 .1 0 0"/>
<path class="b22" d="M1016.8 420.2l0 0 .8-.2 .8 0"/>
<path class="b20" d="M1018.4 420l.8-.1 1.5-.4"/>
<path class="b18" d="M1020.7 419.5l1.5-.4 1.5 0 2-1.1 .7-.4 .1 .2"/>
<path class="b17" d="M1026.5 417.8l.2 .1 1.3 0 2.5-.5M1037.7 415.1l.8-.3 .3 0"/>
<path class="b14" d="M1030.5 417.4l2.5-.5 .2-.1M1033.3 416.1l0-.5 .6 .3M1041.2 414.6l.4-.3 .3-.3M1042.9 414.1l.2 0 .6-.5M1045.9 412.4l.7-.5 .1 .6"/>
<path class="b16" d="M1033.2 416.8l.1-.2 0-.5M1033.9 415.9l.6 .3 .6 .2 1.9-1 .7-.3M1039.7 414.7l.5 .1 .1-.2M1041.9 414l.4-.3 .2 .2"/>
<path class="b13" d="M1038.8 414.8l.3 .1 .1-.2M1040.6 414.7l.2 .2 .4-.3M1050.2 411l0 0 .1 .3M1051.5 411.5l1.1-.1 .8-.4"/>
<path class="b15" d="M1039.2 414.7l0-.1 .5 .1M1040.3 414.6l.1-.2 .2 .3M1043.7 413.6l.7-.4 .4-.1"/>
<path class="b12" d="M1042.5 413.9l.3 .2 .1 0M1044.8 413.1l.3-.1 .8-.6M1050.3 411.3l.1 .3 1.1-.1M1059.4 408.9l1.6-.8 .6-.2"/>
<path class="b11" d="M1046.7 412.5l.1 .6 3.3-1.6 0-.6 .1 .1M1053.4 411l.7-.4 3.8-.9 1.5-.8M1061.6 407.9l.6-.3 2.7-.3"/>
<path class="b8" d="M1064.9 407.3l2.6-.4 1.8-.7M1074.8 403.9l.3 0 1 0"/>
<path class="b9" d="M1069.3 406.2l1.8-.6 .9-.4"/>
<path class="b7" d="M1072 405.2l.9-.4 .9 .2 .7-1.1 .3 0"/>
<path class="b6" d="M1076.1 403.9l1-.1 1.1-.2"/>
<path class="b3" d="M1078.2 403.6l1-.2 1.2-1.1 .2 .3"/>
<path class="b5" d="M1080.6 402.6l.1 .3 .4-.6M1082.8 401.4l1.3-.3 .1-.1"/>
<path class="b4" d="M1081.1 402.3l.3-.6 1.4-.3M1084.2 401l.1-.1 .6-.5"/>
<path class="b2" d="M1084.9 400.4l.7-.5 2.8-.3 .5 0M1090 398.9l.2 0 1.3-.2"/>
<path class="b1" d="M1088.9 399.6l.5-.1 .3-.3M1092.8 398l0-.6 .6-.3 .5 .2 2.7-1.1M1099.5 395.5l.3 .4 .5-.4M1106 392.7l.9-.3 3 .2 .4-1.5 .1-.1 3.3-.9 1.3-.4 .4-.3M1116.3 388.8l.4-.4 .8-.4 1.5 .1 2-1.1 3.6-2.2 1.3 .6 1.7-.9 4.4-2.2 1.5-.4 1.9-.5"/>
<path class="b0" d="M1089.7 399.2l.2-.3 .1 0M1091.5 398.7l1.2-.2 .1-.5M1096.6 396.2l2.6-1.1 .3 .4M1100.3 395.5l.5-.4 4.3-2.1 .9-.3M1115.4 389.4l.5-.2 .4-.4"/>
<path class="b1" stroke-width="0" d="M1133.5 381.9l3.7-.9 1.3-.6 1.4-.6 .7 .2M1141.7 379.3l.2 .4 3.8-1.5"/>
<path class="b0" stroke-width="0" d="M1140.6 380l1.1-.7"/>
<path class="b30" d="M971.1 426.7l.1 .1M981.9 425.2l.5-.3 .7 0 2.5-.2 6.1-1.2 .3-.7 .6-.2 4.5-.6 2.3-.7 1.9-.8"/>
<path class="b29" d="M971.2 426.8l.1 .1 3.7-.3 1.2-.4M978.5 425.5l.9-.2 2.1 .2 .4-.3M1001.3 420.5l2-.8 1.3 1 2.7-1.1 .7 .1 2.6-1"/>
<path class="b31" d="M976.2 426.2l1.3-.4 1-.3"/>
<path class="b25" d="M1010.6 418.7l2.6-1 .6 .3M1014.5 418l0-.4 .9-.1"/>
<path class="b23" d="M1013.8 418l.6 .4 .1-.4"/>
<path class="b22" d="M1015.4 417.5l.9-.2 1-.5"/>
<path class="b19" d="M1017.3 416.8l1-.5 .6 .1M1021.2 416.2l.8-.1 1.5-.4"/>
<path class="b21" d="M1018.9 416.4l.7 .1 0 0M1020 416.4l.4-.1 .8-.1"/>
<path class="b20" d="M1019.6 416.5l0 0 .4-.1"/>
<path class="b17" d="M1023.5 415.7l1.5-.5 .8 0"/>
<path class="b16" d="M1025.8 415.2l.7 0 2-1.2 .7-.3 .2 .1M1030.2 413.9l.7 0 2.5-.6"/>
<path class="b15" d="M1029.4 413.8l.2 .2 .6-.1M1037.7 412.1l.3 .1 1.9-1.1 1.6-.7 .3 .1"/>
<path class="b12" d="M1033.4 413.3l2.5-.6 .2-.1M1036.2 411.9l0-.5 .6 .3M1045.9 409.6l.1 .1 .7-.5M1048.9 407.9l.7-.6 .1 .6"/>
<path class="b14" d="M1036.1 412.6l.1-.1 0-.6M1036.8 411.7l.6 .2 .3 .2M1042.1 410.4l.1-.2 1 .2 .2-.3 .2 .2M1044.9 409.6l.4-.4 .2 .2"/>
<path class="b11" d="M1041.8 410.5l.3 .1 0-.2M1043.6 410.3l.2 .2 .4-.3M1053.2 406.3l.1 .1 0 .3M1054.5 406.8l1.1-.1 .8-.4"/>
<path class="b13" d="M1044.2 410.2l.3-.3 .4-.3M1046.7 409.2l.7-.5 .4-.1"/>
<path class="b10" d="M1045.5 409.4l.3 .2 .1 0M1047.8 408.6l.3-.1 .8-.6M1049.7 407.9l.1 .6 3.3-1.6 .1-.6 0 0M1053.3 406.7l.1 .3 1.1-.2M1062.6 404.1l1.5-.9 1.3-.5 2.6-.4"/>
<path class="b9" d="M1056.4 406.3l.8-.4 3.8-1 1.6-.8"/>
<path class="b6" d="M1068 402.3l2.7-.4 1.8-.7M1076.6 399.7l.5 .1 .3-.5M1078 398.7l.3 0 1.1 0"/>
<path class="b7" d="M1072.5 401.2l1.8-.7 .9-.4"/>
<path class="b5" d="M1075.2 400.1l.9-.5 .5 .1M1077.4 399.3l.3-.6 .3 0"/>
<path class="b4" d="M1079.4 398.7l1-.1 1-.2M1083.9 397.3l.1 .3 .4-.6"/>
<path class="b1" d="M1081.4 398.4l1.1-.2 1.2-1.2 .2 .3M1092.3 394.1l.5 0 .2-.3M1096.2 392.5l0-.6 .6-.3 .5 .1 2.7-1.1M1102.9 389.9l.3 .4 .5-.4M1109.5 387l.9-.3 3 .1 .4-1.5 .1-.1 3.4-1 1.2-.3 .5-.3M1119.9 382.9l.4-.4 .8-.4 1.5 .1 2-1.2 1.8-1.1"/>
<path class="b2" d="M1084.4 397l.3-.6 1.4-.3M1087.5 395.7l.1-.2 1.3-1 2.9-.3 .5-.1M1093.4 393.4l.1 0 1.3-.2"/>
<path class="b3" d="M1086.1 396.1l1.3-.3 .1-.1"/>
<path class="b0" d="M1093 393.8l.3-.3 .1-.1M1094.8 393.2l1.3-.2 .1-.5M1100 390.6l2.6-1.1 .3 .4M1103.7 389.9l.6-.5 4.3-2.1 .9-.3M1119 383.6l.5-.3 .4-.4"/>
<path class="b1" stroke-width="0" d="M1124.6 381l3.6-2.1 1.4 .5 1.6-.9 4.5-2.2 1.5-.5 3.7-1 1.3-.6 1.5-.6 .7 .2M1145.5 373l.2 .4 3.8-1.6"/>
<path class="b0" stroke-width="0" d="M1144.4 373.8l1.1-.8"/>
<path class="b30" d="M973.5 424.7l.2 .2 3.7-.5 1.3-.4M980.9 423.2l1-.3 2 .2 .5-.3M985.2 422.5l.4 0 2.5-.3 3.1-.7M994.4 420.4l.2-.4 .6-.2 2.2-.4M1000.9 418.7l1.2-.4 3.8-1.7 1.4 .9 1.3-.6M1010.3 416.3l.4 .1 2.6-1.1"/>
<path class="b31" d="M978.7 424l1.2-.5 1-.3M984.4 422.8l.5-.3 .3 0M991.2 421.5l3-.8 .2-.3M997.4 419.4l2.3-.4 1.2-.3"/>
<path class="b29" d="M1008.6 416.9l1.3-.6 .4 0"/>
<path class="b26" d="M1013.3 415.3l2.7-1.1 .6 .3"/>
<path class="b25" d="M1016.6 414.5l.6 .3 0-.3"/>
<path class="b27" d="M1017.2 414.5l.1-.4 .9-.2"/>
<path class="b24" d="M1018.2 413.9l.9-.1 1-.6"/>
<path class="b21" d="M1020.1 413.2l.9-.5 .7 .1"/>
<path class="b23" d="M1021.7 412.8l.6 0 .1 0"/>
<path class="b22" d="M1022.4 412.8l0 0 .8-.2 .8-.1"/>
<path class="b20" d="M1024 412.5l.8-.1 1.5-.6"/>
<path class="b18" d="M1026.3 411.8l1.6-.5 1.4 0 2.1-1.2 .7-.4 .2 .1"/>
<path class="b17" d="M1032.3 409.8l.1 .2 1.4-.2 2.5-.6M1040.7 407.9l.3 .1 1.9-1.2 1.5-.7 .3 .1"/>
<path class="b14" d="M1036.3 409.2l2.5-.7 .2-.1M1039.1 407.8l0-.6 .6 .3M1047.1 405.8l.4-.3 .4-.3M1048.9 405.2l.1 0 .7-.5M1051.9 403.4l.7-.6 .1 .6"/>
<path class="b16" d="M1039 408.4l.1-.1 0-.5M1039.7 407.5l.6 .2 .4 .2M1045.1 406.1l.1-.2 .9 .1 .2-.1M1047.9 405.2l.3-.4 .3 .2"/>
<path class="b13" d="M1044.7 406.2l.3 0 .1-.1M1046.6 405.9l.2 .2 .3-.3M1056.3 401.7l0 .1 .1 .3M1057.6 402.2l1.1-.2 .8-.4"/>
<path class="b15" d="M1046.3 405.9l.1-.2 .2 .2M1049.7 404.7l.7-.5 .4-.1"/>
<path class="b12" d="M1048.5 405l.3 .2 .1 0M1050.8 404.1l.4-.1 .7-.6M1056.4 402.1l.1 .2 1.1-.1M1065.7 399.2l1.6-.9 .6-.2"/>
<path class="b11" d="M1052.7 403.4l.1 .6 3.4-1.7 0-.6 .1 0M1059.5 401.6l.8-.5 3.8-1 1.6-.9M1067.9 398.1l.6-.3 2.7-.5"/>
<path class="b8" d="M1071.2 397.3l2.7-.5 1.8-.7M1081.3 393.5l.3 0 1-.1"/>
<path class="b9" d="M1075.7 396.1l1.8-.7 .9-.5"/>
<path class="b7" d="M1078.4 394.9l1-.4 .9 .2 .7-1.2 .3 0"/>
<path class="b6" d="M1082.6 393.4l1 0 1.1-.3"/>
<path class="b3" d="M1084.7 393.1l1-.2 1.3-1.2 .1 .3"/>
<path class="b5" d="M1087.1 392l.2 .3 .3-.6M1089.4 390.8l1.4-.4 0-.1"/>
<path class="b4" d="M1087.6 391.7l.4-.6 1.4-.3M1090.8 390.3l.1-.1 .7-.6"/>
<path class="b2" d="M1091.6 389.6l.6-.5 2.9-.4 .5 0M1096.8 387.9l.1 0 1.3-.2"/>
<path class="b1" d="M1095.6 388.7l.5-.1 .3-.3M1099.5 386.9l.1-.5 .6-.3 .5 .1 2.7-1.2M1106.4 384.2l.2 .4 .6-.4M1113 381.2l.9-.3 3 .2 .4-1.6 .1-.1 3.4-1 1.3-.4 .5-.3M1123.4 377l.4-.4 .9-.4 1.5 0 2-1.1 3.7-2.2 1.3 .5 1.7-.9 2.3-1.1"/>
<path class="b0" d="M1096.4 388.3l.2-.3 .2-.1M1098.2 387.7l1.3-.2 0-.6M1103.4 385l2.7-1.1 .3 .3M1107.2 384.2l.5-.4 4.4-2.2 .9-.4M1122.6 377.7l.4-.3 .4-.4"/>
<path class="b1" stroke-width="0" d="M1134.9 372.5l4.5-2.3 1.6-.5 3.7-1.1 1.2-.6 1.5-.7 .7 .2M1149.3 366.7l.1 .4 3.9-1.7"/>
<path class="b0" stroke-width="0" d="M1148.1 367.5l1.2-.8"/>
<path class="b30" d="M975.7 422.5l.1 .1M986.7 420.2l.5-.3 .6-.1 2.6-.3 6.1-1.7 .4-.7 .6-.2 4.5-1 2.4-.8 1.9-.9"/>
<path class="b29" d="M975.8 422.6l.1 .1 3.8-.6 1.2-.5M983.2 420.8l.9-.4 2.1 .1 .5-.3M1006.3 414.2l2-1 1.3 .9 2.7-1.3 .8 .1 2.6-1.2"/>
<path class="b31" d="M980.9 421.6l1.3-.5 1-.3"/>
<path class="b25" d="M1015.7 411.7l2.7-1.2 .6 .3M1019.6 410.8l.1-.4 .9-.2"/>
<path class="b23" d="M1019 410.8l.6 .4 0-.4"/>
<path class="b22" d="M1020.6 410.2l.9-.2 1-.5"/>
<path class="b20" d="M1022.5 409.5l1-.6 .6 0M1024.8 409l0-.1 .4-.1"/>
<path class="b21" d="M1024.1 408.9l.7 .1 0 0M1025.2 408.8l.4-.1 .9-.1"/>
<path class="b19" d="M1026.5 408.6l.8-.2 1.5-.5"/>
<path class="b17" d="M1028.8 407.9l1.5-.6 .8 0"/>
<path class="b16" d="M1031.1 407.3l.7-.1 2.1-1.2 .7-.5 .2 .2M1035.6 405.7l.7 0 2.5-.8"/>
<path class="b15" d="M1034.8 405.7l.1 .1 .7-.1M1043.2 403.5l.3 .1 1.9-1.2 1.6-.7 .3 0"/>
<path class="b12" d="M1038.8 404.9l2.6-.7 .1-.1M1041.7 403.4l0-.5 .6 .3M1051.5 400.6l.1 .1 .7-.6M1054.5 398.8l.7-.7 .1 .6"/>
<path class="b14" d="M1041.5 404.1l.2-.1 0-.6M1042.3 403.2l.6 .2 .3 .1M1047.7 401.6l0-.2 1 .1 .2-.3 .2 .2M1050.4 400.6l.4-.3 .3 .2"/>
<path class="b11" d="M1047.3 401.7l.3 .1 .1-.2M1049.1 401.4l.2 .2 .4-.3M1058.9 397l0 0 .1 .3M1060.2 397.4l1.1-.2 .8-.4"/>
<path class="b13" d="M1049.7 401.3l.4-.3 .3-.4M1052.3 400.1l.7-.5 .3-.1"/>
<path class="b10" d="M1051.1 400.5l.3 .1 .1 0M1053.3 399.5l.4-.1 .8-.6M1055.3 398.7l.1 .7 3.4-1.8 .1-.7 0 .1M1059 397.3l.1 .3 1.1-.2M1068.3 394.3l1.6-.9 1.3-.6 2.7-.5"/>
<path class="b9" d="M1062.1 396.8l.8-.5 3.9-1.1 1.5-.9"/>
<path class="b6" d="M1073.9 392.3l2.7-.6 1.8-.8M1082.6 389.4l.4 0 .4-.5M1084 388.3l.3 0 1-.1"/>
<path class="b7" d="M1078.4 390.9l1.8-.7 1-.5"/>
<path class="b5" d="M1081.2 389.7l.9-.4 .5 .1M1083.4 388.9l.3-.6 .3 0"/>
<path class="b4" d="M1085.3 388.2l1.1-.2 1.1-.2M1089.9 386.6l.2 .3 .3-.6"/>
<path class="b1" d="M1087.5 387.8l1-.2 1.3-1.3 .1 .3M1098.4 383.2l.5-.1 .3-.3M1102.4 381.4l0-.6 .6-.3 .5 .1 2.7-1.2M1109.2 378.6l.3 .4 .6-.5M1115.9 375.5l.9-.4 3 .1 .5-1.5 0-.1 3.5-1.1 1.2-.4 .5-.3M1126.4 371.1l.4-.4 .8-.4 1.5 0 2.1-1.2 3.7-2.2 1.3 .5 1.7-.9 4.6-2.4 1.5-.5 1.9-.6"/>
<path class="b2" d="M1090.4 386.3l.3-.6 1.4-.4M1093.6 384.9l.1-.2 1.3-1.1 2.9-.4 .5 0M1099.6 382.4l.1 0 1.3-.3"/>
<path class="b3" d="M1092.1 385.3l1.4-.3 .1-.1"/>
<path class="b0" d="M1099.2 382.8l.2-.3 .2-.1M1101 382.1l1.3-.2 .1-.5M1106.2 379.4l2.7-1.2 .3 .4M1110.1 378.5l.5-.4 4.3-2.3 1-.3M1125.5 371.8l.5-.3 .4-.4"/>
<path class="b1" stroke-width="0" d="M1144 363.6l3.7-1.2 1.3-.7 1.5-.7 .7 .2M1152.3 360.4l.2 .4 3.9-1.8"/>
<path class="b0" stroke-width="0" d="M1151.2 361.2l1.1-.8"/>
<path class="b30" d="M977.7 420.1l.2 .2 3.8-.8 1.2-.5M985.2 418.1l1-.4 2 0 .5-.3M989.5 417l.4 0 2.5-.5 3.1-.9M998.8 414.3l.1-.3 .6-.3 2.3-.6M1005.3 412.1l1.2-.4 3.8-2 1.4 .9 2.7-1.4 .8 0 2.6-1.2"/>
<path class="b31" d="M982.9 419l1.3-.5 1-.4M988.7 417.4l.5-.3 .3-.1M995.5 415.6l3.1-1 .2-.3M1001.8 413.1l2.3-.5 1.2-.5"/>
<path class="b27" d="M1017.8 408l2.7-1.3 .6 .3M1021.7 406.9l.1-.4 .9-.2"/>
<path class="b25" d="M1021.1 407l.6 .3 0-.4"/>
<path class="b24" d="M1022.7 406.3l.9-.2 1-.6"/>
<path class="b21" d="M1024.6 405.5l1-.6 .6 .1M1028.6 404.5l.8-.1 1.5-.6"/>
<path class="b23" d="M1026.2 405l.7 0 0 0M1027.3 404.8l.4-.1 .9-.2"/>
<path class="b22" d="M1026.9 405l0 0 .4-.2"/>
<path class="b19" d="M1030.9 403.8l1.5-.6 .8-.1"/>
<path class="b18" d="M1033.2 403.1l.8-.1 2-1.2 .7-.5 .2 .1"/>
<path class="b17" d="M1036.9 401.4l.1 .2 1.4-.2 2.6-.8M1045.3 399l.4 .1 1.9-1.2 1.5-.8 .3 .1"/>
<path class="b14" d="M1041 400.6l2.5-.8 .2-.1M1043.8 399l0-.5 .6 .2M1053.7 396l.1 0 .7-.6M1056.6 394l.8-.6 .1 .6"/>
<path class="b16" d="M1043.7 399.7l.1-.2 0-.5M1044.4 398.7l.6 .2 .3 .1M1049.8 397l.1-.2 1 .1 .2-.3 .2 .2M1052.6 396l.4-.4 .2 .2"/>
<path class="b13" d="M1049.4 397.2l.4 0 0-.2M1051.3 396.8l.2 .2 .4-.3M1061.1 392.1l0 .1 .1 .3M1062.4 392.5l1.1-.2 .8-.5"/>
<path class="b15" d="M1051.9 396.7l.3-.3 .4-.4M1054.5 395.4l.6-.5 .4-.1"/>
<path class="b12" d="M1053.2 395.8l.3 .2 .2 0M1055.5 394.8l.4-.1 .7-.7M1061.2 392.5l.1 .3 1.1-.3M1070.5 389.2l1.6-.9 .7-.3"/>
<path class="b11" d="M1057.5 394l.1 .6 3.4-1.9 0-.6 .1 0M1064.3 391.8l.8-.4 3.9-1.3 1.5-.9M1072.8 388l.6-.3 2.7-.6"/>
<path class="b8" d="M1076.1 387.1l2.7-.6 1.8-.8M1086.2 382.9l.3 0 1.1-.1"/>
<path class="b9" d="M1080.6 385.7l1.9-.8 .9-.5"/>
<path class="b7" d="M1083.4 384.4l.9-.4 1 .1 .6-1.1 .3-.1"/>
<path class="b6" d="M1087.6 382.8l1-.1 1.1-.3"/>
<path class="b3" d="M1089.7 382.4l1.1-.3 1.2-1.2 .2 .3"/>
<path class="b5" d="M1092.2 381.2l.1 .2 .4-.6M1094.4 379.9l1.4-.4 .1-.1"/>
<path class="b4" d="M1092.7 380.8l.3-.5 1.4-.4M1095.9 379.4l0-.2 .7-.5"/>
<path class="b2" d="M1096.6 378.7l.7-.6 2.9-.5 .5 0M1101.9 376.8l.1 0 1.3-.3"/>
<path class="b1" d="M1100.7 377.6l.5-.1 .3-.3M1104.6 375.7l.1-.5 .6-.4 .5 .2 2.7-1.3M1111.5 372.8l.3 .4 .6-.4M1118.2 369.6l.9-.3 3.1 .1 .4-1.6 .1-.1 3.4-1.1 1.3-.4 .4-.3M1128.7 365.2l.4-.4 .9-.5 1.5 0 2.1-1.1 3.6-2.3 1.4 .5 1.7-.9 4.5-2.5 1.6-.5 1.8-.7"/>
<path class="b0" d="M1101.5 377.2l.2-.3 .2-.1M1103.3 376.5l1.3-.2 0-.6M1108.5 373.7l2.7-1.3 .3 .4M1112.4 372.8l.5-.5 4.4-2.3 .9-.4M1127.8 365.9l.5-.3 .4-.4"/>
<path class="b1" stroke-width="0" d="M1146.4 357.5l3.7-1.3 1.3-.7 1.5-.7 .7 .1M1154.7 354.1l.2 .3 3.9-1.8"/>
<path class="b0" stroke-width="0" d="M1153.6 354.9l1.1-.8"/>
<path class="b30" d="M979.7 417.7l.1 .1M990.7 414.6l.5-.3 .7-.1 2.5-.6 6.2-2.1 .4-.7 .6-.3 4.5-1.2 2.4-1 2-1"/>
<path class="b29" d="M979.8 417.8l.1 .1 3.8-.9 1.2-.6M987.2 415.4l1-.4 2-.1 .5-.3M1010.5 407.3l1.9-1.1 1.4 .8 2.7-1.4 .8 0 2.6-1.3"/>
<path class="b31" d="M984.9 416.4l1.3-.6 1-.4"/>
<path class="b25" d="M1019.9 404.3l2.7-1.4 .6 .3"/>
<path class="b23" d="M1023.2 403.2l.6 .3 0-.4"/>
<path class="b26" d="M1023.8 403.1l.1-.4 .9-.2"/>
<path class="b22" d="M1024.8 402.5l.9-.3 1-.6M1028.3 401l.7 0 0 0"/>
<path class="b20" d="M1026.7 401.6l1-.6 .6 0M1029 401l0 0 .4-.2"/>
<path class="b21" d="M1029.4 400.8l.5-.1 .8-.2"/>
<path class="b19" d="M1030.7 400.5l.8-.2 1.5-.6"/>
<path class="b17" d="M1033 399.7l1.6-.6 .7-.1"/>
<path class="b16" d="M1035.3 399l.8-.1 2-1.4 .8-.5 .1 .2M1039.9 397.2l.6-.1 2.6-.9"/>
<path class="b15" d="M1039 397.2l.2 .1 .7-.1M1047.5 394.6l.3 0 1.9-1.2 1.6-.9 .3 .1"/>
<path class="b13" d="M1043.1 396.2l2.6-.8 .1-.2M1054 392.1l.4-.4 .4-.4M1056.6 390.8l.7-.6 .4-.1"/>
<path class="b14" d="M1045.8 395.2l.2-.1 0-.5M1046.6 394.3l.6 .2 .3 .1M1052 392.4l0-.1 1 0 .3-.3 .2 .2M1054.8 391.3l.3-.3 .3 .1"/>
<path class="b12" d="M1046 394.6l0-.5 .6 .2M1055.8 391.3l.2 0 .6-.5M1058.8 389.3l.7-.7 .1 .6"/>
<path class="b11" d="M1051.6 392.6l.3 0 .1-.2M1053.5 392.2l.1 .2 .4-.3M1063.3 387.3l0 .1 .1 .2M1064.6 387.7l1.1-.3 .8-.5"/>
<path class="b10" d="M1055.4 391.1l.3 .2 .1 0M1057.7 390.1l.4-.2 .7-.6M1059.6 389.2l.1 .6 3.4-1.9 .1-.7 .1 .1M1063.4 387.6l0 .3 1.2-.2M1072.8 384.2l1.5-1 1.3-.6 2.7-.6"/>
<path class="b9" d="M1066.5 386.9l.8-.5 3.9-1.3 1.6-.9"/>
<path class="b6" d="M1078.3 382l2.7-.7 1.9-.8M1087 378.7l.5 .1 .3-.6M1088.5 377.6l.3 0 1-.2"/>
<path class="b7" d="M1082.9 380.5l1.8-.9 .9-.5"/>
<path class="b5" d="M1085.6 379.1l1-.4 .4 0M1087.8 378.2l.4-.6 .3 0"/>
<path class="b4" d="M1089.8 377.4l1.1-.1 1-.3M1094.4 375.7l.2 .3 .3-.6"/>
<path class="b1" d="M1091.9 377l1.1-.3 1.3-1.2 .1 .2M1103 372l.5-.1 .2-.3M1106.9 370.1l.1-.6 .6-.3 .5 .1 2.7-1.3M1113.8 367.1l.3 .4 .6-.5M1120.5 363.8l.9-.3 3.1 0 .4-1.6 .1-.1 3.4-1.1 1.3-.4 .5-.3M1131 359.3l.5-.5 .8-.4 1.5 0 2.1-1.2 3.7-2.3 1.3 .5 .9-.5"/>
<path class="b2" d="M1094.9 375.4l.4-.6 1.4-.4M1098.1 373.9l.1-.2 1.4-1.1 2.9-.5 .5-.1M1104.1 371.2l.2 0 1.3-.3"/>
<path class="b3" d="M1096.7 374.4l1.4-.4 0-.1"/>
<path class="b0" d="M1103.7 371.6l.3-.3 .1-.1M1105.6 370.9l1.3-.3 0-.5M1110.8 368l2.7-1.3 .3 .4M1114.7 367l.5-.4 4.4-2.4 .9-.4M1130.2 360l.4-.3 .4-.4"/>
<path class="b1" stroke-width="0" d="M1140.9 355.4l1.7-1 4.6-2.4 1.5-.7 3.8-1.3 1.3-.7 1.5-.8 .7 .1M1157.1 347.8l.2 .3 3.9-1.9"/>
<path class="b0" stroke-width="0" d="M1156 348.6l1.1-.8"/>
<path class="b30" d="M981.5 415.1l.2 .2 3.8-1 1.2-.6M989 412.6l1-.4 2-.2 .5-.3M993.3 411.3l.4-.1 2.5-.6 3.1-1.1M1002.6 408l.2-.4 .6-.3 2.2-.7M1009.1 405.4l1.2-.5 3.9-2.2 1.4 .8 2.7-1.6 .8 0 2.6-1.4"/>
<path class="b31" d="M986.7 413.7l1.3-.7 1-.4M992.5 411.7l.5-.4 .3 0M999.3 409.5l3.1-1.2 .2-.3M1005.6 406.6l2.3-.7 1.2-.5"/>
<path class="b27" d="M1021.7 400.5l2.7-1.4 .6 .3"/>
<path class="b25" d="M1025 399.4l.6 .3 0-.4"/>
<path class="b28" d="M1025.6 399.3l.1-.4 .9-.3"/>
<path class="b24" d="M1026.6 398.6l.9-.2 1-.7M1030.1 397.1l.7 0 0-.1"/>
<path class="b22" d="M1028.5 397.7l1-.6 .6 0M1030.8 397l0 0 .4-.1"/>
<path class="b23" d="M1031.2 396.9l.5-.2 .8-.2"/>
<path class="b21" d="M1032.5 396.5l.8-.2 1.5-.6"/>
<path class="b19" d="M1034.8 395.7l1.6-.7 .7-.1"/>
<path class="b18" d="M1037.1 394.9l.8-.1 2-1.4 .8-.5 .1 .1M1041.7 393l.6-.1 2.6-.9"/>
<path class="b17" d="M1040.8 393l.2 .1 .7-.1M1049.3 390.2l.3 .1 1.9-1.3 1.6-.9 .3 0"/>
<path class="b14" d="M1044.9 392l2.6-.9 .1-.2M1047.8 390.3l0-.6 .6 .2M1057.6 386.8l.2 0 .6-.6M1060.6 384.7l.7-.7 .1 .6"/>
<path class="b16" d="M1047.6 390.9l.2-.1 0-.5M1048.4 389.9l.6 .2 .3 .1M1053.8 388l0-.2 1 .1 .3-.4 .2 .2M1056.6 386.8l.3-.3 .3 .1"/>
<path class="b13" d="M1053.4 388.1l.3 .1 .1-.2M1055.3 387.7l.1 .2 .4-.3M1065.1 382.6l0 .1 .1 .3M1066.4 383l1.1-.3 .8-.5"/>
<path class="b15" d="M1055.8 387.6l.4-.4 .4-.4M1058.4 386.2l.7-.6 .4-.1"/>
<path class="b12" d="M1057.2 386.6l.3 .2 .1 0M1059.5 385.5l.4-.1 .7-.7M1061.4 384.6l.1 .6 1.7-1M1065.2 383l0 .3 1.2-.3M1074.6 379.3l1.5-.9 .7-.4"/>
<path class="b11" d="M1063.2 384.2l1.7-1 .1-.6 .1 0M1068.3 382.2l.8-.5 3.9-1.4 1.6-1M1076.8 378l.6-.3 2.7-.7"/>
<path class="b8" d="M1080.1 377l2.7-.7 1.9-.8M1090.3 372.5l.3 0 1-.2"/>
<path class="b9" d="M1084.7 375.5l1.8-.9 .9-.5"/>
<path class="b7" d="M1087.4 374.1l1-.5 .9 .1 .7-1.2 .3 0"/>
<path class="b6" d="M1091.6 372.3l1.1-.1 1-.3"/>
<path class="b3" d="M1093.7 371.9l1.1-.3 1.3-1.3 .1 .2"/>
<path class="b5" d="M1096.2 370.5l.2 .3 .3-.6M1098.5 369.2l1.4-.5 0-.1"/>
<path class="b4" d="M1096.7 370.2l.4-.6 1.4-.4M1099.9 368.6l.1-.1 .7-.6"/>
<path class="b2" d="M1100.7 367.9l.7-.6 2.9-.5 .5-.1M1105.9 365.9l.2 0 1.3-.3"/>
<path class="b1" d="M1104.8 366.7l.5-.1 .2-.3M1108.7 364.7l.1-.5 .6-.4 .5 .1 2.7-1.3M1115.6 361.7l.3 .3 .6-.4M1122.3 358.3l.9-.3 3.1 0 .4-1.6 .1-.1 3.4-1.2 1.3-.4 .5-.3M1132.8 353.7l.5-.5 .8-.5 1.5 0 2.1-1.2 3.7-2.3 .7 .2"/>
<path class="b0" d="M1105.5 366.3l.3-.4 .1 0M1107.4 365.6l1.3-.3 0-.6M1112.6 362.6l2.7-1.3 .3 .4M1116.5 361.6l.5-.5 4.4-2.4 .9-.4M1132 354.4l.4-.3 .4-.4"/>
<path class="b1" stroke-width="0" d="M1141.4 349.2l1.3 .5 1.7-1 4.6-2.5 1.5-.6 3.8-1.4 1.3-.8 1.5-.8 .7 .1M1158.9 341.8l.2 .4 3.9-2"/>
<path class="b0" stroke-width="0" d="M1157.8 342.7l1.1-.9"/>
<path class="b30" d="M983.3 412.5l.1 .1M994.3 408.8l.5-.4 .7-.2 2.5-.6 6.2-2.5 .4-.7 .6-.3 4.5-1.5 2.4-1.1 2-1.2"/>
<path class="b29" d="M983.4 412.6l.1 .1 3.8-1.1 1.2-.7M990.8 409.8l1-.5 2-.2 .5-.3M1014.1 400.3l1.9-1.1 1.4 .7 2.7-1.6 .8 0 2.6-1.5"/>
<path class="b31" d="M988.5 410.9l1.3-.7 1-.4"/>
<path class="b26" d="M1023.5 396.8l2.7-1.4 .6 .2M1027.4 395.5l.1-.4 .9-.3"/>
<path class="b24" d="M1026.8 395.6l.6 .2 0-.3"/>
<path class="b23" d="M1028.4 394.8l.9-.3 1-.7"/>
<path class="b20" d="M1030.3 393.8l1-.6 .6 0"/>
<path class="b22" d="M1031.9 393.2l.7-.1 0 0M1033 392.9l.5-.1 .8-.2"/>
<path class="b21" d="M1032.6 393.1l0 0 .4-.2"/>
<path class="b19" d="M1034.3 392.6l.8-.3 1.5-.7"/>
<path class="b17" d="M1036.6 391.6l1.6-.7 .7-.1M1042.1 389l.4-.3 .1 .1"/>
<path class="b16" d="M1038.9 390.8l.8-.1 2-1.5 .4-.2M1042.6 388.8l.2 .2 1.3-.3 2.6-1"/>
<path class="b13" d="M1046.7 387.7l2.6-.9 .1-.2M1057.6 383.1l.4-.4 .4-.4M1059.4 382.3l.2 0 1.3-1.2 .4-.2"/>
<path class="b15" d="M1049.4 386.6l.2-.1 0-.6M1051.1 385.9l.3 0 1.9-1.3 1.6-.9 .3 0M1058.4 382.3l.3-.4 .3 .2"/>
<path class="b12" d="M1049.6 385.9l0-.5 .6 .2M1062.4 380.1l.7-.7 .1 .6M1068.2 378.3l1.1-.3 .8-.5"/>
<path class="b14" d="M1050.2 385.6l.6 .2 .3 .1M1055.6 383.5l0-.1 1 0 .3-.4 .2 .2"/>
<path class="b11" d="M1055.2 383.7l.3 0 .1-.2M1057.1 383.2l.1 .2 .4-.3M1061.3 380.9l.4-.1 .7-.7M1066.9 378l0 0 .1 .3"/>
<path class="b10" d="M1059 382.1l.3 .1 .1 .1M1063.2 380l.1 .6 3.4-2 .1-.7 .1 .1M1067 378.3l0 .3 1.2-.3M1076.4 374.5l1.5-1 1.3-.7 2.7-.7"/>
<path class="b9" d="M1070.1 377.5l.8-.5 3.9-1.5 1.6-1"/>
<path class="b6" d="M1081.9 372.1l2.7-.7 1.9-.9M1090.6 368.6l.5 0 .3-.6M1092.1 367.4l.3 0 1-.2"/>
<path class="b7" d="M1086.5 370.5l1.8-.9 .9-.5"/>
<path class="b5" d="M1089.2 369.1l1-.6 .4 .1M1091.4 368l.4-.6 .3 0"/>
<path class="b4" d="M1093.4 367.2l1.1-.2 1-.3M1098 365.4l.2 .2 .3-.6"/>
<path class="b1" d="M1095.5 366.7l1.1-.3 1.3-1.3 .1 .3M1106.6 361.4l.5-.1 .2-.3M1110.5 359.4l.1-.5 .6-.4 .5 .1 2.7-1.4M1117.4 356.2l.3 .4 .6-.4M1124.1 352.8l.9-.4 3.1 0 .4-1.6 .1-.1 3.4-1.2 1.3-.4 .5-.3M1134.6 348l.5-.4 .8-.5 1.5 0 2.1-1.2 3.7-2.4 1.3 .5 1.7-1 4.6-2.5 1.5-.7 1.9-.7"/>
<path class="b2" d="M1098.5 365l.4-.6 1.4-.4M1101.7 363.4l.1-.1 1.4-1.2 2.9-.6 .5-.1M1107.7 360.6l.2-.1 1.3-.3"/>
<path class="b3" d="M1100.3 364l1.4-.5 0-.1"/>
<path class="b0" d="M1107.3 361l.3-.4 .1 0M1109.2 360.2l1.3-.3 0-.5M1114.4 357.2l2.7-1.3 .3 .3M1118.3 356.2l.5-.5 4.4-2.5 .9-.4M1133.8 348.8l.4-.3 .4-.5"/>
<path class="b1" stroke-width="0" d="M1152.3 339.8l3.8-1.5 1.3-.8 1.5-.8 .7 .1M1160.7 335.9l.2 .4 3.9-2.1"/>
<path class="b0" stroke-width="0" d="M1159.6 336.8l1.1-.9"/>
<path class="b30" d="M984.9 410l.2 .2 3.8-1.3 1.2-.7M992.4 407.1l1-.5 2-.3 .5-.4M996.7 405.5l.4-.1 2.5-.8 3.1-1.3M1006 401.6l.1-.3 .6-.4 2.3-.8M1012.5 398.7l1.2-.6 3.9-2.3 1.3 .7 2.7-1.7 .8 0 2.6-1.6"/>
<path class="b31" d="M990.1 408.2l1.3-.6 1-.5M995.9 405.9l.5-.4 .3 0M1002.7 403.3l3.1-1.3 .2-.4M1009 400.1l2.3-.8 1.2-.6"/>
<path class="b27" d="M1025 393.2l2.7-1.5 .6 .2"/>
<path class="b26" d="M1028.3 391.9l.6 .3 .1-.4"/>
<path class="b28" d="M1029 391.8l0-.4 .9-.3"/>
<path class="b25" d="M1029.9 391.1l.9-.3 1-.7"/>
<path class="b23" d="M1031.8 390.1l1-.7 .7 0M1034.1 389.3l0 0 .5-.2"/>
<path class="b24" d="M1033.5 389.4l.6-.1 0 0M1034.6 389.1l.4-.2 .8-.2"/>
<path class="b21" d="M1035.8 388.7l.8-.2 1.6-.8"/>
<path class="b19" d="M1038.2 387.7l1.5-.7 .7-.2"/>
<path class="b18" d="M1040.4 386.8l.8-.1 2-1.5 .8-.5 .3 .2 1.3-.3 2.6-1"/>
<path class="b15" d="M1048.2 383.6l2.6-1 .1-.2M1059.1 378.7l.4-.3 .4-.4M1061.7 377.3l.7-.6 .4-.2"/>
<path class="b17" d="M1050.9 382.4l.2-.1 0-.5M1052.6 381.6l.3 .1 1.9-1.4 1.6-.9 .3 0"/>
<path class="b14" d="M1051.1 381.8l0-.6 .6 .2M1060.9 377.9l.1 0 .7-.6M1063.9 375.7l.7-.7 .1 .6"/>
<path class="b16" d="M1051.7 381.4l.6 .2 .3 0M1057.1 379.2l0-.1 1 0 .3-.4 .1 .2M1059.9 378l.3-.4 .3 .1"/>
<path class="b13" d="M1056.7 379.4l.3 0 .1-.2M1058.5 378.9l.2 .2 .4-.4M1068.3 373.5l.1 0 0 .3M1069.6 373.7l1.2-.3 .8-.5"/>
<path class="b12" d="M1060.5 377.7l.3 .2 .1 0M1062.8 376.5l.4-.1 .7-.7M1064.7 375.6l.1 .6 1.7-1.1M1068.4 373.8l.1 .3 1.1-.4M1077.8 369.8l1.6-1 .6-.4"/>
<path class="b11" d="M1066.5 375.1l1.7-1 .1-.7 0 .1M1071.6 372.9l.8-.5 3.8-1.5 1.6-1.1M1080 368.4l.7-.3 2.7-.8"/>
<path class="b8" d="M1083.4 367.3l2.7-.8 1.8-.9M1092 363.7l.5 0 .4-.6M1093.5 362.5l.3 0 1.1-.2"/>
<path class="b9" d="M1087.9 365.6l1.8-.9 1-.5"/>
<path class="b7" d="M1090.7 364.2l.9-.6 .4 .1M1092.9 363.1l.3-.6 .3 0"/>
<path class="b6" d="M1094.9 362.3l1-.2 1.1-.4"/>
<path class="b3" d="M1097 361.7l1-.3 1.3-1.3 .1 .2"/>
<path class="b5" d="M1099.4 360.3l.2 .3 .3-.6M1101.7 358.9l1.4-.4 0-.2"/>
<path class="b4" d="M1099.9 360l.4-.6 1.4-.5M1103.1 358.3l.1-.1 .7-.6"/>
<path class="b2" d="M1103.9 357.6l.7-.6 2.9-.6 .5-.1M1109.1 355.5l.2-.1 1.3-.3"/>
<path class="b1" d="M1108 356.3l.5-.1 .2-.4M1111.9 354.2l0-.5 .6-.4 .6 .1 2.7-1.4M1118.8 351l.3 .4 .5-.5M1125.5 347.5l.9-.4 3-.1 .5-1.5 0-.1 3.5-1.3 1.2-.4 .5-.3M1136 342.6l.4-.4 .9-.5 1.5 0 2-1.3 3.7-2.4 1.4 .5 1.7-1 4.5-2.6 1.6-.7 1.8-.7"/>
<path class="b0" d="M1108.7 355.8l.3-.3 .1 0M1110.6 355.1l1.3-.3 0-.6M1115.8 352l2.7-1.4 .3 .4M1119.6 350.9l.6-.5 4.3-2.5 1-.4M1135.1 343.4l.5-.4 .4-.4"/>
<path class="b1" stroke-width="0" d="M1153.7 334.2l3.7-1.5 1.3-.8 1.5-.9 .7 .1M1162 330.2l.2 .3 3.9-2.1"/>
<path class="b0" stroke-width="0" d="M1160.9 331.1l1.1-.9"/>
<path class="b30" d="M986.3 407.6l.1 .1M997.3 403.2l.5-.4 .6-.2 2.6-.8 6.1-2.8 .4-.7 .6-.4 4.5-1.7 2.4-1.2 1.9-1.3"/>
<path class="b29" d="M986.4 407.7l.1 .1 3.8-1.4 1.2-.7M993.8 404.4l.9-.5 2.1-.3 .5-.4M1016.9 393.7l2-1.2 1.3 .6 2.7-1.7 .8-.1 2.6-1.5"/>
<path class="b31" d="M991.5 405.7l1.3-.7 1-.6"/>
<path class="b27" d="M1026.3 389.8l2.7-1.6 .6 .2"/>
<path class="b24" d="M1029.6 388.4l.6 .2 0-.4M1031.2 387.5l.9-.3 1-.8"/>
<path class="b26" d="M1030.2 388.2l.1-.4 .9-.3"/>
<path class="b21" d="M1033.1 386.4l.9-.7 .7 0"/>
<path class="b23" d="M1034.7 385.7l.7-.1 0 0M1035.8 385.4l.4-.2 .8-.2"/>
<path class="b22" d="M1035.4 385.6l0 0 .4-.2"/>
<path class="b20" d="M1037 385l.9-.3 1.5-.8"/>
<path class="b18" d="M1039.4 383.9l1.5-.7 .7-.2"/>
<path class="b17" d="M1041.6 383l.8-.2 2.1-1.5 .7-.5 .1 .1"/>
<path class="b16" d="M1045.3 380.9l.2 .1 1.3-.3 2.6-1.1M1056.7 375.7l.8-.5 .3 0"/>
<path class="b13" d="M1049.4 379.6l2.5-1.1 .2-.1M1052.2 377.7l0-.5 .6 .1M1060.3 374.5l.3-.3 .4-.4M1062 373.6l.2 0 1.3-1.2 .4-.1"/>
<path class="b15" d="M1052.1 378.4l.1-.2 0-.5M1053.8 377.6l.3 0 1.9-1.4 .7-.5M1061 373.8l.4-.4 .2 .1"/>
<path class="b14" d="M1052.8 377.3l.6 .2 .4 .1M1058.2 375.1l.1-.2 1 0 .2-.4 .2 .2"/>
<path class="b11" d="M1057.8 375.2l.4 .1 0-.2M1063.9 372.3l.4-.2 .7-.7M1069.4 369.1l.1 0 .1 .6 1.2-.3"/>
<path class="b12" d="M1059.7 374.7l.2 .2 .4-.4M1065 371.4l.7-.7 .1 .6M1070.8 369.4l1.1-.4 .8-.5"/>
<path class="b10" d="M1061.6 373.5l.3 .1 .1 0M1065.8 371.3l.1 .6 3.4-2.2 .1-.7 0 .1M1078.9 365.3l1.6-1.1 1.2-.7 2.7-.8"/>
<path class="b9" d="M1072.7 368.5l.8-.6 3.8-1.6 1.6-1"/>
<path class="b6" d="M1084.4 362.7l2.7-.8 1.8-1M1093.1 358.9l.5 .1 .3-.6M1094.5 357.7l.3 0 1.1-.2"/>
<path class="b7" d="M1088.9 360.9l1.9-.9 .9-.6"/>
<path class="b5" d="M1091.7 359.4l.9-.5 .5 0M1093.9 358.4l.3-.7 .3 0"/>
<path class="b4" d="M1095.9 357.5l1-.2 1.1-.4M1100.5 355.5l.1 .3 .3-.7"/>
<path class="b1" d="M1098 356.9l1-.3 1.3-1.4 .2 .3M1109 351.3l.5-.1 .2-.3M1112.9 349.2l0-.5 .6-.4 .5 .1 2.8-1.4M1119.8 345.9l.2 .4 .6-.5M1126.4 342.4l.9-.4 3.1-.1 .4-1.6 .1-.1 3.4-1.3 1.3-.5 .4-.3M1136.9 337.4l.4-.4 .9-.5 1.5-.1 2-1.3 3.7-2.4 .7 .2"/>
<path class="b2" d="M1100.9 355.1l.4-.6 1.4-.5M1104.1 353.4l.1-.1 1.4-1.2 2.9-.7 .5-.1M1110.1 350.5l.2-.1 1.3-.3"/>
<path class="b3" d="M1102.7 354l1.4-.4 0-.2"/>
<path class="b0" d="M1109.7 350.9l.3-.4 .1 0M1111.6 350.1l1.3-.3 0-.6M1116.8 347l2.7-1.5 .3 .4M1120.6 345.8l.5-.5 4.4-2.5 .9-.4M1136 338.1l.5-.3 .4-.4"/>
<path class="b1" stroke-width="0" d="M1145.4 332.7l1.3 .5 1.7-1 4.6-2.6 1.5-.7 3.7-1.7 1.3-.8 1.5-.9 .7 .1M1162.8 324.7l.2 .3 3.9-2.2"/>
<path class="b0" stroke-width="0" d="M1161.7 325.6l1.1-.9"/>
<path class="b30" d="M987.7 405.2l.2 .2 3.7-1.5 1.3-.8M995.1 401.8l1-.5 2-.4 .5-.4M999.5 400l.3-.1 2.5-.9 3.1-1.5M1008.6 395.6l.2-.3 .6-.4 2.2-.9M1015.1 392.4l1.2-.6 3.8-2.6 1.4 .6 2.7-1.8 .7-.1 2.7-1.6"/>
<path class="b31" d="M992.9 403.1l1.2-.7 1-.6M998.6 400.5l.5-.4 .4-.1M1005.4 397.5l3.1-1.5 .1-.4M1011.6 394l2.3-.9 1.2-.7"/>
<path class="b28" d="M1027.6 386.3l2.6-1.7 .6 .2M1031.5 384.6l0-.4 .9-.3"/>
<path class="b27" d="M1030.8 384.8l.6 .2 .1-.4"/>
<path class="b26" d="M1032.4 383.9l.9-.4 1-.7M1035.9 382l.7-.1 0 0"/>
<path class="b24" d="M1034.3 382.8l1-.7 .6-.1M1036.6 381.9l0 0 .4-.2"/>
<path class="b25" d="M1037 381.7l.4-.2 .9-.2"/>
<path class="b22" d="M1038.3 381.3l.8-.3 1.5-.8"/>
<path class="b20" d="M1040.6 380.2l1.5-.8 .8-.2"/>
<path class="b19" d="M1042.9 379.2l.7-.2 2.1-1.6 .7-.5 .1 .1"/>
<path class="b18" d="M1046.5 377l.2 .1 1.3-.4 2.6-1.1M1057.9 371.6l.8-.5 .3 0"/>
<path class="b15" d="M1050.6 375.6l2.5-1.1 .2-.2M1053.4 373.7l0-.6 .6 .2M1061.4 370.3l.4-.3 .4-.4M1063.2 369.4l.1 0 1.4-1.3 .3-.1"/>
<path class="b17" d="M1053.3 374.3l.1-.1 0-.5M1054.9 373.5l.4 0 1.8-1.4 .8-.5M1062.2 369.6l.3-.5 .3 .2"/>
<path class="b16" d="M1054 373.3l.6 .1 .3 .1M1059.4 370.9l0-.2 1 0 .3-.4 .2 .2"/>
<path class="b13" d="M1059 371.1l.3 0 .1-.2M1065 368l.4-.2 .8-.7M1070.6 364.7l0 .1 .1 .2M1071.9 365l1.1-.4 .8-.6"/>
<path class="b14" d="M1060.9 370.5l.1 .2 .4-.4M1066.2 367.1l.7-.7 .1 .6"/>
<path class="b12" d="M1062.8 369.3l.3 .1 .1 0M1067 367l.1 .6 3.3-2.3 .1-.6 .1 0M1070.7 365l.1 .3 1.1-.3M1080 360.7l1.6-1 1.2-.8 2.7-.8"/>
<path class="b11" d="M1073.8 364l.8-.5 3.8-1.7 1.6-1.1"/>
<path class="b8" d="M1085.5 358.1l2.7-.9 1.8-1M1094.1 354.2l.5 0 .3-.6M1095.6 352.9l.3 0 1-.2"/>
<path class="b9" d="M1090 356.2l1.8-.9 1-.6"/>
<path class="b7" d="M1092.8 354.7l.9-.6 .4 .1M1094.9 353.6l.4-.6 .3-.1"/>
<path class="b6" d="M1096.9 352.7l1.1-.3 1-.3"/>
<path class="b3" d="M1099 352.1l1.1-.4 1.2-1.3 .2 .2"/>
<path class="b5" d="M1101.5 350.6l.1 .3 .4-.6M1103.7 349.2l1.4-.5 .1-.2"/>
<path class="b4" d="M1102 350.3l.3-.6 1.4-.5M1105.2 348.5l0-.1 .7-.6"/>
<path class="b2" d="M1105.9 347.8l.7-.6 2.9-.7 .4-.1M1111.1 345.5l.1 0 1.3-.4"/>
<path class="b1" d="M1109.9 346.4l.5-.2 .3-.3M1113.9 344.2l0-.5 .6-.4 .5 .1 2.7-1.5M1120.7 340.8l.3 .4 .5-.5M1127.3 337.2l.9-.4 3.1-.1 .4-1.6 .1-.1 3.4-1.3 1.3-.5 .4-.3M1137.8 332.2l.4-.5 .8-.5 1.6 0 2-1.3 3.7-2.5 1.3 .5 1.7-1 2.2-1.4"/>
<path class="b0" d="M1110.7 345.9l.3-.3 .1-.1M1112.5 345.1l1.3-.4 .1-.5M1117.7 341.9l2.7-1.4 .3 .3M1121.5 340.7l.6-.5 4.3-2.6 .9-.4M1136.9 332.9l.5-.3 .4-.4"/>
<path class="b1" stroke-width="0" d="M1149.3 326.9l4.5-2.7 1.5-.7 3.8-1.7 1.2-.9 1.5-.9 .7 .1M1163.7 319.1l.1 .4 3.9-2.3"/>
<path class="b0" stroke-width="0" d="M1162.5 320.1l1.2-1"/>
<path class="b30" d="M989 402.9l.1 .1M999.9 397.9l.5-.4 .7-.2 2.5-.9 6.1-3.1 .3-.8 .6-.3 4.5-2 2.4-1.3 1.9-1.4M1025.7 384.9l.4 0 2.6-1.7"/>
<path class="b29" d="M989.1 403l.2 0 3.7-1.5 1.2-.8M996.4 399.3l1-.5 2-.4 .5-.5M1019.4 387.5l1.9-1.3 1.4 .6 2.6-1.8 .4-.1"/>
<path class="b31" d="M994.2 400.7l1.2-.8 1-.6"/>
<path class="b27" d="M1028.7 383.2l2.7-1.7 .6 .2"/>
<path class="b26" d="M1032 381.7l.6 .1 0-.3"/>
<path class="b28" d="M1032.6 381.5l0-.4 1-.4"/>
<path class="b25" d="M1033.6 380.7l.9-.4 .9-.7"/>
<path class="b23" d="M1035.4 379.6l1-.8 .7-.1M1037.7 378.6l0 0 .4-.2"/>
<path class="b24" d="M1037.1 378.7l.6 0 0-.1M1038.1 378.4l.4-.2 .9-.3"/>
<path class="b21" d="M1039.4 377.9l.8-.2 1.5-.9"/>
<path class="b18" d="M1041.7 376.8l1.5-.8 .7-.2"/>
<path class="b17" d="M1043.9 375.8l.8-.2 2-1.6 .7-.6 .3 .3 1.4-.5 2.5-1.1"/>
<path class="b14" d="M1051.6 372.1l2.5-1.2 .2-.1M1061.5 366.8l.2-.2 .1 .2M1065 365l.6-.6 .4-.2"/>
<path class="b15" d="M1054.3 370.8l.1-.2 0-.5M1055 369.7l.6 .1 .3 .1M1060.4 367.2l0-.2 1 0 .1-.2M1063.1 365.8l.4-.4 .3 .1"/>
<path class="b13" d="M1054.4 370.1l0-.5 .6 .1M1062.4 366.6l.4-.4 .3-.4M1064.2 365.6l.1 0 .7-.6"/>
<path class="b16" d="M1055.9 369.9l.4 0 1.9-1.5 1.5-1 .3 0"/>
<path class="b12" d="M1060 367.4l.3 0 .1-.2M1061.8 366.8l.2 .2 .4-.4M1067.1 363.3l.7-.8 .1 .6M1072.8 361l1.1-.3 .8-.6"/>
<path class="b11" d="M1063.8 365.5l.2 .1 .2 0M1066 364.2l.4-.2 .7-.7M1071.5 360.8l.1 .1 .1 .5 1.1-.4"/>
<path class="b10" d="M1067.9 363.1l.1 .6 3.4-2.3 .1-.6 0 0M1077.4 358.7l1.9-.9 3.2-2.2 1.2-.8 2.7-.9"/>
<path class="b9" d="M1074.7 360.1l.8-.6 1.9-.8"/>
<path class="b6" d="M1086.4 353.9l2.7-.9 1.8-1M1095 349.9l.4 0 .4-.6M1096.4 348.6l.3 0 1.1-.3"/>
<path class="b7" d="M1090.9 352l1.8-1 .9-.6"/>
<path class="b5" d="M1093.6 350.4l.9-.5 .5 0M1095.8 349.3l.3-.6 .3-.1"/>
<path class="b4" d="M1097.8 348.3l1-.2 1-.4M1102.3 346.2l.1 .3 .4-.7"/>
<path class="b1" d="M1099.8 347.7l1.1-.4 1.2-1.3 .2 .2M1110.7 341.8l.5-.1 .3-.4M1114.6 339.6l.1-.6 .5-.4 .6 .1 2.7-1.5M1121.4 336.1l.3 .3 .6-.4M1128 332.4l.9-.5 3-.1 .5-1.6 0-.1 3.5-1.4 1.2-.5 .5-.3M1138.4 327.1l.4-.4 .9-.5 1.5-.1 2-1.3 3.7-2.5 1.3 .4 1.7-1 4.5-2.7 .7-.4"/>
<path class="b2" d="M1102.8 345.8l.3-.6 1.4-.5M1105.9 344l.1-.1 1.3-1.2 2.9-.8 .5-.1M1111.9 340.9l.1 0 1.3-.4"/>
<path class="b3" d="M1104.5 344.7l1.4-.5 0-.2"/>
<path class="b0" d="M1111.5 341.3l.2-.3 .2-.1M1113.3 340.5l1.3-.4 0-.5M1118.5 337.2l2.6-1.5 .3 .4M1122.3 336l.5-.5 4.3-2.7 .9-.4M1137.6 327.9l.4-.3 .4-.5"/>
<path class="b1" stroke-width="0" d="M1154.4 319l1.5-.8 3.7-1.8 1.3-.8 1.5-.9 .7 0M1164.2 313.7l.2 .3 3.8-2.3"/>
<path class="b0" stroke-width="0" d="M1163.1 314.7l1.1-1"/>
<path class="b30" d="M990.4 400.5l.2 .2 3.7-1.6 1.2-.8M997.7 396.9l1-.6 2-.5 .5-.4M1002 394.9l.3-.2 2.5-1 3.1-1.6M1011.1 390.2l.2-.4 .5-.4 2.3-1M1017.5 386.7l1.2-.7 3.8-2.7 1.4 .5 2.6-1.9 .8-.1 2.6-1.7"/>
<path class="b31" d="M995.5 398.3l1.2-.8 1-.6M1001.2 395.4l.5-.4 .3-.1M1007.9 392.1l3-1.6 .2-.3M1014.1 388.4l2.2-1 1.2-.7"/>
<path class="b28" d="M1029.9 380.1l2.6-1.8 .6 .2"/>
<path class="b27" d="M1033.1 378.5l.6 .2 0-.4M1034.7 377.5l.9-.4 .9-.8M1038.2 375.5l.6-.1 0 0"/>
<path class="b29" d="M1033.7 378.3l.1-.4 .9-.4"/>
<path class="b25" d="M1036.5 376.3l1-.7 .7-.1"/>
<path class="b26" d="M1038.8 375.4l0 0 .8-.5 .9-.3"/>
<path class="b24" d="M1040.5 374.6l.8-.3 1.5-.8"/>
<path class="b20" d="M1042.8 373.5l1.5-.9 1.5-.4 2-1.7 .7-.5 .1 .1"/>
<path class="b19" d="M1048.6 370.1l.2 .1 1.3-.5 2.6-1.2"/>
<path class="b16" d="M1052.7 368.5l2.5-1.2 .1-.1M1061.4 363.5l0-.2 .5 0M1062.5 363.1l.2-.2 .1 .2"/>
<path class="b17" d="M1055.3 367.2l.2-.2 0-.5M1056.1 366.1l.6 .1 .3 .1M1061.9 363.3l.5 0 .1-.2M1064.1 362.1l.4-.5 .3 .2"/>
<path class="b15" d="M1055.5 366.5l0-.5 .6 .1M1063.4 362.9l.4-.4 .3-.4M1065.2 361.9l.1 0 1.3-1.3 .4-.2"/>
<path class="b18" d="M1057 366.3l.3 0 1.9-1.5 1.5-1.1 .3 0"/>
<path class="b14" d="M1061 363.7l.3 0 .1-.2M1062.8 363.1l.2 .2 .4-.4M1068.1 359.5l.7-.8 .1 .6M1073.8 357.1l1.1-.4 .8-.6"/>
<path class="b13" d="M1064.8 361.8l.2 .1 .2 0M1067 360.4l.4-.2 .7-.7M1072.5 356.9l0 .1 .2 .5 1.1-.4"/>
<path class="b12" d="M1068.9 359.3l.1 .6 3.3-2.4 .1-.6 .1 0M1081.8 352.6l1.6-1.1 1.2-.8 2.7-.9"/>
<path class="b11" d="M1075.7 356.1l.7-.5 3.8-1.8 1.6-1.2"/>
<path class="b8" d="M1087.3 349.8l2.6-1 1.8-1M1095.8 345.6l.5 0 .3-.6M1097.2 344.3l.3-.1 1.1-.2"/>
<path class="b9" d="M1091.7 347.8l1.8-1.1 .9-.6"/>
<path class="b7" d="M1094.4 346.1l1-.5 .4 0M1096.6 345l.4-.7 .2 0"/>
<path class="b6" d="M1098.6 344l1-.3 1.1-.4"/>
<path class="b3" d="M1100.7 343.3l1-.4 1.2-1.3 .2 .2"/>
<path class="b5" d="M1103.1 341.8l.2 .2 .3-.6M1105.3 340.2l1.4-.5 0-.1"/>
<path class="b4" d="M1103.6 341.4l.3-.6 1.4-.6M1106.7 339.6l.1-.2 .7-.6"/>
<path class="b2" d="M1107.5 338.8l.6-.7 2.9-.7 .5-.2M1112.6 336.3l.2 0 1.3-.4"/>
<path class="b1" d="M1111.5 337.2l.5-.1 .2-.3M1115.4 335l0-.6 .6-.4 .5 .1 2.7-1.6M1122.1 331.3l.3 .4 .6-.5M1128.7 327.5l.9-.4 3-.2 .4-1.6 .1-.1 3.4-1.4 1.2-.6 .5-.3M1139.1 322.1l.4-.4 .8-.6 1.5 0 2-1.4 3.7-2.6 1.3 .4 1.6-1 4.5-2.8 1.6-.8 1.8-.9"/>
<path class="b0" d="M1112.2 336.8l.3-.4 .1-.1M1114.1 335.9l1.2-.4 .1-.5M1119.2 332.5l2.7-1.5 .2 .3M1123 331.2l.5-.5 4.3-2.7 .9-.5M1138.2 322.9l.5-.3 .4-.5"/>
<path class="b1" stroke-width="0" d="M1156.5 312.9l3.6-1.8 1.3-.9 1.5-.9 .7 0M1164.7 308.3l.2 .3 3.8-2.4"/>
<path class="b0" stroke-width="0" d="M1163.6 309.3l1.1-1"/>
<path class="b30" d="M991.7 398.2l.1 .1M1002.5 392.9l.5-.5 .7-.2 2.5-1 6.1-3.3 .3-.8 .6-.4 4.5-2.1 2.3-1.4 2-1.4M1028.3 378.9l.3 0 2.6-1.8"/>
<path class="b29" d="M991.8 398.3l.1 .1 3.7-1.7 1.2-.9M999.1 394.4l.9-.6 2.1-.5 .4-.4M1022 381.8l1.9-1.4 1.3 .5 2.7-1.9 .4-.1"/>
<path class="b31" d="M996.8 395.8l1.3-.8 1-.6"/>
<path class="b28" d="M1031.2 377.1l2.7-1.8 .6 .1M1035.1 375.2l0-.4 1-.4"/>
<path class="b27" d="M1034.5 375.4l.6 .2 0-.4M1036.1 374.4l.9-.4 .9-.8"/>
<path class="b24" d="M1037.9 373.2l1-.7 .6-.1M1040.2 372.2l0 0 .4-.2"/>
<path class="b26" d="M1039.5 372.4l.7-.2 0 0"/>
<path class="b25" d="M1040.6 372l.4-.2 .8-.3"/>
<path class="b22" d="M1041.8 371.5l.9-.3 1.5-.9"/>
<path class="b19" d="M1044.2 370.3l1.5-.9 .7-.2"/>
<path class="b18" d="M1046.4 369.2l.7-.3 2.1-1.6 .7-.6 .1 .1"/>
<path class="b17" d="M1050 366.8l.2 .1 1.3-.5 2.6-1.2"/>
<path class="b14" d="M1054.1 365.2l2.5-1.3 .1-.1M1056.9 363.1l0-.5 .6 .1M1064.8 359.4l.4-.4 .3-.5M1067.4 357.7l.6-.7 .4-.2"/>
<path class="b16" d="M1056.7 363.8l.2-.2 0-.5M1058.4 362.8l.3 .1 1.9-1.6 1.5-1.1 .3 0"/>
<path class="b15" d="M1057.5 362.7l.5 .1 .4 0M1062.8 360l0-.2 1 0 .3-.4 .1 .2M1065.5 358.5l.4-.4 .3 .1"/>
<path class="b12" d="M1062.4 360.2l.3 0 .1-.2M1064.2 359.6l.2 .1 .4-.3M1075.2 353.4l1.1-.4 .8-.6"/>
<path class="b11" d="M1066.2 358.2l.2 .1 .2 0M1068.4 356.8l.4-.2 .7-.7M1073.9 353.3l0 0 .2 .6 1.1-.5M1083.2 348.8l1.6-1.1 .6-.4"/>
<path class="b13" d="M1066.6 358.3l.1 0 .7-.6M1069.5 355.9l.7-.8 .1 .6"/>
<path class="b10" d="M1070.3 355.7l.1 .6 3.4-2.4 0-.7 .1 .1M1079.8 350.9l1.8-.9 1.6-1.2M1085.4 347.3l.6-.4 2.7-1"/>
<path class="b9" d="M1077.1 352.4l.8-.6 1.9-.9"/>
<path class="b7" d="M1088.7 345.9l2.6-1 3.7-2.1 .9-.6"/>
<path class="b5" d="M1095.9 342.2l.9-.6 .5 0M1098.1 341l.3-.7 .3 0"/>
<path class="b6" d="M1097.3 341.6l.4 0 .4-.6M1098.7 340.3l.3-.1 1-.3"/>
<path class="b4" d="M1100 339.9l1.1-.2 1-.4M1104.5 337.7l.2 .2 .3-.6"/>
<path class="b1" d="M1102.1 339.3l1-.4 1.3-1.4 .1 .2M1112.9 333l.5-.1 .3-.4M1116.8 330.7l.1-.6 .5-.4 .6 .1 2.6-1.6M1123.6 327l.3 .3 .5-.5M1130.2 323.1l.9-.5 3-.2 .4-1.7 .1-.1 3.4-1.4 1.2-.5 .5-.4M1140.5 317.5l.4-.4 .9-.6 1.5-.1 2-1.4 3.6-2.6 .7 .2"/>
<path class="b2" d="M1105 337.3l.3-.6 1.4-.6M1108.2 335.4l0-.1 1.4-1.3 2.8-.9 .5-.1M1114.1 332.1l.1-.1 1.3-.4"/>
<path class="b3" d="M1106.7 336.1l1.4-.6 .1-.1"/>
<path class="b0" d="M1113.7 332.5l.2-.3 .2-.1M1115.5 331.6l1.3-.4 0-.5M1120.6 328.2l2.7-1.6 .3 .4M1124.4 326.8l.6-.5 4.3-2.8 .9-.4M1139.7 318.3l.4-.3 .4-.5"/>
<path class="b1" stroke-width="0" d="M1148.9 312.4l1.4 .4 1.6-1 4.5-2.9 1.5-.8 3.7-1.9 1.3-.9 1.5-1 .7 .1M1166.2 303.3l.2 .4 3.8-2.5"/>
<path class="b0" stroke-width="0" d="M1165.1 304.4l1.1-1.1"/>
<path class="b30" d="M993.7 393.7l.2 .2 3.6-1.8 1.2-.9M1000.9 389.7l.9-.6 2-.5 .4-.5M1005 387.5l.4-.1 2.4-1.1 3-1.7M1013.9 382.5l.1-.4 .6-.4 2.2-1.1M1020.1 378.7l1.2-.7 3.7-2.9 1.3 .5 2.6-2 .7-.1 2.5-1.9"/>
<path class="b31" d="M998.7 391.2l1.2-.8 1-.7M1004.2 388.1l.5-.4 .3-.2M1010.8 384.6l2.9-1.8 .2-.3M1016.8 380.6l2.2-1.1 1.1-.8"/>
<path class="b29" d="M1032.1 371.6l2.6-1.9 .6 .2M1035.9 369.7l0-.4 .9-.5"/>
<path class="b28" d="M1035.3 369.9l.5 .2 .1-.4M1040.2 366.7l.6-.1 0 0"/>
<path class="b27" d="M1036.8 368.8l.9-.4 .9-.8M1040.8 366.6l.1-.1 .7-.4 .8-.3"/>
<path class="b26" d="M1038.6 367.6l1-.8 .6-.1"/>
<path class="b25" d="M1042.4 365.8l.8-.4 1.5-.9"/>
<path class="b21" d="M1044.7 364.5l1.5-.9 .7-.3"/>
<path class="b20" d="M1046.9 363.3l.7-.2 2-1.7 .6-.6 .2 .1"/>
<path class="b19" d="M1050.4 360.9l.2 .1 1.3-.5 2.4-1.3"/>
<path class="b16" d="M1054.3 359.2l2.5-1.3 .1-.2M1057 357l0-.5 .6 .1M1064.8 353.1l.3-.4 .4-.4M1067.2 351.4l.7-.7 .4-.2"/>
<path class="b18" d="M1056.9 357.7l.1-.2 0-.5M1058.5 356.7l.3 .1 1.8-1.6 1.5-1.1 .3-.1"/>
<path class="b17" d="M1057.6 356.6l.6 .1 .3 0M1062.8 353.8l0-.2 1-.1 .2-.3 .2 .1M1065.5 352.3l.3-.5 .3 .1"/>
<path class="b14" d="M1062.4 354l.3 0 .1-.2M1064.2 353.3l.2 .2 .4-.4M1069.3 349.5l.7-.8 .1 .6M1074.8 347l1.1-.5 .8-.6"/>
<path class="b13" d="M1066.1 351.9l.2 .2 .2-.1M1068.3 350.5l.3-.2 .7-.8M1073.6 346.8l0 .1 .2 .5 1-.4"/>
<path class="b15" d="M1066.5 352l.1 0 .6-.6"/>
<path class="b12" d="M1070.1 349.3l.1 .6 3.3-2.5 0-.6 .1 0M1082.7 342.2l1.5-1.2 1.2-.8 2.6-1.1"/>
<path class="b11" d="M1076.7 345.9l.7-.6 3.7-1.9 1.6-1.2"/>
<path class="b8" d="M1088 339.1l2.6-1 1.7-1.1M1096.3 334.6l.4 0 .4-.6M1097.7 333.3l.3-.1 1-.3"/>
<path class="b9" d="M1092.3 337l1.8-1.1 .9-.7"/>
<path class="b7" d="M1095 335.2l.8-.6 .5 0M1097.1 334l.3-.7 .3 0"/>
<path class="b6" d="M1099 332.9l1-.3 1-.4"/>
<path class="b3" d="M1101 332.2l1-.4 1.2-1.5 .2 .3"/>
<path class="b5" d="M1103.4 330.6l.1 .2 .3-.6M1105.5 328.9l1.4-.6 0-.1"/>
<path class="b4" d="M1103.8 330.2l.4-.7 1.3-.6M1106.9 328.2l.1-.1 .6-.7"/>
<path class="b2" d="M1107.6 327.4l.7-.7 2.8-.8 .4-.2M1112.6 324.8l.2-.1 1.2-.4"/>
<path class="b1" d="M1111.5 325.7l.5-.1 .3-.4M1115.3 323.3l0-.5 .6-.5 .5 .1 2.6-1.7M1121.9 319.5l.3 .3 .5-.5M1128.3 315.4l.9-.5 2.9-.3 .4-1.6 .1-.1 3.3-1.5 1.2-.6 .4-.3M1138.4 309.7l.4-.5 .8-.6 1.4-.1 2-1.4 3.5-2.7 1.3 .4 1.6-1.1 4.4-3 .7-.4"/>
<path class="b0" d="M1112.3 325.2l.2-.4 .1 0M1114 324.3l1.3-.5 0-.5M1119 320.7l2.6-1.6 .3 .4M1122.7 319.3l.5-.5 4.2-2.9 .9-.5M1137.5 310.5l.5-.4 .4-.4"/>
<path class="b1" stroke-width="0" d="M1153.8 300.7l1.5-.8 3.6-2 1.2-.9 1.4-1 .7 0M1163.3 294.9l.2 .4 3.7-2.6"/>
<path class="b0" stroke-width="0" d="M1162.2 296l1.1-1.1"/>
<path class="b30" d="M995.7 389.2l.1 .1M1006 383.3l.5-.4 .6-.3 2.4-1.2 5.8-3.6 .3-.7 .6-.5 4.3-2.3 2.2-1.5 1.8-1.5M1030.5 368.1l.4 0 2.5-2"/>
<path class="b29" d="M995.8 389.3l.1 0 3.5-1.8 1.2-.9M1002.7 385l.9-.6 2-.6 .4-.5M1024.5 371.3l1.8-1.5 1.3 .5 2.6-2.1 .3-.1M1037 364.1l.1-.4 .8-.4"/>
<path class="b31" d="M1000.6 386.6l1.2-.9 .9-.7"/>
<path class="b28" d="M1033.4 366.1l2.5-1.9 .5 .2"/>
<path class="b27" d="M1036.4 364.4l.6 .1 0-.4M1037.9 363.3l.9-.5 .9-.8"/>
<path class="b24" d="M1039.7 362l.9-.8 .7-.2"/>
<path class="b26" d="M1041.3 361l.6-.1 0 0M1042.3 360.6l.4-.2 .8-.3"/>
<path class="b25" d="M1041.9 360.9l0 0 .4-.3"/>
<path class="b23" d="M1043.5 360.1l.7-.4 1.5-1"/>
<path class="b20" d="M1045.7 358.7l1.4-.9 .7-.3"/>
<path class="b18" d="M1047.8 357.5l.7-.2 1.9-1.8 .7-.6 .3 .2 1.3-.5 2.4-1.4"/>
<path class="b14" d="M1055.1 353.2l2.4-1.4 .1-.1M1057.8 351l0-.5 .5 0M1065.3 346.9l.4-.4 .3-.5M1067 345.8l.1 0 1.3-1.4 .3-.2"/>
<path class="b16" d="M1057.6 351.7l.2-.2 0-.5M1059.2 350.7l.3 0 1.8-1.7 1.4-1.1 .3 0M1066 346l.4-.4 .2 .1"/>
<path class="b15" d="M1058.3 350.5l.6 .1 .3 .1M1063.4 347.7l0-.2 1-.2 .2-.4 .2 .2"/>
<path class="b12" d="M1063 347.9l.3-.1 .1-.1M1064.8 347.1l.2 .2 .3-.4M1068.7 344.2l.4-.2 .7-.8M1075.2 340.5l1.1-.5 .7-.6"/>
<path class="b11" d="M1066.6 345.7l.3 .1 .1 0M1070.6 343l.1 .6 1.6-1.3M1074 340.4l0 0 .1 .6 1.1-.5M1082.9 335.5l1.5-1.2 .5-.4"/>
<path class="b13" d="M1069.8 343.2l.7-.8 .1 .6"/>
<path class="b10" d="M1072.3 342.3l1.5-1.3 .1-.7 .1 .1M1079.6 337.8l1.8-1 1.5-1.3M1084.9 333.9l.6-.4 2.6-1.1"/>
<path class="b9" d="M1077 339.4l.8-.6 1.8-1"/>
<path class="b7" d="M1088.1 332.4l2.5-1.2 3.4-2.2 .9-.7"/>
<path class="b5" d="M1094.9 328.3l.9-.6 .4 0M1097 327l.3-.6 .3-.1"/>
<path class="b6" d="M1096.2 327.7l.5 0 .3-.7M1097.6 326.3l.3-.1 1-.3"/>
<path class="b4" d="M1098.9 325.9l.9-.3 1-.5M1103.2 323.5l.1 .2 .3-.6"/>
<path class="b1" d="M1100.8 325.1l1-.4 1.2-1.5 .2 .3M1111.2 318.4l.4-.1 .3-.4M1114.9 315.9l0-.5 .6-.5 .4 .1 2.6-1.7M1121.3 311.9l.3 .4 .5-.5M1127.6 307.8l.8-.5 2.9-.4 .4-1.6 .1-.2 3.2-1.5 1.2-.6 .4-.4M1137.5 301.8l.3-.5 .8-.5 1.5-.2 1.9-1.5 3.4-2.7 1.3 .3 1.6-1.1 4.3-3.1 1.4-.9 1.8-1"/>
<path class="b2" d="M1103.6 323.1l.3-.7 1.4-.6M1106.6 321l.1-.1 1.3-1.4 2.7-.9 .5-.2M1112.2 317.5l.2-.1 1.2-.5"/>
<path class="b3" d="M1105.3 321.8l1.3-.6 0-.2"/>
<path class="b0" d="M1111.9 317.9l.2-.4 .1 0M1113.6 316.9l1.2-.4 .1-.6M1118.5 313.3l2.6-1.7 .2 .3M1122.1 311.8l.5-.6 4.1-3 .9-.4M1136.6 302.6l.5-.3 .4-.5"/>
<path class="b1" stroke-width="0" d="M1154 291.6l3.5-2 1.2-1 1.5-1 .6 0M1161.9 286.5l.2 .3 3.6-2.6"/>
<path class="b0" stroke-width="0" d="M1160.8 287.6l1.1-1.1"/>
<path class="b30" d="M997.2 383.2l.2 .1 3.5-1.8 1.2-.9M1004.2 379l.9-.7 1.9-.6 .5-.4M1008.2 376.7l.3-.2 2.4-1.2 2.9-1.8M1016.8 371.3l.2-.4 .5-.4 2.2-1.2M1022.9 367.4l1.1-.8 3.6-3 1.3 .5 2.5-2.1 .7-.2 2.5-1.9"/>
<path class="b31" d="M1002.1 380.6l1.1-1 1-.6M1007.5 377.3l.4-.5 .3-.1M1013.8 373.5l2.9-1.8 .1-.4M1019.7 369.3l2.1-1.2 1.1-.7"/>
<path class="b29" d="M1034.6 359.9l2.5-2 .6 .2M1038.3 357.8l0-.4 .9-.4"/>
<path class="b28" d="M1037.7 358.1l.5 .1 .1-.4M1039.2 357l.8-.5 .9-.8M1042.5 354.7l.6-.1 0 0M1043.5 354.3l.4-.2 .7-.4"/>
<path class="b26" d="M1040.9 355.7l1-.8 .6-.2"/>
<path class="b27" d="M1043.1 354.6l0-.1 .4-.2"/>
<path class="b25" d="M1044.6 353.7l.8-.3 1.4-1"/>
<path class="b22" d="M1046.8 352.4l1.5-1 .7-.2"/>
<path class="b20" d="M1049 351.2l.7-.3 1.9-1.8 .6-.6 .2 .1M1053.2 348.4l.6-.3 2.4-1.3"/>
<path class="b19" d="M1052.4 348.6l.2 .1 .6-.3"/>
<path class="b16" d="M1056.2 346.8l2.4-1.4 .1-.2M1058.9 344.5l0-.5 .5 .1M1066.4 340.4l.3-.4 .4-.5M1068.8 338.6l.6-.7 .4-.2"/>
<path class="b18" d="M1058.7 345.2l.2-.2 0-.5M1060.3 344.2l.3 0 1.8-1.7 1.4-1.1 .3 0"/>
<path class="b17" d="M1059.4 344.1l.6 .1 .3 0M1064.5 341.2l0-.2 .9-.2 .3-.4 .1 .2M1067.1 339.5l.3-.4 .3 .1"/>
<path class="b14" d="M1064.1 341.4l.3 0 .1-.2M1065.8 340.6l.2 .2 .4-.4M1076.2 333.9l1-.4 .8-.7"/>
<path class="b13" d="M1067.7 339.2l.2 .1 .1 0M1069.8 337.7l.3-.2 .7-.8M1075 333.8l0 .1 .1 .5 1.1-.5"/>
<path class="b15" d="M1068 339.3l.2 0 .6-.7M1070.8 336.7l.7-.8 .1 .5"/>
<path class="b12" d="M1071.6 336.4l.1 .6 3.1-2.6 .1-.6 .1 0M1080.5 331.2l1.8-1 3-2.5 1.2-.9 2.5-1.1"/>
<path class="b11" d="M1078 332.8l.7-.6 1.8-1"/>
<path class="b8" d="M1089 325.7l2.5-1.1 1.7-1.2M1097.1 320.9l.4 0 .3-.6M1098.4 319.6l.3-.1 1-.3"/>
<path class="b9" d="M1093.2 323.4l1.7-1.1 .9-.7"/>
<path class="b7" d="M1095.8 321.6l.8-.6 .5-.1M1097.8 320.3l.4-.7 .2 0"/>
<path class="b6" d="M1099.7 319.2l1-.4 1-.4"/>
<path class="b3" d="M1101.7 318.4l.9-.5 1.2-1.4 .2 .2"/>
<path class="b5" d="M1104 316.7l.1 .2 .3-.6M1106 315l1.4-.6 0-.2"/>
<path class="b4" d="M1104.4 316.3l.3-.7 1.3-.6M1107.4 314.2l.1-.1 .6-.7"/>
<path class="b2" d="M1108.1 313.4l.6-.7 2.7-.9 .5-.2M1113 310.6l.1 0 1.2-.5"/>
<path class="b1" d="M1111.9 311.6l.5-.2 .2-.3M1115.6 309.1l0-.6 .6-.4 .5 0 2.5-1.7M1122 305l.3 .4 .5-.5M1128.2 300.8l.9-.5 2.8-.4 .4-1.6 .1-.1 3.2-1.6 1.2-.6 .4-.4M1138 294.8l.4-.5 .8-.6 1.4-.2 2-1.4 3.4-2.8 1.2 .3 1.6-1.1 2.1-1.5"/>
<path class="b0" d="M1112.6 311.1l.3-.4 .1-.1M1114.3 310.1l1.3-.5 0-.5M1119.2 306.4l2.5-1.7 .3 .3M1122.8 304.9l.5-.6 4.1-3 .8-.5M1137.2 295.6l.5-.3 .3-.5"/>
<path class="b1" stroke-width="0" d="M1148.8 288.5l4.3-3.1 1.3-.8 3.4-2 1.2-.9 1.4-1 .6 0M1162 279.6l.2 .4 3.5-2.6"/>
<path class="b0" stroke-width="0" d="M1161 280.7l1-1.1"/>
<path class="b30" d="M998.7 377.2l.1 .1M1008.9 371.2l.4-.5 .7-.3 2.3-1.2 5.8-3.6 .3-.8 .5-.5 4.2-2.3 2.2-1.6 1.8-1.5M1033.1 355.6l.3 0 2.5-2"/>
<path class="b29" d="M998.8 377.3l.1 0 3.5-1.9 1.1-.9M1005.6 372.9l.9-.6 1.9-.6 .5-.5M1027.1 358.9l1.8-1.5 1.3 .4 2.5-2.1 .4-.1M1039.5 351.5l0-.4 .9-.4"/>
<path class="b31" d="M1003.5 374.5l1.2-.9 .9-.7"/>
<path class="b28" d="M1035.9 353.6l2.4-2 .6 .2"/>
<path class="b27" d="M1038.9 351.8l.6 .1 0-.4M1040.4 350.7l.8-.5 1-.8"/>
<path class="b24" d="M1042.2 349.4l.9-.9 .6-.1"/>
<path class="b26" d="M1043.7 348.4l.6-.2 0 0M1044.7 348l.4-.3 .7-.3"/>
<path class="b25" d="M1044.3 348.2l0 0 .4-.2"/>
<path class="b23" d="M1045.8 347.4l.8-.4 1.4-1"/>
<path class="b20" d="M1048 346l1.4-1 .7-.2"/>
<path class="b18" d="M1050.1 344.8l.7-.3 1.9-1.8 .7-.6 .3 .2 1.2-.6 2.4-1.4"/>
<path class="b14" d="M1057.3 340.3l2.4-1.4 .1-.1M1060 338.1l0-.5 .5 0M1067.4 333.9l.4-.4 .3-.5M1069.1 332.7l.1 0 1.2-1.4 .4-.2"/>
<path class="b16" d="M1059.8 338.8l.2-.2 0-.5M1061.4 337.7l.3 .1 1.7-1.7 1.5-1.2 .3 0M1068.1 333l.3-.5 .3 .2"/>
<path class="b15" d="M1060.5 337.6l.6 .1 .3 0M1065.5 334.7l.1-.2 .9-.2 .2-.4 .2 .2"/>
<path class="b12" d="M1065.2 334.9l.3 0 0-.2M1066.9 334.1l.2 .2 .3-.4M1070.8 331.1l.4-.2 .6-.8M1077.2 327.4l1-.5 .7-.7"/>
<path class="b11" d="M1068.7 332.7l.2 .1 .2-.1M1072.6 329.9l.1 .6 1.6-1.3M1075.9 327.3l.1 0 .1 .5 1.1-.4M1084.7 322.3l1.5-1.3 .6-.4"/>
<path class="b13" d="M1071.8 330.1l.7-.8 .1 .6"/>
<path class="b10" d="M1074.3 329.2l1.5-1.3 .1-.7 0 .1M1081.5 324.6l1.8-1.1 1.4-1.2M1086.8 320.6l.6-.4 2.5-1.2"/>
<path class="b9" d="M1078.9 326.2l.8-.6 1.8-1"/>
<path class="b7" d="M1089.9 319l2.5-1.1 3.4-2.4 .8-.6"/>
<path class="b5" d="M1096.6 314.9l.9-.7 .4 0M1098.7 313.5l.3-.6 .3-.1"/>
<path class="b6" d="M1097.9 314.2l.5 0 .3-.7M1099.3 312.8l.2 0 1-.4"/>
<path class="b4" d="M1100.5 312.4l1-.3 1-.5M1104.8 309.9l.1 .3 .3-.7"/>
<path class="b1" d="M1102.5 311.6l.9-.4 1.2-1.5 .2 .2M1112.7 304.8l.4-.2 .3-.4M1116.3 302.2l0-.5 .6-.5 .5 0 2.5-1.7M1122.7 298.1l.2 .4 .6-.6M1128.9 293.9l.8-.5 2.8-.5 .4-1.6 .1-.1 3.2-1.6 1.2-.6 .4-.4M1138.6 287.8l.4-.5 .8-.6 1.4-.2 1.9-1.5 3.4-2.8 .6 .2"/>
<path class="b2" d="M1105.2 309.5l.3-.6 1.3-.7M1108.2 307.4l0-.1 1.3-1.4 2.7-1 .5-.1M1113.7 303.8l.2-.1 1.2-.5"/>
<path class="b3" d="M1106.8 308.2l1.3-.6 .1-.2"/>
<path class="b0" d="M1113.4 304.2l.2-.3 .1-.1M1115.1 303.2l1.2-.4 0-.6M1119.9 299.5l2.5-1.7 .3 .3M1123.5 297.9l.5-.5 4-3 .9-.5M1137.8 288.6l.4-.4 .4-.4"/>
<path class="b1" stroke-width="0" d="M1146.5 282.2l1.2 .3 1.6-1.1 4.2-3.1 1.4-.8 3.2-1.9 1.1-.9 1.3-1 .7 .1M1162.2 272.7l.1 .4 3.4-2.5"/>
<path class="b0" stroke-width="0" d="M1161.2 273.8l1-1.1"/>
<path class="b30" d="M998.7 371.4l.2 .1 3.5-1.9 1.2-1M1005.6 367l1-.6 1.9-.7 .4-.4M1009.7 364.7l.3-.2 2.4-1.2 2.8-1.9M1018.3 359.2l.1-.4 .6-.5 2.1-1.2M1024.3 355.1l1.1-.8 3.6-3 1.3 .4 2.5-2.1 .7-.2 2.5-1.9"/>
<path class="b31" d="M1003.6 368.6l1.1-.9 .9-.7M1008.9 365.3l.5-.5 .3-.1M1015.2 361.4l2.9-1.8 .2-.4M1021.1 357.1l2.1-1.2 1.1-.8"/>
<path class="b29" d="M1036 347.5l2.4-2 .6 .1M1039.6 345.3l0-.4 .9-.4"/>
<path class="b28" d="M1039 345.6l.6 .1 0-.4M1043.8 342.2l.6-.2 0 0"/>
<path class="b27" d="M1040.5 344.5l.8-.5 1-.8M1044.4 342l0 0 .8-.5 .7-.4"/>
<path class="b26" d="M1042.3 343.2l.9-.9 .6-.1"/>
<path class="b25" d="M1045.9 341.1l.8-.3 1.4-1"/>
<path class="b21" d="M1048.1 339.8l1.4-1 .7-.3"/>
<path class="b20" d="M1050.2 338.5l.7-.3 2-1.8 .6-.6 .2 .1"/>
<path class="b19" d="M1053.7 335.9l.1 .1 1.3-.6 2.4-1.4"/>
<path class="b16" d="M1057.5 334l2.3-1.4 .2-.2M1060.1 331.7l0-.5 .6 .1M1067.6 327.5l.3-.5 .4-.4M1070 325.6l.6-.7 .4-.2"/>
<path class="b18" d="M1060 332.4l.1-.2 0-.5M1061.5 331.4l.3 0 1.8-1.7 1.4-1.2 .3 0"/>
<path class="b17" d="M1060.7 331.3l.5 0 .3 .1M1065.7 328.3l0-.2 .9-.2 .3-.4 .1 .2M1068.3 326.6l.3-.5 .3 .1"/>
<path class="b14" d="M1065.3 328.5l.3 0 .1-.2M1067 327.7l.2 .2 .4-.4M1072 323.7l.7-.9 .1 .6M1077.4 320.9l1-.5 .7-.7"/>
<path class="b13" d="M1068.9 326.2l.2 .1 .1 0M1071 324.7l.3-.2 .7-.8M1076.1 320.8l.1 0 .1 .5 1.1-.4"/>
<path class="b15" d="M1069.2 326.3l.2 0 .6-.7"/>
<path class="b12" d="M1072.8 323.4l.1 .6 3.1-2.6 .1-.7 0 .1M1084.9 315.7l1.5-1.3 1.2-.8 2.5-1.2"/>
<path class="b11" d="M1079.1 319.7l.8-.6 3.6-2.1 1.4-1.3"/>
<path class="b8" d="M1090.1 312.4l2.5-1.2 1.7-1.1M1098.2 307.5l.4 0 .3-.6M1099.5 306.1l.3 0 1-.4"/>
<path class="b9" d="M1094.3 310.1l1.7-1.2 .9-.7"/>
<path class="b7" d="M1096.9 308.2l.8-.7 .5 0M1098.9 306.9l.3-.7 .3-.1"/>
<path class="b6" d="M1100.8 305.7l.9-.3 1-.5"/>
<path class="b3" d="M1102.7 304.9l1-.5 1.2-1.5 .1 .3"/>
<path class="b5" d="M1105 303.2l.2 .2 .3-.6M1107.1 301.4l1.3-.6 0-.2"/>
<path class="b4" d="M1105.5 302.8l.3-.7 1.3-.7M1108.4 300.6l.1-.1 .6-.7"/>
<path class="b2" d="M1109.1 299.8l.7-.7 2.7-1 .4-.1M1114 297l.1-.1 1.2-.5"/>
<path class="b1" d="M1112.9 298l.5-.2 .2-.4M1116.6 295.4l0-.6 .6-.4 .5 0 2.5-1.8M1123 291.2l.2 .4 .6-.6M1129.2 286.9l.8-.5 2.9-.4 .4-1.7 0-.1 3.2-1.6 1.2-.7 .4-.3M1138.9 280.7l.4-.4 .8-.6 1.4-.3 1.9-1.5 1.7-1.4"/>
<path class="b0" d="M1113.6 297.4l.3-.4 .1 0M1115.3 296.4l1.3-.5 0-.5M1120.2 292.6l2.5-1.7 .3 .3M1123.8 291l.5-.5 4-3.1 .9-.5M1138.1 281.6l.5-.4 .3-.5"/>
<path class="b1" stroke-width="0" d="M1143.4 277.9l3.4-2.8 1.3 .3 1.6-1.2 4.2-3 1.3-.8 3.1-1.8 1.1-.9 1.3-.9 .6 0M1162.3 265.8l.1 .4 3.3-2.4"/>
<path class="b0" stroke-width="0" d="M1161.3 266.8l1-1"/>
<path class="b30" d="M998.7 365.5l.1 .1M1008.9 359.3l.5-.4 .6-.3 2.4-1.3 5.8-3.7 .3-.8 .5-.5 4.3-2.4 2.2-1.6 1.8-1.6M1033.2 343.4l.4-.1 2.5-2"/>
<path class="b29" d="M998.8 365.6l.1 .1 3.5-2 1.2-.9M1005.7 361.2l.9-.7 1.9-.7 .4-.5M1027.3 346.7l1.8-1.5 1.3 .4 2.5-2.1 .3-.1"/>
<path class="b31" d="M1003.6 362.8l1.1-1 1-.6"/>
<path class="b28" d="M1036.1 341.3l2.4-2 .6 .1M1039.7 339.1l0-.4 .9-.4"/>
<path class="b27" d="M1039.1 339.4l.6 .1 0-.4M1040.6 338.3l.8-.5 1-.8"/>
<path class="b24" d="M1042.4 337l.9-.9 .6-.2M1044.5 335.8l0-.1 .4-.2"/>
<path class="b26" d="M1043.9 335.9l.6-.1 0 0"/>
<path class="b25" d="M1044.9 335.5l.4-.2 .8-.4"/>
<path class="b22" d="M1046.1 334.9l.7-.4 1.4-1"/>
<path class="b19" d="M1048.2 333.5l1.5-1 .7-.3"/>
<path class="b18" d="M1050.4 332.2l.7-.3 1.9-1.8 .6-.6 .2 .1"/>
<path class="b17" d="M1053.8 329.6l.1 .1 1.3-.6 2.4-1.4"/>
<path class="b14" d="M1057.6 327.7l2.4-1.5 .1-.2M1060.2 325.4l.1-.6 .5 .1M1067.7 321l.4-.4 .3-.5M1070.1 319.1l.7-.7 .3-.2"/>
<path class="b16" d="M1060.1 326l.1-.1 0-.5M1061.7 325l.3 0 1.7-1.7 1.5-1.2 .3 0"/>
<path class="b15" d="M1060.8 324.9l.6 .1 .3 0M1065.8 321.9l.1-.2 .9-.2 .2-.4 .2 .2M1068.4 320.1l.4-.4 .2 .1"/>
<path class="b12" d="M1065.5 322.1l.3 0 0-.2M1067.2 321.3l.2 .1 .3-.4M1077.5 314.3l1.1-.5 .7-.6"/>
<path class="b11" d="M1069 319.8l.3 .1 .1 0M1071.1 318.2l.4-.2 .7-.8M1076.3 314.3l0 0 .2 .5 1-.5M1085.1 309.1l1.5-1.3 .6-.4"/>
<path class="b13" d="M1069.4 319.9l.1-.1 .6-.7M1072.2 317.2l.7-.8 0 .5"/>
<path class="b10" d="M1072.9 316.9l.1 .6 3.2-2.6 .1-.7 0 .1M1081.9 311.5l1.7-1.1 1.5-1.3M1087.2 307.4l.6-.4 2.5-1.2"/>
<path class="b9" d="M1079.3 313.2l.8-.7 1.8-1"/>
<path class="b7" d="M1090.3 305.8l2.5-1.2 3.4-2.4 .9-.7"/>
<path class="b5" d="M1097.1 301.5l.8-.6 .5-.1M1099.1 300.1l.4-.6 .2-.1"/>
<path class="b6" d="M1098.4 300.8l.4 0 .3-.7M1099.7 299.4l.3-.1 1-.3"/>
<path class="b4" d="M1101 299l1-.4 1-.4M1105.3 296.4l.1 .3 .3-.7"/>
<path class="b1" d="M1103 298.2l.9-.5 1.2-1.5 .2 .2M1113.2 291.1l.5-.1 .2-.4M1116.9 288.5l0-.5 .6-.5 .4 0 2.6-1.7M1123.3 284.3l.2 .4 .5-.6M1129.5 279.9l.8-.5 2.9-.4 .4-1.7 0-.1 3.2-1.7 1.2-.6 .5-.4M1139.3 273.7l.4-.5 .7-.6 1.5-.2 1.9-1.6 3.4-2.8 1.3 .3 .7-.6"/>
<path class="b2" d="M1105.7 296l.3-.7 1.3-.6M1108.7 293.9l.1-.2 1.2-1.4 2.7-1 .5-.2M1114.3 290.1l.1 0 1.2-.5"/>
<path class="b3" d="M1107.3 294.7l1.3-.7 .1-.1"/>
<path class="b0" d="M1113.9 290.6l.2-.4 .2-.1M1115.6 289.6l1.2-.5 .1-.6M1120.5 285.8l2.5-1.8 .3 .3M1124 284.1l.6-.5 4-3.1 .9-.6M1138.5 274.5l.4-.4 .4-.4"/>
<path class="b1" stroke-width="0" d="M1148.5 268.3l1.5-1.2 4.2-3.1 1.3-.7 3.1-1.7 1-.9 1.2-.9 .6 .1M1162.4 258.9l.1 .4 3.2-2.3"/>
<path class="b0" stroke-width="0" d="M1161.4 259.9l1-1"/>
<path class="b30" d="M998.7 359.7l.2 .1 3.5-2 1.2-.9M1005.7 355.3l.9-.7 1.9-.7 .5-.5M1009.7 352.8l.3-.2 2.4-1.2 2.9-1.9M1018.3 347.2l.2-.4 .6-.5 2.1-1.2M1024.4 343l1.1-.8 3.7-3.1 1.2 .4 2.5-2.2 .8-.1 2.4-2.1"/>
<path class="b31" d="M1003.6 356.9l1.1-1 1-.6M1009 353.4l.4-.5 .3-.1M1015.3 349.5l2.9-1.9 .1-.4M1021.2 345.1l2.1-1.3 1.1-.8"/>
<path class="b28" d="M1036.1 335.1l2.5-2 .6 .1"/>
<path class="b27" d="M1039.2 333.2l.5 .1 .1-.4M1040.7 332.1l.8-.5 1-.9M1044 329.7l.6-.2 0 0"/>
<path class="b29" d="M1039.8 332.9l0-.4 .9-.4"/>
<path class="b25" d="M1042.5 330.7l.9-.8 .6-.2"/>
<path class="b26" d="M1044.6 329.5l0 0 .8-.5 .8-.4"/>
<path class="b24" d="M1046.2 328.6l.7-.4 1.5-1"/>
<path class="b20" d="M1048.4 327.2l1.4-1 1.4-.6 1.9-1.8 .7-.6 .1 0"/>
<path class="b19" d="M1053.9 323.2l.2 .1 1.2-.5 2.4-1.5"/>
<path class="b16" d="M1057.7 321.3l2.4-1.5 .2-.1M1066 315.4l0-.2 .5-.1M1067.1 314.9l.1-.2 .2 .1"/>
<path class="b17" d="M1060.3 319.7l.1-.2 0-.5M1061 318.5l.5 .1 .3 0M1066.5 315.1l.5 0 .1-.2M1068.6 313.7l.3-.5 .3 .1"/>
<path class="b15" d="M1060.4 319l0-.5 .6 0M1067.9 314.6l.4-.4 .3-.5M1069.6 313.4l.1 0 1.2-1.4 .4-.3"/>
<path class="b18" d="M1061.8 318.6l.3 0 1.8-1.7 1.4-1.2 .3 0"/>
<path class="b14" d="M1065.6 315.7l.3-.1 .1-.2M1067.4 314.8l.1 .2 .4-.4M1072.4 310.7l.6-.8 .1 .6M1077.7 307.8l1.1-.5 .7-.7"/>
<path class="b13" d="M1069.2 313.3l.2 .1 .2 0M1071.3 311.7l.4-.2 .7-.8M1076.5 307.7l0 .1 .2 .5 1-.5"/>
<path class="b12" d="M1073.1 310.5l.1 .5 3.2-2.7 .1-.6 0 0M1085.3 302.5l1.5-1.3 1.2-.8 2.5-1.3"/>
<path class="b11" d="M1079.5 306.6l.8-.6 3.5-2.2 1.5-1.3"/>
<path class="b8" d="M1090.5 299.1l2.5-1.2 1.7-1.2M1098.6 294.1l.5 0 .3-.7M1100 292.7l.2-.1 1-.3"/>
<path class="b9" d="M1094.7 296.7l1.8-1.2 .8-.7"/>
<path class="b7" d="M1097.3 294.8l.9-.7 .4 0M1099.4 293.4l.3-.6 .3-.1"/>
<path class="b6" d="M1101.2 292.3l1-.4 1-.5"/>
<path class="b3" d="M1103.2 291.4l1-.5 1.2-1.5 .1 .2"/>
<path class="b5" d="M1105.5 289.6l.2 .3 .3-.7M1107.6 287.9l1.3-.7 .1-.1"/>
<path class="b4" d="M1106 289.2l.3-.6 1.3-.7M1109 287.1l0-.2 .6-.7"/>
<path class="b2" d="M1109.6 286.2l.7-.7 2.7-1 .5-.2M1114.5 283.3l.2-.1 1.2-.5"/>
<path class="b1" d="M1113.5 284.3l.4-.2 .3-.4M1117.1 281.6l.1-.5 .5-.5 .5 0 2.6-1.8M1123.6 277.4l.2 .3 .5-.5M1129.8 272.9l.8-.5 2.9-.5 .4-1.6 .1-.1 3.2-1.7 1.1-.7 .5-.4M1139.6 266.6l.4-.5 .8-.6 1.4-.2 1.9-1.6 3.4-2.9 1.3 .3 1.6-1.2 4.2-3.1 1.2-.7 1.5-.8"/>
<path class="b0" d="M1114.2 283.7l.2-.4 .1 0M1115.9 282.7l1.2-.5 0-.6M1120.8 278.8l2.5-1.7 .3 .3M1124.3 277.2l.6-.6 4-3.1 .9-.6M1138.8 267.4l.4-.3 .4-.5"/>
<path class="b1" stroke-width="0" d="M1155.8 256.1l3-1.6 1-.8 1.2-.8 .6 0M1162.5 252l.1 .4 3.1-2.2"/>
<path class="b0" stroke-width="0" d="M1161.6 252.9l.9-.9"/>
<path class="b30" d="M999.9 355.8l.1 .1M1010 349.1l.4-.5 .6-.3 2.4-1.3 5.6-4.1 .3-.8 .6-.5 4.2-2.6 2.1-1.8 1.8-1.6M1033.9 332l.3-.1 2.4-2.1"/>
<path class="b29" d="M1000 355.9l.1 0 3.4-2.1 1.2-1M1006.7 351.1l1-.7 1.8-.8 .5-.5M1028 335.6l1.8-1.6 1.2 .4 2.5-2.3 .4-.1"/>
<path class="b31" d="M1004.7 352.8l1.1-1 .9-.7"/>
<path class="b27" d="M1036.6 329.8l2.5-2.1 .5 .1"/>
<path class="b26" d="M1039.6 327.8l.6 .1 0-.4"/>
<path class="b28" d="M1040.2 327.5l.1-.4 .8-.6"/>
<path class="b25" d="M1041.1 326.5l.9-.5 .9-.9"/>
<path class="b23" d="M1042.9 325.1l.8-.9 .7-.1M1045 323.9l0-.1 .4-.2"/>
<path class="b24" d="M1044.4 324.1l.6-.2 0 0M1045.4 323.6l.3-.3 .8-.4"/>
<path class="b21" d="M1046.5 322.9l.8-.4 1.3-1.1"/>
<path class="b18" d="M1048.6 321.4l1.4-1.1 .7-.3"/>
<path class="b17" d="M1050.7 320l.7-.3 1.9-1.9 .7-.7 .3 .2 1.2-.6 2.3-1.6"/>
<path class="b14" d="M1057.8 315.1l2.4-1.5 .1-.2M1067 308.3l.1-.2 .2 .2M1070.2 306l.6-.7 .4-.3"/>
<path class="b15" d="M1060.3 313.4l.2-.2 0-.5M1061 312.2l.5 .1 .3 0M1065.9 308.9l.1-.2 .9-.2 .1-.2M1068.5 307.1l.3-.5 .3 .1"/>
<path class="b13" d="M1060.5 312.7l0-.5 .5 0M1067.8 308l.4-.4 .3-.5M1069.5 306.8l.1-.1 .6-.7"/>
<path class="b16" d="M1061.8 312.3l.3 0 1.8-1.8 1.4-1.3 .3 0"/>
<path class="b12" d="M1065.6 309.2l.3-.1 0-.2M1067.3 308.3l.2 .1 .3-.4M1072.2 304l.7-.9 .1 .6M1077.5 300.8l1-.5 .7-.7"/>
<path class="b11" d="M1069.1 306.7l.2 .1 .2 0M1071.2 305l.3-.2 .7-.8M1076.3 300.8l0 .1 .1 .5 1.1-.6"/>
<path class="b10" d="M1073 303.7l0 .6 3.1-2.9 .1-.6 .1 0M1081.7 297.8l1.8-1.2 2.9-2.7 1.2-.9 2.4-1.3"/>
<path class="b9" d="M1079.2 299.6l.8-.7 1.7-1.1"/>
<path class="b6" d="M1090 291.7l2.5-1.3 1.7-1.3M1098 286.4l.4-.1 .3-.7M1099.3 284.9l.3-.1 .9-.4"/>
<path class="b7" d="M1094.2 289.1l1.6-1.3 .9-.7"/>
<path class="b5" d="M1096.7 287.1l.8-.7 .5 0M1098.7 285.6l.3-.6 .3-.1"/>
<path class="b4" d="M1100.5 284.4l1-.4 1-.5M1104.7 281.6l.2 .2 .3-.6"/>
<path class="b1" d="M1102.5 283.5l.9-.6 1.2-1.5 .1 .2M1112.5 275.9l.5-.1 .2-.4M1116.2 273.1l0-.5 .5-.5 .5 0 2.5-1.9M1122.5 268.7l.2 .3 .5-.6M1128.6 264l.8-.6 2.8-.6 .4-1.6 .1-.2 3.1-1.8 1.2-.7 .4-.4M1138.2 257.3l.4-.5 .8-.7 1.3-.3 1.9-1.6 1.7-1.5"/>
<path class="b2" d="M1105.2 281.2l.3-.7 1.3-.7M1108.1 278.9l.1-.1 1.2-1.5 2.7-1.2 .4-.2M1113.6 274.9l.1-.1 1.2-.5"/>
<path class="b3" d="M1106.8 279.8l1.3-.8 0-.1"/>
<path class="b0" d="M1113.2 275.4l.3-.4 .1-.1M1114.9 274.3l1.2-.6 .1-.6M1119.7 270.2l2.5-1.9 .3 .4M1123.2 268.4l.5-.6 4-3.3 .9-.5M1137.4 258.1l.4-.4 .4-.4"/>
<path class="b1" stroke-width="0" d="M1142.6 254.2l3.4-3 1.2 .2 1.6-1.3 4.1-3.2 1.2-.7 2.8-1.5 1-.8 1.1-.8 .6 .1M1160.4 242.3l.2 .3 2.9-2.1"/>
<path class="b0" stroke-width="0" d="M1159.6 243.2l.8-.9"/>
<path class="b30" d="M1001.1 351.9l.2 .1 3.4-2.3 1.1-1M1007.8 346.9l.9-.8 1.8-.8 .5-.5M1011.7 344.1l.3-.2 2.3-1.4 2.8-2.2M1020 337.8l.2-.4 .5-.5 2.1-1.4M1025.9 333.1l1-.9 3.5-3.4 1.3 .3 2.4-2.3 .7-.3 2.4-2.2"/>
<path class="b31" d="M1005.8 348.7l1.1-1 .9-.8M1011 344.8l.4-.5 .3-.2M1017.1 340.3l2.8-2.1 .1-.4M1022.8 335.5l2-1.5 1.1-.9"/>
<path class="b28" d="M1037.2 324.3l2.4-2.2 .5 .1M1040.7 321.8l0-.4 .8-.5"/>
<path class="b27" d="M1040.1 322.2l.5 0 .1-.4"/>
<path class="b26" d="M1041.5 320.9l.9-.6 .9-.9M1044.7 318.3l.6-.3 0 0"/>
<path class="b24" d="M1043.3 319.4l.8-.9 .6-.2M1045.3 318l0 0 .4-.3"/>
<path class="b25" d="M1045.7 317.7l.4-.2 .7-.5"/>
<path class="b22" d="M1046.8 317l.8-.5 1.3-1.1"/>
<path class="b20" d="M1048.9 315.4l1.4-1.1 .7-.4"/>
<path class="b19" d="M1051 313.9l.7-.3 1.8-2 .7-.7 .1 .1"/>
<path class="b18" d="M1054.3 311l.1 .1 1.3-.7 2.3-1.7M1064.6 303.2l.7-.7 .3 0"/>
<path class="b15" d="M1058 308.7l2.3-1.6 .1-.2M1060.5 306.2l0-.5 .6 0M1067.8 301.2l.3-.5 .3-.5M1069.4 299.9l.1 0 1.2-1.6 .3-.2"/>
<path class="b17" d="M1060.4 306.9l.1-.2 0-.5M1061.9 305.7l.3 0 1.7-1.9 .7-.6M1068.4 300.2l.4-.4 .2 0"/>
<path class="b16" d="M1061.1 305.7l.5 0 .3 0M1065.9 302.2l.1-.2 .9-.2 .2-.5 .2 .2"/>
<path class="b13" d="M1065.6 302.5l.3-.1 0-.2M1071 298.1l.4-.3 .7-.8M1076 293.6l.1 .1 0 .2M1077.2 293.6l1-.6 .8-.7"/>
<path class="b14" d="M1067.3 301.5l.1 .1 .4-.4M1072.1 297l.6-.9 .1 .5"/>
<path class="b12" d="M1069 299.8l.3 .1 .1 0M1072.8 296.6l.1 .6 3-2.9 .1-.7 0 0M1076.1 293.9l.1 .3 1-.6M1084.6 287.7l1.4-1.4 1.1-1 2.4-1.4"/>
<path class="b11" d="M1079 292.3l.7-.7 3.4-2.4 1.5-1.5"/>
<path class="b8" d="M1089.5 283.9l2.5-1.4 1.6-1.3M1097.4 278.2l.4 0 .3-.7M1098.7 276.7l.2-.1 1-.4"/>
<path class="b9" d="M1093.6 281.2l1.7-1.4 .8-.7"/>
<path class="b7" d="M1096.1 279.1l.8-.8 .5-.1M1098.1 277.5l.3-.7 .3-.1"/>
<path class="b6" d="M1099.9 276.2l.9-.5 1-.5"/>
<path class="b3" d="M1101.8 275.2l.9-.6 1.1-1.6 .2 .2"/>
<path class="b5" d="M1104 273.2l.1 .2 .3-.6M1106 271.3l1.3-.8 0-.2"/>
<path class="b4" d="M1104.4 272.8l.3-.7 1.3-.8M1107.3 270.3l.1-.1 .6-.7"/>
<path class="b2" d="M1108 269.5l.6-.8 2.6-1.3 .5-.2M1112.7 266.1l.1-.1 1.2-.6"/>
<path class="b1" d="M1111.7 267.2l.4-.2 .2-.4M1115.2 264.3l0-.6 .6-.5 .4 0 2.5-2M1121.4 259.5l.2 .3 .5-.6M1127.4 254.6l.8-.6 2.7-.8 .4-1.6 .1-.2 3.1-1.9 1.1-.8 .4-.4M1136.8 247.4l.4-.5 .8-.7 1.3-.3 1.9-1.7 1.6-1.6"/>
<path class="b0" d="M1112.3 266.6l.3-.4 .1-.1M1114 265.4l1.2-.6 0-.5M1118.7 261.2l2.4-2 .3 .3M1122.1 259.2l.5-.6 3.9-3.4 .9-.6M1136 248.3l.5-.4 .3-.5"/>
<path class="b1" stroke-width="0" d="M1141.2 244.2l3.3-3.2 1.2 .2 1.5-1.3 4-3.4 1.1-.6 2.8-1.3 .9-.7 1.1-.8 .5 .2M1158.4 232.4l.1 .4 2.9-2"/>
<path class="b0" stroke-width="0" d="M1157.6 233.3l.8-.9"/>
<path class="b30" d="M1002.3 348l.1 .1M1012 340.4l.4-.5 .6-.4 2.3-1.5 5.4-4.6 .3-.8 .5-.5 4-3 2.1-1.9 1.8-1.8"/>
<path class="b29" d="M1002.4 348.1l.1 0 3.3-2.4 1.1-1.1M1008.9 342.7l.9-.8 1.8-.9 .4-.6M1029.4 325.4l1.7-1.8 1.2 .3 2.3-2.5 .7-.3 2.4-2.3"/>
<path class="b31" d="M1006.9 344.6l1.1-1.1 .9-.8"/>
<path class="b27" d="M1037.7 318.8l2.3-2.3 .5 0"/>
<path class="b24" d="M1040.5 316.5l.6 0 0-.4M1042 315.2l.8-.6 .8-1"/>
<path class="b26" d="M1041.1 316.1l0-.4 .9-.5"/>
<path class="b21" d="M1043.6 313.6l.9-1 .6-.2"/>
<path class="b23" d="M1045.1 312.4l.6-.3 0 0M1046 311.8l.4-.3 .7-.5"/>
<path class="b22" d="M1045.7 312.1l0 0 .3-.3"/>
<path class="b20" d="M1047.1 311l.8-.4 1.3-1.2"/>
<path class="b18" d="M1049.2 309.4l1.3-1.2 .7-.4"/>
<path class="b17" d="M1051.2 307.8l.7-.4 1.8-2.1 .6-.7 .2 .1"/>
<path class="b16" d="M1054.5 304.7l.1 .1 1.2-.8 2.3-1.7M1064.6 296.4l.6-.7 .3-.1"/>
<path class="b13" d="M1058.1 302.3l2.2-1.8 .1-.2M1060.6 299.6l0-.5 .5 0M1067.7 294.3l.3-.5 .3-.5M1069.2 292.9l.1 0 1.2-1.6 .4-.3"/>
<path class="b15" d="M1060.4 300.3l.2-.2 0-.5M1061.9 299.1l.3-.1 1.7-1.9 .7-.7M1068.3 293.3l.3-.5 .3 .1"/>
<path class="b14" d="M1061.1 299.1l.5 0 .3 0M1065.8 295.4l.1-.2 .9-.3 .2-.4 .2 .1"/>
<path class="b11" d="M1065.5 295.6l.3 0 0-.2M1070.9 291l.3-.2 .7-.9M1075.8 286.4l0 0 .1 .5 1-.6"/>
<path class="b12" d="M1067.2 294.6l.1 .1 .4-.4M1071.9 289.9l.6-1 .1 .6M1076.9 286.3l1-.6 .7-.8"/>
<path class="b10" d="M1068.9 292.9l.2 0 .1 0M1072.6 289.5l.1 .6 3-3.1 0-.7 .1 .1M1084.1 280.1l1.4-1.5 1.1-1 2.4-1.6"/>
<path class="b9" d="M1078.6 284.9l.7-.7 3.4-2.6 1.4-1.5"/>
<path class="b6" d="M1089 276l2.4-1.5 1.6-1.4M1096.7 270l.4-.1 .3-.7M1098 268.4l.2-.1 .9-.5"/>
<path class="b7" d="M1093 273.1l1.6-1.4 .8-.8"/>
<path class="b5" d="M1095.4 270.9l.9-.8 .4-.1M1097.4 269.2l.3-.7 .3-.1"/>
<path class="b4" d="M1099.1 267.8l1-.5 .9-.6M1103.2 264.7l.1 .2 .3-.7"/>
<path class="b1" d="M1101 266.7l.9-.6 1.1-1.6 .2 .2M1110.7 258.3l.4-.2 .3-.4M1114.2 255.2l0-.5 .5-.6 .5 0 2.4-2.1M1120.2 250.2l.3 .3 .5-.6M1126.1 245l.8-.7 2.7-.8 .4-1.7 0-.1 3.1-2.1 1.1-.8 .4-.4M1135.4 237.4l.3-.5 .8-.7 1.3-.5 1.8-1.7 3.3-3.4 1.2 .2 1.5-1.4 1.9-1.8"/>
<path class="b2" d="M1103.6 264.2l.3-.7 1.2-.9M1106.4 261.7l.1-.2 1.2-1.5 2.5-1.4 .5-.3M1111.7 257.2l.1-.1 1.2-.7"/>
<path class="b3" d="M1105.1 262.6l1.3-.8 0-.1"/>
<path class="b0" d="M1111.4 257.7l.2-.4 .1-.1M1113 256.4l1.1-.6 .1-.6M1117.6 252l2.4-2.1 .2 .3M1121 249.9l.5-.6 3.8-3.7 .8-.6M1134.6 238.4l.4-.5 .4-.5"/>
<path class="b1" stroke-width="0" d="M1145.6 229.4l3.9-3.5 1.1-.5 2.6-1.1 .8-.6 1.1-.6 .5 .1M1156.4 222.4l.1 .4 2.7-1.6"/>
<path class="b0" stroke-width="0" d="M1155.6 223.2l.8-.8"/>
<path class="b30" d="M1003.5 344.1l.2 .1 3.2-2.5 1.1-1.1M1009.9 338.6l.8-.8 1.8-1 .4-.5M1013.6 335.6l.3-.2 2.2-1.7 2.6-2.3M1021.5 328.6l.1-.4 .5-.5 2-1.6M1027 323.6l1-1 3.4-3.7 1.1 .3 2.3-2.6 .7-.2 2.3-2.4"/>
<path class="b31" d="M1008 340.6l1-1.2 .9-.8M1012.9 336.3l.4-.5 .3-.2M1018.7 331.4l2.6-2.3 .2-.5M1024.1 326.1l1.9-1.5 1-1"/>
<path class="b27" d="M1037.8 314l2.2-2.4 .5 0"/>
<path class="b26" d="M1040.5 311.6l.6 0 0-.4"/>
<path class="b28" d="M1041.1 311.2l0-.4 .8-.6"/>
<path class="b25" d="M1041.9 310.2l.8-.6 .8-1"/>
<path class="b23" d="M1043.5 308.6l.9-1 .5-.2M1045.5 307.1l0 0 .4-.3"/>
<path class="b24" d="M1044.9 307.4l.6-.3 0 0M1045.9 306.8l.3-.3 .7-.5"/>
<path class="b21" d="M1046.9 306l.7-.5 1.3-1.3"/>
<path class="b19" d="M1048.9 304.2l1.3-1.2 .7-.4"/>
<path class="b18" d="M1050.9 302.6l.6-.4 1.8-2.1 .6-.7 .3 .1 1.1-.8 2.2-1.8"/>
<path class="b15" d="M1057.5 296.9l2.2-1.8 .1-.2M1066.8 288.7l.3-.5 .3-.5M1069 286.4l.6-.8 .3-.3"/>
<path class="b17" d="M1059.8 294.9l.1-.2 0-.5M1061.2 293.6l.3 0 1.6-2 1.4-1.4 .2-.1"/>
<path class="b14" d="M1059.9 294.2l0-.5 .6 0M1068.3 287.3l.1-.1 .6-.8M1070.9 284.1l.6-.9 .1 .6"/>
<path class="b16" d="M1060.5 293.7l.5-.1 .2 0M1065.1 289.8l0-.2 .9-.3 .2-.4 .1 .1M1067.4 287.7l.4-.5 .2 0"/>
<path class="b13" d="M1064.7 290.1l.3-.1 .1-.2M1066.3 289l.2 .1 .3-.4M1074.7 280.6l0 0 .1 .2M1075.8 280.4l1-.6 .6-.8"/>
<path class="b12" d="M1068 287.2l.2 .1 .1 0M1069.9 285.3l.4-.2 .6-1M1071.6 283.8l.1 .6 1.4-1.6M1074.8 280.8l0 .3 1-.7M1082.8 274l1.3-1.5 .6-.5"/>
<path class="b11" d="M1073.1 282.8l1.5-1.6 0-.7 .1 .1M1077.4 279l.7-.8 3.3-2.6 1.4-1.6M1084.7 272l.5-.5 2.3-1.6"/>
<path class="b8" d="M1087.5 269.9l2.3-1.6 1.6-1.5M1094.9 263.6l.4 0 .3-.8M1096.2 262l.2-.1 .9-.5"/>
<path class="b9" d="M1091.4 266.8l1.5-1.5 .8-.8"/>
<path class="b7" d="M1093.7 264.5l.8-.8 .4-.1M1095.6 262.8l.3-.7 .3-.1"/>
<path class="b6" d="M1097.3 261.4l.9-.5 .9-.6"/>
<path class="b3" d="M1099.1 260.3l.9-.7 1.1-1.7 .1 .2"/>
<path class="b5" d="M1101.2 258.1l.2 .3 .2-.7M1103.1 256.1l1.2-.9 .1-.2"/>
<path class="b4" d="M1101.6 257.7l.3-.8 1.2-.8M1104.4 255l0-.1 .6-.8"/>
<path class="b2" d="M1105 254.1l.6-.8 2.5-1.5 .4-.2M1109.5 250.4l.1 0 1.1-.7"/>
<path class="b1" d="M1108.5 251.6l.4-.2 .2-.5M1111.9 248.4l0-.5 .5-.6 .4-.1 2.4-2.1M1117.7 243.2l.3 .3 .4-.6M1123.4 237.8l.8-.6 2.6-.9 .4-1.7 0-.2 3-2.1 1.1-.9 .4-.4M1132.4 230l.4-.5 .7-.7 1.3-.5 1.7-1.8 1.6-1.7"/>
<path class="b0" d="M1109.1 250.9l.3-.4 .1-.1M1110.7 249.7l1.1-.7 .1-.6M1115.2 245.1l2.3-2.2 .2 .3M1118.4 242.9l.5-.6 3.7-3.8 .8-.7M1131.7 231l.4-.4 .3-.6"/>
<path class="b1" stroke-width="0" d="M1136.5 226.5l3.2-3.4 1.1 .1 1.5-1.5 3.8-3.5 1-.4 2.5-.7 .9-.5 1-.5 .5 .2M1152.7 215.6l.1 .4 2.6-1.3"/>
<path class="b0" stroke-width="0" d="M1152 216.3l.7-.7"/>
<path class="b30" d="M1004.7 340.2l.1 .1M1013.8 332.1l.4-.5 .5-.4 2.1-1.7 5.1-4.8 .3-.9 .5-.5 3.8-3.3 1.9-2 1.6-1.9"/>
<path class="b29" d="M1004.8 340.3l.1 0 3.1-2.6 1-1.2M1010.9 334.5l.8-.8 1.7-1 .4-.6M1030 316.1l1.6-1.8 1.2 .2 2.2-2.6 .6-.3 2.2-2.5"/>
<path class="b31" d="M1009 336.5l1-1.1 .9-.9"/>
<path class="b26" d="M1037.8 309.1l2.2-2.4 .5 0M1041 306.3l.1-.4 .7-.6"/>
<path class="b24" d="M1040.5 306.7l.5 0 0-.4"/>
<path class="b23" d="M1041.8 305.3l.8-.7 .8-1"/>
<path class="b20" d="M1043.4 303.6l.8-1 .6-.3"/>
<path class="b22" d="M1044.8 302.3l.5-.3 0 0M1045.7 301.7l.3-.3 .7-.5"/>
<path class="b21" d="M1045.3 302l0 0 .4-.3"/>
<path class="b19" d="M1046.7 300.9l.7-.6 1.2-1.2"/>
<path class="b17" d="M1048.6 299.1l1.3-1.3 .6-.4M1053.1 294.4l.3-.4 .1 .1"/>
<path class="b16" d="M1050.5 297.4l.6-.4 1.7-2.2 .3-.4M1053.5 294.1l.2 .1 1.1-.8 2.1-1.9"/>
<path class="b13" d="M1056.9 291.5l2.1-1.9 .1-.2M1065.9 283l.3-.5 .3-.5M1067.4 281.5l.1 0 1.1-1.6 .3-.3"/>
<path class="b15" d="M1059.1 289.4l.2-.2 0-.5M1060.5 288.1l.3 0 1.6-2.1 1.2-1.4 .3-.1M1066.5 282l.3-.5 .2 0"/>
<path class="b12" d="M1059.3 288.7l0-.5 .5 0M1069.8 278.4l.6-1 .1 .6M1074.6 274.5l.9-.7 .7-.7"/>
<path class="b14" d="M1059.8 288.2l.5-.1 .2 0M1064.2 284.2l.1-.2 .8-.3 .2-.5 .1 .2"/>
<path class="b11" d="M1063.9 284.5l.3-.1 0-.2M1065.4 283.4l.2 .1 .3-.5M1068.9 279.6l.3-.3 .6-.9M1073.5 274.7l0 0 .1 .3"/>
<path class="b10" d="M1067 281.5l.3 .1 .1-.1M1070.5 278l.1 .5 2.8-3.2 .1-.7 0 .1M1073.6 275l.1 .2 .9-.7M1081.3 267.9l1.3-1.5 1.1-1.1 2.2-1.7"/>
<path class="b9" d="M1076.2 273.1l.6-.8 3.2-2.8 1.3-1.6"/>
<path class="b6" d="M1085.9 263.6l2.2-1.6 1.5-1.5M1093.1 257.2l.4-.1 .3-.7M1094.3 255.5l.2-.1 .9-.5"/>
<path class="b7" d="M1089.6 260.5l1.6-1.5 .7-.9"/>
<path class="b5" d="M1091.9 258.1l.8-.8 .4-.1M1093.8 256.4l.2-.7 .3-.2"/>
<path class="b4" d="M1095.4 254.9l.9-.6 .8-.6M1099.2 251.5l.1 .2 .3-.7"/>
<path class="b1" d="M1097.1 253.7l.9-.7 1-1.7 .2 .2M1106.2 244.8l.4-.3 .2-.4M1109.5 241.5l0-.6 .5-.5 .4-.1 2.3-2.2M1115.1 236.1l.3 .3 .4-.6M1120.6 230.6l.8-.7 2.5-1 .4-1.7 0-.1 2.9-2.3 1-.8 .4-.5M1129.3 222.5l.4-.5 .7-.8 1.2-.5 1.7-1.8 3-3.5 .6 0"/>
<path class="b2" d="M1099.6 251l.3-.7 1.1-.9M1102.2 248.3l.1-.1 1.1-1.6 2.4-1.6 .4-.2M1107.2 243.6l.1-.1 1.1-.7"/>
<path class="b3" d="M1101 249.4l1.2-.9 0-.2"/>
<path class="b0" d="M1106.8 244.1l.3-.4 .1-.1M1108.4 242.8l1-.8 .1-.5M1112.7 238.1l2.2-2.3 .2 .3M1115.8 235.8l.5-.7 3.6-3.8 .7-.7M1128.6 223.5l.4-.4 .3-.6"/>
<path class="b1" stroke-width="0" d="M1136.3 215.4l1.2 0 1.4-1.4 3.6-3.6 1-.2 2.5-.4 .8-.4 1-.4 .5 .3M1149 208.7l.2 .4 2.5-.9"/>
<path class="b0" stroke-width="0" d="M1148.3 209.3l.7-.6"/>
</g>
<polyline points="857.7,454.9 861.1,454.1 894.8,452.4 922.2,450.4 940.5,448.9 958.7,447.7 967.8,447.1 979.2,445.9 1006.6,441.3 1034.0,438.2 1061.3,435.0 1088.7,430.4 1107.0,425.8 1119.2,421.8 1141.8,413.2 1173.1,402.6 1204.4,391.3 1235.6,380.7 1259.1,372.1 1273.2,365.8 1285.7,358.0 1295.1,349.4 1304.5,338.5 1312.3,326.8 1318.9,313.6 1324.1,300.4 1327.0,291.5 1330.7,271.0 1331.7,253.3 1330.7,234.2 1328.5,216.6 1325.6,197.5 1319.7,169.7 1315.3,150.6 1313.1,128.6 1311.6,117.6 1304.7,108.8 1302.1,96.3 1299.8,81.6 1296.2,69.1 1292.1,54.4" fill="none" stroke="#000" stroke-width="4.6" stroke-linejoin="round"/>
<polyline points="857.2,454.8 861.1,454.0 894.8,452.2 922.2,450.1 940.5,448.5 958.7,446.5 977.0,444.1 989.2,442.1 1006.6,438.2 1034.0,431.5 1061.3,424.7 1079.2,418.7 1099.2,411.0 1120.9,402.3 1141.8,390.7 1152.2,384.0 1162.6,373.8 1173.0,361.3 1179.3,350.9 1183.5,339.0 1187.6,325.8 1190.0,315.5 1191.9,302.9 1190.7,282.6 1188.2,265.6 1185.6,245.3 1186.5,230.9 1179.7,211.4 1173.8,187.7" fill="none" stroke="#b3b3b3" stroke-width="4.1" stroke-linejoin="round"/>
<path d="M153.9 22H638.1V458.1H153.9ZM153.9 458.1v6.4M153.9 22v-6.4M241.5 458.1v6.4M241.5 22v-6.4M330 458.1v6.4M330 22v-6.4M418.6 458.1v6.4M418.6 22v-6.4M507.1 458.1v6.4M507.1 22v-6.4M595.7 458.1v6.4M595.7 22v-6.4M153.9 458.1h-6.4M638.1 458.1h6.4M153.9 378.6h-6.4M638.1 378.6h6.4M153.9 299.1h-6.4M638.1 299.1h6.4M153.9 219.6h-6.4M638.1 219.6h6.4M153.9 140.1h-6.4M638.1 140.1h6.4M153.9 60.6h-6.4M638.1 60.6h6.4" fill="none" stroke="#262626" stroke-width="1.3"/>
<path d="M852.8 19.2H1337.7V455.6H852.8ZM852.8 455.6v6.4M852.8 19.2v-6.4M940.6 455.6v6.4M940.6 19.2v-6.4M1029.2 455.6v6.4M1029.2 19.2v-6.4M1117.8 455.6v6.4M1117.8 19.2v-6.4M1206.5 455.6v6.4M1206.5 19.2v-6.4M1295.1 455.6v6.4M1295.1 19.2v-6.4M852.8 455.6h-6.4M1337.7 455.6h6.4M852.8 376.1h-6.4M1337.7 376.1h6.4M852.8 296.6h-6.4M1337.7 296.6h6.4M852.8 217.1h-6.4M1337.7 217.1h6.4M852.8 137.6h-6.4M1337.7 137.6h6.4M852.8 58.1h-6.4M1337.7 58.1h6.4" fill="none" stroke="#262626" stroke-width="1.3"/>
<text x="152.1" y="507.2" font-size="34.6" text-anchor="middle" fill="#262626" textLength="18.5" lengthAdjust="spacingAndGlyphs">0</text>
<text x="851.2" y="505.4" font-size="34.6" text-anchor="middle" fill="#262626" textLength="18.5" lengthAdjust="spacingAndGlyphs">0</text>
<text x="240.7" y="507.2" font-size="34.6" text-anchor="middle" fill="#262626" textLength="55.6" lengthAdjust="spacingAndGlyphs">100</text>
<text x="939.8" y="505.4" font-size="34.6" text-anchor="middle" fill="#262626" textLength="55.6" lengthAdjust="spacingAndGlyphs">100</text>
<text x="329.2" y="507.2" font-size="34.6" text-anchor="middle" fill="#262626" textLength="55.6" lengthAdjust="spacingAndGlyphs">200</text>
<text x="1028.4" y="505.4" font-size="34.6" text-anchor="middle" fill="#262626" textLength="55.6" lengthAdjust="spacingAndGlyphs">200</text>
<text x="417.8" y="507.2" font-size="34.6" text-anchor="middle" fill="#262626" textLength="55.6" lengthAdjust="spacingAndGlyphs">300</text>
<text x="1117" y="505.4" font-size="34.6" text-anchor="middle" fill="#262626" textLength="55.6" lengthAdjust="spacingAndGlyphs">300</text>
<text x="506.3" y="507.2" font-size="34.6" text-anchor="middle" fill="#262626" textLength="55.6" lengthAdjust="spacingAndGlyphs">400</text>
<text x="1205.7" y="505.4" font-size="34.6" text-anchor="middle" fill="#262626" textLength="55.6" lengthAdjust="spacingAndGlyphs">400</text>
<text x="594.9" y="507.2" font-size="34.6" text-anchor="middle" fill="#262626" textLength="55.6" lengthAdjust="spacingAndGlyphs">500</text>
<text x="1294.3" y="505.4" font-size="34.6" text-anchor="middle" fill="#262626" textLength="55.6" lengthAdjust="spacingAndGlyphs">500</text>
<text x="136" y="470.3" font-size="34.6" text-anchor="end" fill="#262626" textLength="46.3" lengthAdjust="spacingAndGlyphs">0.0</text>
<text x="136" y="390.8" font-size="34.6" text-anchor="end" fill="#262626" textLength="46.3" lengthAdjust="spacingAndGlyphs">2.0</text>
<text x="136" y="311.3" font-size="34.6" text-anchor="end" fill="#262626" textLength="46.3" lengthAdjust="spacingAndGlyphs">4.0</text>
<text x="136" y="231.8" font-size="34.6" text-anchor="end" fill="#262626" textLength="46.3" lengthAdjust="spacingAndGlyphs">6.0</text>
<text x="136" y="152.3" font-size="34.6" text-anchor="end" fill="#262626" textLength="46.3" lengthAdjust="spacingAndGlyphs">8.0</text>
<text x="136" y="72.8" font-size="34.6" text-anchor="end" fill="#262626" textLength="64.8" lengthAdjust="spacingAndGlyphs">10.0</text>
<text x="397.3" y="551.6" font-size="37.8" text-anchor="middle" fill="#262626" textLength="234.5" lengthAdjust="spacingAndGlyphs">pCFC-12 (ppt)</text>
<text x="1096" y="549.2" font-size="37.8" text-anchor="middle" fill="#262626" textLength="234.5" lengthAdjust="spacingAndGlyphs">pCFC-12 (ppt)</text>
<text x="37.6" y="241.5" font-size="36.7" text-anchor="middle" fill="#262626" transform="rotate(-90 37.6 241.5)">pSF<tspan font-size="29.3" dx="2" dy="18.4">6</tspan><tspan dy="-18.4"> (ppt)</tspan></text>
<text x="170.6" y="70.6" font-size="48.3" fill="#000" textLength="25.2" lengthAdjust="spacingAndGlyphs">a</text>
<text x="870.2" y="68.3" font-size="46.2" fill="#000" textLength="26.6" lengthAdjust="spacingAndGlyphs">b</text>
<rect x="668.3" y="22.00" width="28.5" height="11.04" fill="#b90000"/>
<rect x="668.3" y="32.64" width="28.5" height="11.04" fill="#d10000"/>
<rect x="668.3" y="43.28" width="28.5" height="11.04" fill="#e80000"/>
<rect x="668.3" y="53.92" width="28.5" height="11.04" fill="#ff0000"/>
<rect x="668.3" y="64.57" width="28.5" height="11.04" fill="#ff1700"/>
<rect x="668.3" y="75.21" width="28.5" height="11.04" fill="#ff2e00"/>
<rect x="668.3" y="85.85" width="28.5" height="11.04" fill="#ff4600"/>
<rect x="668.3" y="96.49" width="28.5" height="11.04" fill="#ff5d00"/>
<rect x="668.3" y="107.13" width="28.5" height="11.04" fill="#ff7400"/>
<rect x="668.3" y="117.77" width="28.5" height="11.04" fill="#ff8b00"/>
<rect x="668.3" y="128.41" width="28.5" height="11.04" fill="#ffa200"/>
<rect x="668.3" y="139.06" width="28.5" height="11.04" fill="#ffb900"/>
<rect x="668.3" y="149.70" width="28.5" height="11.04" fill="#ffd100"/>
<rect x="668.3" y="160.34" width="28.5" height="11.04" fill="#ffe800"/>
<rect x="668.3" y="170.98" width="28.5" height="11.04" fill="#ffff00"/>
<rect x="668.3" y="181.62" width="28.5" height="11.04" fill="#e8ff17"/>
<rect x="668.3" y="192.26" width="28.5" height="11.04" fill="#d1ff2e"/>
<rect x="668.3" y="202.90" width="28.5" height="11.04" fill="#b9ff46"/>
<rect x="668.3" y="213.55" width="28.5" height="11.04" fill="#a2ff5d"/>
<rect x="668.3" y="224.19" width="28.5" height="11.04" fill="#8bff74"/>
<rect x="668.3" y="234.83" width="28.5" height="11.04" fill="#74ff8b"/>
<rect x="668.3" y="245.47" width="28.5" height="11.04" fill="#5dffa2"/>
<rect x="668.3" y="256.11" width="28.5" height="11.04" fill="#46ffb9"/>
<rect x="668.3" y="266.75" width="28.5" height="11.04" fill="#2effd1"/>
<rect x="668.3" y="277.40" width="28.5" height="11.04" fill="#17ffe8"/>
<rect x="668.3" y="288.04" width="28.5" height="11.04" fill="#00ffff"/>
<rect x="668.3" y="298.68" width="28.5" height="11.04" fill="#00e8ff"/>
<rect x="668.3" y="309.32" width="28.5" height="11.04" fill="#00d1ff"/>
<rect x="668.3" y="319.96" width="28.5" height="11.04" fill="#00b9ff"/>
<rect x="668.3" y="330.60" width="28.5" height="11.04" fill="#00a2ff"/>
<rect x="668.3" y="341.24" width="28.5" height="11.04" fill="#008bff"/>
<rect x="668.3" y="351.89" width="28.5" height="11.04" fill="#0074ff"/>
<rect x="668.3" y="362.53" width="28.5" height="11.04" fill="#005dff"/>
<rect x="668.3" y="373.17" width="28.5" height="11.04" fill="#0046ff"/>
<rect x="668.3" y="383.81" width="28.5" height="11.04" fill="#002eff"/>
<rect x="668.3" y="394.45" width="28.5" height="11.04" fill="#0017ff"/>
<rect x="668.3" y="405.09" width="28.5" height="11.04" fill="#0000ff"/>
<rect x="668.3" y="415.73" width="28.5" height="11.04" fill="#0000e8"/>
<rect x="668.3" y="426.38" width="28.5" height="11.04" fill="#0000d1"/>
<rect x="668.3" y="437.02" width="28.5" height="11.04" fill="#0000b9"/>
<rect x="668.3" y="447.66" width="28.5" height="11.04" fill="#0000a2"/>
<text x="712.6" y="39.5" font-size="34.6" text-anchor="start" fill="#262626">2020</text>
<text x="712.6" y="146" font-size="34.6" text-anchor="start" fill="#262626">2010</text>
<text x="712.6" y="252.5" font-size="34.6" text-anchor="start" fill="#262626">2000</text>
<text x="712.6" y="359" font-size="34.6" text-anchor="start" fill="#262626">1990</text>
<text x="712.6" y="465.5" font-size="34.6" text-anchor="start" fill="#262626">1980</text>
<path d="M668.3 22H696.8V458.3H668.3ZM696.8 26h4.5M696.8 132.5h4.5M696.8 239h4.5M696.8 345.5h4.5M696.8 452h4.5" fill="none" stroke="#262626" stroke-width="1.1"/>
<text x="830.9" y="239.5" font-size="37.1" text-anchor="middle" fill="#262626" transform="rotate(-90 830.9 239.5)" textLength="73.6" lengthAdjust="spacingAndGlyphs">Year</text>
<rect x="1367.1" y="19.20" width="29.3" height="13.63" fill="#c60000"/>
<rect x="1367.1" y="32.43" width="29.3" height="13.63" fill="#e30000"/>
<rect x="1367.1" y="45.66" width="29.3" height="13.63" fill="#ff0000"/>
<rect x="1367.1" y="58.89" width="29.3" height="13.63" fill="#ff1c00"/>
<rect x="1367.1" y="72.12" width="29.3" height="13.63" fill="#ff3900"/>
<rect x="1367.1" y="85.35" width="29.3" height="13.63" fill="#ff5500"/>
<rect x="1367.1" y="98.58" width="29.3" height="13.63" fill="#ff7100"/>
<rect x="1367.1" y="111.81" width="29.3" height="13.63" fill="#ff8e00"/>
<rect x="1367.1" y="125.04" width="29.3" height="13.63" fill="#ffaa00"/>
<rect x="1367.1" y="138.27" width="29.3" height="13.63" fill="#ffc600"/>
<rect x="1367.1" y="151.50" width="29.3" height="13.63" fill="#ffe300"/>
<rect x="1367.1" y="164.73" width="29.3" height="13.63" fill="#ffff00"/>
<rect x="1367.1" y="177.96" width="29.3" height="13.63" fill="#e3ff1c"/>
<rect x="1367.1" y="191.19" width="29.3" height="13.63" fill="#c6ff39"/>
<rect x="1367.1" y="204.42" width="29.3" height="13.63" fill="#aaff55"/>
<rect x="1367.1" y="217.65" width="29.3" height="13.63" fill="#8eff71"/>
<rect x="1367.1" y="230.88" width="29.3" height="13.63" fill="#71ff8e"/>
<rect x="1367.1" y="244.12" width="29.3" height="13.63" fill="#55ffaa"/>
<rect x="1367.1" y="257.35" width="29.3" height="13.63" fill="#39ffc6"/>
<rect x="1367.1" y="270.58" width="29.3" height="13.63" fill="#1cffe3"/>
<rect x="1367.1" y="283.81" width="29.3" height="13.63" fill="#00ffff"/>
<rect x="1367.1" y="297.04" width="29.3" height="13.63" fill="#00e3ff"/>
<rect x="1367.1" y="310.27" width="29.3" height="13.63" fill="#00c6ff"/>
<rect x="1367.1" y="323.50" width="29.3" height="13.63" fill="#00aaff"/>
<rect x="1367.1" y="336.73" width="29.3" height="13.63" fill="#008eff"/>
<rect x="1367.1" y="349.96" width="29.3" height="13.63" fill="#0071ff"/>
<rect x="1367.1" y="363.19" width="29.3" height="13.63" fill="#0055ff"/>
<rect x="1367.1" y="376.42" width="29.3" height="13.63" fill="#0039ff"/>
<rect x="1367.1" y="389.65" width="29.3" height="13.63" fill="#001cff"/>
<rect x="1367.1" y="402.88" width="29.3" height="13.63" fill="#0000ff"/>
<rect x="1367.1" y="416.11" width="29.3" height="13.63" fill="#0000e3"/>
<rect x="1367.1" y="429.34" width="29.3" height="13.63" fill="#0000c6"/>
<rect x="1367.1" y="442.57" width="29.3" height="13.63" fill="#0000aa"/>
<text x="1412" y="31.9" font-size="35.1" text-anchor="start" fill="#262626" textLength="59.6" lengthAdjust="spacingAndGlyphs">-0.4</text>
<text x="1412" y="137.8" font-size="35.1" text-anchor="start" fill="#262626" textLength="59.6" lengthAdjust="spacingAndGlyphs">-0.6</text>
<text x="1412" y="243.7" font-size="35.1" text-anchor="start" fill="#262626" textLength="59.6" lengthAdjust="spacingAndGlyphs">-0.8</text>
<text x="1412" y="349.6" font-size="35.1" text-anchor="start" fill="#262626" textLength="59.6" lengthAdjust="spacingAndGlyphs">-1.0</text>
<text x="1412" y="455.5" font-size="35.1" text-anchor="start" fill="#262626" textLength="59.6" lengthAdjust="spacingAndGlyphs">-1.2</text>
<path d="M1367.1 19.2H1396.4V455.8H1367.1ZM1396.4 19.2h4.5M1396.4 125.1h4.5M1396.4 231h4.5M1396.4 336.9h4.5M1396.4 442.8h4.5" fill="none" stroke="#262626" stroke-width="1.1"/>
<text x="1524.9" y="237.5" font-size="35.0" text-anchor="middle" fill="#262626" transform="rotate(-90 1524.9 237.5)">Potential temperature (<tspan font-size="28" dy="-12">o</tspan><tspan dy="12">C)</tspan></text>
<path d="M365.1 642.3H1214.4" stroke="#000" stroke-width="5.2" stroke-dasharray="20.5 20.97" fill="none"/>
<path d="M365.1 762.8H1214.4" stroke="#000" stroke-width="5.2" stroke-dasharray="20.5 20.97" fill="none"/>
<text x="778" y="683" font-size="40.8" text-anchor="middle" fill="#000" textLength="449.1" lengthAdjust="spacingAndGlyphs">Atmospheric ratio in 2020</text>
<text x="779.7" y="798.7" font-size="40.8" text-anchor="middle" fill="#000" textLength="449.1" lengthAdjust="spacingAndGlyphs">Atmospheric ratio in 2010</text>
<text x="390" y="700.5" font-size="50" fill="#000">c</text>
<defs><marker id="mc" markerUnits="userSpaceOnUse" markerWidth="12" markerHeight="12" refX="6" refY="6"><circle cx="6" cy="6" r="5" fill="#e60012"/></marker></defs>
<polyline points="388.8,971.9 400.9,950 413.1,928.5 425.2,925.4 437.4,928.5 449.6,933.2 461.7,938.1 473.9,940.2 486,941.6 498.2,942.6 510.3,944.1 522.5,945.5 534.7,946.1 546.8,945.5 559,944.1 571.1,943 583.3,942 595.4,941.2 607.6,940.8 619.8,940.6 631.9,940.4 644.1,940.4 656.2,940.1 668.4,939.8 680.5,939.1 692.7,937.9 704.9,935.3 717,933 729.2,929.9 741.3,926.7 753.5,923.2 765.6,919.7 777.8,916.6 789.9,913.4 802.1,910.3 814.3,907.2 826.4,903.7 838.6,900.9 850.7,898 862.9,894.7 875,890.2 887.2,885.5 899.4,880.2 911.5,874.7 923.7,868.3 935.8,862.2 948,855.2 960.1,848.4 972.3,843.2 984.5,837.4 996.6,830.9 1008.8,824.5 1020.9,817.5 1033.1,810.7 1045.2,803.9 1057.4,795.5 1069.6,786.7 1081.7,778.6 1093.9,769.4 1106,757.8 1118.2,748.1 1130.3,736.7 1142.5,725.2 1154.7,712.7 1166.8,701.7 1179,689.9 1191.1,673.9 1203.3,659.3 1215.4,644.2" fill="none" stroke="#e60012" stroke-width="1.15" marker-start="url(#mc)" marker-mid="url(#mc)" marker-end="url(#mc)"/>
<path d="M365.1 632.6H1214.4V971.7H365.1ZM365.1 971.7v9.4M365.1 632.6v-9.4M486.4 971.7v9.4M486.4 632.6v-9.4M607.8 971.7v9.4M607.8 632.6v-9.4M729.1 971.7v9.4M729.1 632.6v-9.4M850.5 971.7v9.4M850.5 632.6v-9.4M971.8 971.7v9.4M971.8 632.6v-9.4M1093.1 971.7v9.4M1093.1 632.6v-9.4M1214.5 971.7v9.4M1214.5 632.6v-9.4M365.1 971.7h-9.4M1214.4 971.7h9.4M365.1 890.8h-9.4M1214.4 890.8h9.4M365.1 810h-9.4M1214.4 810h9.4M365.1 729.1h-9.4M1214.4 729.1h9.4M365.1 648.2h-9.4M1214.4 648.2h9.4" fill="none" stroke="#262626" stroke-width="1.3"/>
<text x="364.6" y="1031.8" font-size="41.6" text-anchor="middle" fill="#262626" textLength="89.0" lengthAdjust="spacingAndGlyphs">1950</text>
<text x="485.9" y="1031.8" font-size="41.6" text-anchor="middle" fill="#262626" textLength="89.0" lengthAdjust="spacingAndGlyphs">1960</text>
<text x="607.3" y="1031.8" font-size="41.6" text-anchor="middle" fill="#262626" textLength="89.0" lengthAdjust="spacingAndGlyphs">1970</text>
<text x="728.6" y="1031.8" font-size="41.6" text-anchor="middle" fill="#262626" textLength="89.0" lengthAdjust="spacingAndGlyphs">1980</text>
<text x="850" y="1031.8" font-size="41.6" text-anchor="middle" fill="#262626" textLength="89.0" lengthAdjust="spacingAndGlyphs">1990</text>
<text x="971.3" y="1031.8" font-size="41.6" text-anchor="middle" fill="#262626" textLength="89.0" lengthAdjust="spacingAndGlyphs">2000</text>
<text x="1092.6" y="1031.8" font-size="41.6" text-anchor="middle" fill="#262626" textLength="89.0" lengthAdjust="spacingAndGlyphs">2010</text>
<text x="1214" y="1031.8" font-size="41.6" text-anchor="middle" fill="#262626" textLength="89.0" lengthAdjust="spacingAndGlyphs">2020</text>
<text x="340.7" y="986.3" font-size="41.6" text-anchor="end" fill="#262626" textLength="100.1" lengthAdjust="spacingAndGlyphs">0.000</text>
<text x="340.7" y="905.4" font-size="41.6" text-anchor="end" fill="#262626" textLength="100.1" lengthAdjust="spacingAndGlyphs">0.005</text>
<text x="340.7" y="824.6" font-size="41.6" text-anchor="end" fill="#262626" textLength="100.1" lengthAdjust="spacingAndGlyphs">0.010</text>
<text x="340.7" y="743.7" font-size="41.6" text-anchor="end" fill="#262626" textLength="100.1" lengthAdjust="spacingAndGlyphs">0.015</text>
<text x="340.7" y="662.8" font-size="41.6" text-anchor="end" fill="#262626" textLength="100.1" lengthAdjust="spacingAndGlyphs">0.020</text>
<text x="790.3" y="1080.6" font-size="41.5" text-anchor="middle" fill="#262626" textLength="81.4" lengthAdjust="spacingAndGlyphs">Year</text>
<text x="223.2" y="802" font-size="41.5" text-anchor="middle" fill="#262626" transform="rotate(-90 223.2 802)" textLength="103.1" lengthAdjust="spacingAndGlyphs">Slope</text>
</svg>
</body>
</html>
